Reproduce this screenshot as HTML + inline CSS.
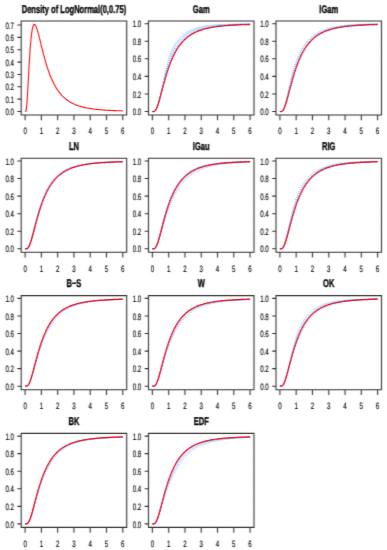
<!DOCTYPE html>
<html><head><meta charset="utf-8"><style>
html,body{margin:0;padding:0;background:#fff;}
svg{display:block;}
#w{width:387px;height:550px;}
text{font-family:"Liberation Sans",sans-serif;fill:#000;stroke:#000;text-rendering:geometricPrecision;}
</style></head><body>
<div id="w"><svg width="387" height="550" viewBox="0 0 387 550">
<defs><filter id="b" x="0" y="0" width="387" height="550" filterUnits="userSpaceOnUse"><feConvolveMatrix order="3" kernelMatrix="0.0120 0.0483 0.0120 0.1423 0.5706 0.1423 0.0120 0.0483 0.0120" edgeMode="duplicate" preserveAlpha="false"/></filter><filter id="c" x="0" y="0" width="387" height="550" filterUnits="userSpaceOnUse"><feConvolveMatrix order="3" kernelMatrix="0.0043 0.0318 0.0043 0.0979 0.7234 0.0979 0.0043 0.0318 0.0043" edgeMode="duplicate" preserveAlpha="false"/></filter></defs>
<rect width="387" height="550" fill="#fff"/>
<g filter="url(#c)">
<path d="M25.1 111.5 25.8 111.4 26.4 108.7 27.1 101.4 27.7 90.8 28.4 78.6 29.0 66.7 29.7 55.9 30.3 46.7 31.0 39.3 31.6 33.6 32.3 29.4 32.9 26.7 33.6 25.1 34.2 24.4 34.9 24.6 35.5 25.5 36.2 26.8 36.8 28.6 37.5 30.6 38.1 32.9 38.8 35.3 39.4 37.9 40.1 40.5 40.7 43.1 41.4 45.8 42.0 48.4 42.7 51.0 43.3 53.5 44.0 55.9 44.6 58.3 45.3 60.6 45.9 62.9 46.6 65.0 47.2 67.1 47.9 69.1 48.5 71.0 49.2 72.8 49.8 74.5 50.5 76.2 51.1 77.8 51.8 79.3 52.5 80.7 53.1 82.1 53.8 83.4 54.4 84.7 55.1 85.8 55.7 87.0 56.4 88.1 57.0 89.1 57.7 90.1 58.3 91.0 59.0 91.9 59.6 92.7 60.3 93.6 60.9 94.3 61.6 95.1 62.2 95.8 62.9 96.4 63.5 97.1 64.2 97.7 64.8 98.2 65.5 98.8 66.1 99.3 66.8 99.8 67.4 100.3 68.1 100.7 68.7 101.2 69.4 101.6 70.0 102.0 70.7 102.4 71.3 102.7 72.0 103.1 72.6 103.4 73.3 103.7 73.9 104.0 74.6 104.3 75.2 104.6 75.9 104.9 76.5 105.1 77.2 105.3 77.8 105.6 78.5 105.8 79.1 106.0 79.8 106.2 80.5 106.4 81.1 106.6 81.8 106.8 82.4 106.9 83.1 107.1 83.7 107.3 84.4 107.4 85.0 107.6 85.7 107.7 86.3 107.8 87.0 108.0 87.6 108.1 88.3 108.2 88.9 108.3 89.6 108.4 90.2 108.5 90.9 108.6 91.5 108.7 92.2 108.8 92.8 108.9 93.5 109.0 94.1 109.1 94.8 109.2 95.4 109.2 96.1 109.3 96.7 109.4 97.4 109.5 98.0 109.5 98.7 109.6 99.3 109.7 100.0 109.7 100.6 109.8 101.3 109.8 101.9 109.9 102.6 109.9 103.2 110.0 103.9 110.0 104.5 110.1 105.2 110.1 105.8 110.2 106.5 110.2 107.2 110.2 107.8 110.3 108.5 110.3 109.1 110.4 109.8 110.4 110.4 110.4 111.1 110.5 111.7 110.5 112.4 110.5 113.0 110.5 113.7 110.6 114.3 110.6 115.0 110.6 115.6 110.7 116.3 110.7 116.9 110.7 117.6 110.7 118.2 110.7 118.9 110.8 119.5 110.8 120.2 110.8 120.8 110.8 121.5 110.8 122.1 110.9 122.8 110.9" fill="none" stroke="#ff1010" stroke-width="1.1"/>
<path d="M152.4 111.5 153.1 111.5 153.7 111.5 154.4 111.3 155.0 110.9 155.7 110.1 156.3 109.0 157.0 107.6 157.6 105.9 158.2 103.9 158.9 101.8 159.5 99.5 160.2 97.1 160.8 94.7 161.4 92.2 162.0 89.7 162.6 87.2 163.3 84.8 163.9 82.4 164.5 80.1 165.1 77.8 165.7 75.6 166.3 73.4 166.9 71.3 167.5 69.3 168.1 67.4 168.7 65.5 169.3 63.7 169.9 62.0 170.5 60.4 171.1 58.8 171.7 57.3 172.3 55.8 173.0 54.5 173.6 53.1 174.2 51.9 174.8 50.7 175.5 49.5 176.1 48.4 176.8 47.3 177.4 46.3 178.1 45.3 178.7 44.4 179.4 43.5 180.1 42.7 180.7 41.9 181.4 41.1 182.1 40.4 182.7 39.7 183.4 39.0 184.1 38.4 184.8 37.7 185.4 37.2 186.1 36.6 186.8 36.1 187.5 35.6 188.1 35.1 188.8 34.6 189.5 34.2 190.2 33.8 190.9 33.4 191.5 33.0 192.2 32.6 192.9 32.3 193.6 31.9 194.2 31.6 194.9 31.3 195.6 31.0 196.3 30.7 196.9 30.5 197.6 30.2 198.3 30.0 198.9 29.7 199.6 29.5 200.3 29.3 201.0 29.1 201.6 28.9 202.3 28.7 203.0 28.5 203.6 28.4 204.3 28.2 204.9 28.0 205.6 27.9 206.3 27.7 206.9 27.6 207.6 27.5 208.3 27.4 208.9 27.2 209.6 27.1 210.2 27.0 210.9 26.9 211.5 26.8 212.2 26.7 212.9 26.6 213.5 26.5 214.2 26.4 214.8 26.3 215.5 26.2 216.1 26.2 216.8 26.1 217.5 26.0 218.1 25.9 218.8 25.9 219.4 25.8 220.1 25.7 220.7 25.7 221.4 25.6 222.0 25.6 222.7 25.5 223.3 25.5 224.0 25.4 224.6 25.4 225.3 25.3 226.0 25.3 226.6 25.2 227.3 25.2 227.9 25.1 228.6 25.1 229.2 25.1 229.9 25.0 230.5 25.0 231.2 24.9 231.8 24.9 232.5 24.9 233.1 24.8 233.8 24.8 234.4 24.8 235.1 24.8 235.7 24.7 236.4 24.7 237.0 24.7 237.7 24.6 238.3 24.6 239.0 24.6 239.7 24.6 240.3 24.6 241.0 24.5 241.6 24.5 242.3 24.5 242.9 24.5 243.6 24.5 244.2 24.4 244.9 24.4 245.5 24.4 246.2 24.4 246.8 24.4 247.5 24.3 248.1 24.3 248.8 24.3 249.4 24.3 250.1 24.3" fill="none" stroke="#9ccaff" stroke-width="1.0" stroke-dasharray="1 1.2"/>
<path d="M152.4 111.5 153.1 111.5 153.7 111.5 154.4 111.3 155.0 110.9 155.7 110.1 156.3 109.0 157.0 107.6 157.6 105.9 158.2 103.9 158.9 101.8 159.5 99.5 160.1 97.1 160.7 94.7 161.4 92.2 162.0 89.7 162.5 87.2 163.1 84.8 163.7 82.4 164.3 80.0 164.9 77.7 165.4 75.5 166.0 73.3 166.6 71.2 167.2 69.2 167.7 67.3 168.3 65.4 168.9 63.6 169.5 61.9 170.0 60.2 170.6 58.6 171.2 57.1 171.8 55.6 172.4 54.2 173.1 52.9 173.7 51.6 174.3 50.4 174.9 49.2 175.6 48.0 176.2 47.0 176.9 45.9 177.5 44.9 178.2 44.0 178.8 43.1 179.5 42.2 180.2 41.4 180.9 40.6 181.5 39.9 182.2 39.2 182.9 38.5 183.6 37.8 184.3 37.2 185.0 36.6 185.7 36.1 186.4 35.5 187.1 35.0 187.8 34.5 188.4 34.1 189.1 33.6 189.8 33.2 190.5 32.8 191.2 32.4 191.9 32.1 192.6 31.7 193.3 31.4 194.0 31.1 194.7 30.8 195.4 30.5 196.0 30.2 196.7 29.9 197.4 29.7 198.1 29.5 198.8 29.2 199.4 29.0 200.1 28.8 200.8 28.6 201.5 28.4 202.1 28.3 202.8 28.1 203.5 27.9 204.2 27.8 204.8 27.6 205.5 27.5 206.2 27.3 206.8 27.2 207.5 27.1 208.2 27.0 208.8 26.9 209.5 26.7 210.2 26.6 210.8 26.5 211.5 26.4 212.1 26.4 212.8 26.3 213.5 26.2 214.1 26.1 214.8 26.0 215.4 25.9 216.1 25.9 216.8 25.8 217.4 25.7 218.1 25.7 218.7 25.6 219.4 25.5 220.0 25.5 220.7 25.4 221.4 25.4 222.0 25.3 222.7 25.3 223.3 25.2 224.0 25.2 224.6 25.1 225.3 25.1 225.9 25.1 226.6 25.0 227.2 25.0 227.9 24.9 228.6 24.9 229.2 24.9 229.9 24.8 230.5 24.8 231.2 24.8 231.8 24.8 232.5 24.7 233.1 24.7 233.8 24.7 234.4 24.6 235.1 24.6 235.7 24.6 236.4 24.6 237.0 24.5 237.7 24.5 238.3 24.5 239.0 24.5 239.6 24.5 240.3 24.4 240.9 24.4 241.6 24.4 242.3 24.4 242.9 24.4 243.6 24.4 244.2 24.3 244.9 24.3 245.5 24.3 246.2 24.3 246.8 24.3 247.5 24.3 248.1 24.2 248.8 24.2 249.4 24.2 250.1 24.2" fill="none" stroke="#9ccaff" stroke-width="1.0" stroke-dasharray="1 1.2"/>
<path d="M152.4 111.5 153.1 111.5 153.7 111.5 154.4 111.3 155.0 110.9 155.7 110.1 156.3 109.0 157.0 107.6 157.6 105.9 158.2 103.9 158.9 101.8 159.5 99.5 160.1 97.1 160.7 94.6 161.3 92.2 161.9 89.7 162.5 87.2 163.0 84.7 163.6 82.3 164.1 80.0 164.7 77.7 165.2 75.4 165.8 73.2 166.3 71.1 166.8 69.1 167.4 67.2 167.9 65.3 168.5 63.5 169.1 61.7 169.6 60.0 170.2 58.4 170.8 56.9 171.4 55.4 171.9 54.0 172.5 52.6 173.2 51.3 173.8 50.0 174.4 48.9 175.0 47.7 175.7 46.6 176.3 45.6 177.0 44.6 177.6 43.6 178.3 42.7 179.0 41.8 179.7 41.0 180.3 40.2 181.0 39.4 181.7 38.7 182.4 38.0 183.1 37.3 183.8 36.7 184.5 36.1 185.2 35.5 185.9 35.0 186.7 34.5 187.4 34.0 188.1 33.5 188.8 33.1 189.5 32.7 190.2 32.3 190.9 31.9 191.6 31.5 192.3 31.2 193.0 30.8 193.7 30.5 194.4 30.2 195.1 30.0 195.8 29.7 196.5 29.4 197.2 29.2 197.9 29.0 198.6 28.7 199.3 28.5 200.0 28.3 200.6 28.2 201.3 28.0 202.0 27.8 202.7 27.6 203.4 27.5 204.0 27.3 204.7 27.2 205.4 27.1 206.1 26.9 206.7 26.8 207.4 26.7 208.1 26.6 208.8 26.5 209.4 26.4 210.1 26.3 210.8 26.2 211.4 26.1 212.1 26.0 212.8 25.9 213.4 25.9 214.1 25.8 214.7 25.7 215.4 25.6 216.1 25.6 216.7 25.5 217.4 25.5 218.0 25.4 218.7 25.3 219.4 25.3 220.0 25.2 220.7 25.2 221.3 25.1 222.0 25.1 222.6 25.1 223.3 25.0 224.0 25.0 224.6 24.9 225.3 24.9 225.9 24.9 226.6 24.8 227.2 24.8 227.9 24.8 228.5 24.7 229.2 24.7 229.8 24.7 230.5 24.6 231.2 24.6 231.8 24.6 232.5 24.6 233.1 24.5 233.8 24.5 234.4 24.5 235.1 24.5 235.7 24.5 236.4 24.4 237.0 24.4 237.7 24.4 238.3 24.4 239.0 24.4 239.6 24.3 240.3 24.3 240.9 24.3 241.6 24.3 242.2 24.3 242.9 24.3 243.6 24.2 244.2 24.2 244.9 24.2 245.5 24.2 246.2 24.2 246.8 24.2 247.5 24.2 248.1 24.2 248.8 24.2 249.4 24.1 250.1 24.1" fill="none" stroke="#9ccaff" stroke-width="1.0" stroke-dasharray="1 1.2"/>
<path d="M152.4 111.5 153.1 111.5 153.7 111.5 154.4 111.3 155.0 110.9 155.7 110.1 156.3 109.0 157.0 107.6 157.6 105.9 158.2 103.9 158.9 101.8 159.5 99.5 160.1 97.1 160.7 94.6 161.2 92.1 161.8 89.6 162.4 87.2 162.9 84.7 163.4 82.3 164.0 79.9 164.5 77.6 165.0 75.4 165.5 73.2 166.0 71.1 166.5 69.0 167.1 67.0 167.6 65.1 168.1 63.3 168.6 61.5 169.2 59.8 169.7 58.2 170.3 56.7 170.9 55.2 171.4 53.7 172.0 52.3 172.6 51.0 173.2 49.7 173.9 48.5 174.5 47.4 175.1 46.3 175.8 45.2 176.4 44.2 177.1 43.2 177.8 42.3 178.4 41.4 179.1 40.5 179.8 39.7 180.5 38.9 181.2 38.2 181.9 37.5 182.6 36.8 183.4 36.2 184.1 35.6 184.8 35.0 185.5 34.5 186.2 33.9 187.0 33.4 187.7 33.0 188.4 32.5 189.1 32.1 189.9 31.7 190.6 31.3 191.3 31.0 192.0 30.6 192.7 30.3 193.5 30.0 194.2 29.7 194.9 29.4 195.6 29.2 196.3 28.9 197.0 28.7 197.7 28.5 198.4 28.3 199.1 28.1 199.8 27.9 200.5 27.7 201.2 27.5 201.9 27.3 202.6 27.2 203.2 27.0 203.9 26.9 204.6 26.8 205.3 26.6 206.0 26.5 206.7 26.4 207.3 26.3 208.0 26.2 208.7 26.1 209.4 26.0 210.0 25.9 210.7 25.8 211.4 25.8 212.0 25.7 212.7 25.6 213.4 25.5 214.0 25.5 214.7 25.4 215.4 25.3 216.0 25.3 216.7 25.2 217.3 25.2 218.0 25.1 218.7 25.1 219.3 25.0 220.0 25.0 220.6 24.9 221.3 24.9 222.0 24.9 222.6 24.8 223.3 24.8 223.9 24.8 224.6 24.7 225.2 24.7 225.9 24.7 226.6 24.6 227.2 24.6 227.9 24.6 228.5 24.5 229.2 24.5 229.8 24.5 230.5 24.5 231.1 24.5 231.8 24.4 232.5 24.4 233.1 24.4 233.8 24.4 234.4 24.4 235.1 24.3 235.7 24.3 236.4 24.3 237.0 24.3 237.7 24.3 238.3 24.3 239.0 24.2 239.6 24.2 240.3 24.2 240.9 24.2 241.6 24.2 242.2 24.2 242.9 24.2 243.5 24.1 244.2 24.1 244.9 24.1 245.5 24.1 246.2 24.1 246.8 24.1 247.5 24.1 248.1 24.1 248.8 24.1 249.4 24.1 250.1 24.1" fill="none" stroke="#9ccaff" stroke-width="1.0" stroke-dasharray="1 1.2"/>
<path d="M152.4 111.5 153.1 111.5 153.7 111.5 154.4 111.3 155.0 110.9 155.7 110.1 156.3 109.0 156.9 107.6 157.6 105.9 158.2 103.9 158.8 101.8 159.4 99.5 160.0 97.1 160.6 94.6 161.2 92.1 161.7 89.6 162.3 87.1 162.8 84.7 163.3 82.2 163.8 79.9 164.3 77.5 164.8 75.3 165.3 73.1 165.7 71.0 166.2 68.9 166.7 66.9 167.2 65.0 167.7 63.2 168.2 61.4 168.8 59.7 169.3 58.0 169.8 56.4 170.4 54.9 170.9 53.5 171.5 52.1 172.1 50.7 172.7 49.4 173.3 48.2 173.9 47.0 174.6 45.9 175.2 44.8 175.9 43.8 176.5 42.8 177.2 41.8 177.9 40.9 178.6 40.1 179.3 39.2 180.0 38.5 180.7 37.7 181.4 37.0 182.2 36.3 182.9 35.7 183.6 35.1 184.4 34.5 185.1 33.9 185.8 33.4 186.6 32.9 187.3 32.4 188.1 32.0 188.8 31.6 189.5 31.2 190.3 30.8 191.0 30.4 191.7 30.1 192.5 29.8 193.2 29.5 193.9 29.2 194.6 28.9 195.4 28.6 196.1 28.4 196.8 28.2 197.5 28.0 198.2 27.8 198.9 27.6 199.6 27.4 200.3 27.2 201.0 27.0 201.7 26.9 202.4 26.7 203.1 26.6 203.8 26.5 204.5 26.4 205.2 26.2 205.9 26.1 206.6 26.0 207.2 25.9 207.9 25.8 208.6 25.7 209.3 25.6 210.0 25.6 210.6 25.5 211.3 25.4 212.0 25.3 212.6 25.3 213.3 25.2 214.0 25.2 214.6 25.1 215.3 25.0 216.0 25.0 216.6 24.9 217.3 24.9 218.0 24.9 218.6 24.8 219.3 24.8 220.0 24.7 220.6 24.7 221.3 24.7 221.9 24.6 222.6 24.6 223.3 24.6 223.9 24.5 224.6 24.5 225.2 24.5 225.9 24.5 226.5 24.4 227.2 24.4 227.9 24.4 228.5 24.4 229.2 24.3 229.8 24.3 230.5 24.3 231.1 24.3 231.8 24.3 232.4 24.3 233.1 24.2 233.7 24.2 234.4 24.2 235.1 24.2 235.7 24.2 236.4 24.2 237.0 24.2 237.7 24.1 238.3 24.1 239.0 24.1 239.6 24.1 240.3 24.1 240.9 24.1 241.6 24.1 242.2 24.1 242.9 24.1 243.5 24.0 244.2 24.0 244.9 24.0 245.5 24.0 246.2 24.0 246.8 24.0 247.5 24.0 248.1 24.0 248.8 24.0 249.4 24.0 250.1 24.0" fill="none" stroke="#9ccaff" stroke-width="1.0" stroke-dasharray="1 1.2"/>
<path d="M152.4 111.5 153.1 111.5 153.7 111.5 154.4 111.3 155.0 110.9 155.7 110.1 156.3 109.0 156.9 107.6 157.6 105.9 158.2 103.9 158.8 101.8 159.4 99.5 160.0 97.1 160.6 94.6 161.1 92.1 161.7 89.6 162.2 87.1 162.7 84.6 163.1 82.2 163.6 79.8 164.1 77.5 164.5 75.2 165.0 73.0 165.5 70.9 165.9 68.8 166.4 66.8 166.9 64.9 167.3 63.0 167.8 61.2 168.3 59.5 168.8 57.8 169.3 56.2 169.9 54.7 170.4 53.2 171.0 51.8 171.6 50.4 172.2 49.1 172.8 47.9 173.4 46.7 174.0 45.5 174.7 44.4 175.3 43.4 176.0 42.4 176.7 41.4 177.4 40.5 178.1 39.6 178.8 38.8 179.5 38.0 180.2 37.2 181.0 36.5 181.7 35.8 182.4 35.2 183.2 34.5 183.9 33.9 184.7 33.4 185.4 32.9 186.2 32.4 186.9 31.9 187.7 31.4 188.4 31.0 189.2 30.6 190.0 30.2 190.7 29.9 191.4 29.5 192.2 29.2 192.9 28.9 193.7 28.6 194.4 28.4 195.1 28.1 195.9 27.9 196.6 27.7 197.3 27.5 198.0 27.3 198.8 27.1 199.5 26.9 200.2 26.7 200.9 26.6 201.6 26.4 202.3 26.3 203.0 26.2 203.7 26.0 204.4 25.9 205.1 25.8 205.8 25.7 206.5 25.6 207.2 25.5 207.8 25.4 208.5 25.4 209.2 25.3 209.9 25.2 210.6 25.1 211.2 25.1 211.9 25.0 212.6 25.0 213.3 24.9 213.9 24.8 214.6 24.8 215.3 24.7 215.9 24.7 216.6 24.7 217.3 24.6 217.9 24.6 218.6 24.5 219.3 24.5 219.9 24.5 220.6 24.5 221.3 24.4 221.9 24.4 222.6 24.4 223.2 24.3 223.9 24.3 224.6 24.3 225.2 24.3 225.9 24.3 226.5 24.2 227.2 24.2 227.8 24.2 228.5 24.2 229.2 24.2 229.8 24.2 230.5 24.1 231.1 24.1 231.8 24.1 232.4 24.1 233.1 24.1 233.7 24.1 234.4 24.1 235.1 24.0 235.7 24.0 236.4 24.0 237.0 24.0 237.7 24.0 238.3 24.0 239.0 24.0 239.6 24.0 240.3 24.0 240.9 24.0 241.6 24.0 242.2 24.0 242.9 24.0 243.5 23.9 244.2 23.9 244.8 23.9 245.5 23.9 246.2 23.9 246.8 23.9 247.5 23.9 248.1 23.9 248.8 23.9 249.4 23.9 250.1 23.9" fill="none" stroke="#9ccaff" stroke-width="1.0" stroke-dasharray="1 1.2"/>
<path d="M152.4 111.5 153.1 111.5 153.7 111.4 154.3 111.2 154.9 110.8 155.5 110.0 156.1 108.9 156.7 107.5 157.3 105.8 158.0 103.8 158.6 101.7 159.2 99.4 159.8 97.0 160.5 94.6 161.1 92.1 161.7 89.6 162.4 87.2 163.0 84.7 163.7 82.3 164.3 80.0 164.9 77.7 165.6 75.5 166.2 73.4 166.9 71.3 167.5 69.3 168.2 67.4 168.8 65.6 169.5 63.8 170.1 62.1 170.8 60.5 171.4 58.9 172.1 57.5 172.7 56.0 173.4 54.7 174.0 53.4 174.7 52.1 175.3 50.9 176.0 49.8 176.6 48.7 177.3 47.7 178.0 46.7 178.6 45.7 179.3 44.8 179.9 43.9 180.6 43.1 181.2 42.3 181.9 41.6 182.6 40.8 183.2 40.2 183.9 39.5 184.6 38.9 185.2 38.3 185.9 37.7 186.5 37.1 187.2 36.6 187.9 36.1 188.5 35.6 189.2 35.1 189.8 34.7 190.5 34.3 191.2 33.9 191.8 33.5 192.5 33.1 193.1 32.7 193.8 32.4 194.5 32.1 195.1 31.7 195.8 31.4 196.4 31.2 197.1 30.9 197.8 30.6 198.4 30.4 199.1 30.1 199.7 29.9 200.4 29.6 201.1 29.4 201.7 29.2 202.4 29.0 203.0 28.8 203.7 28.6 204.3 28.5 205.0 28.3 205.7 28.1 206.3 28.0 207.0 27.8 207.6 27.7 208.3 27.5 208.9 27.4 209.6 27.3 210.3 27.1 210.9 27.0 211.6 26.9 212.2 26.8 212.9 26.7 213.5 26.6 214.2 26.5 214.8 26.4 215.5 26.3 216.1 26.2 216.8 26.1 217.5 26.0 218.1 25.9 218.8 25.8 219.4 25.8 220.1 25.7 220.7 25.6 221.4 25.5 222.0 25.5 222.7 25.4 223.3 25.4 224.0 25.3 224.6 25.2 225.3 25.2 225.9 25.1 226.6 25.1 227.2 25.0 227.9 25.0 228.6 24.9 229.2 24.9 229.9 24.8 230.5 24.8 231.2 24.8 231.8 24.7 232.5 24.7 233.1 24.6 233.8 24.6 234.4 24.6 235.1 24.5 235.7 24.5 236.4 24.5 237.0 24.4 237.7 24.4 238.3 24.4 239.0 24.4 239.6 24.3 240.3 24.3 240.9 24.3 241.6 24.2 242.2 24.2 242.9 24.2 243.6 24.2 244.2 24.2 244.9 24.1 245.5 24.1 246.2 24.1 246.8 24.1 247.5 24.1 248.1 24.0 248.8 24.0 249.4 24.0 250.1 24.0" fill="none" stroke="#3030b0" stroke-width="0.8" stroke-opacity="0.35"/>
<path d="M152.4 111.5 153.1 111.5 153.7 111.5 154.4 111.3 155.0 110.9 155.7 110.1 156.3 109.0 157.0 107.6 157.6 105.9 158.3 103.9 158.9 101.8 159.6 99.5 160.2 97.1 160.9 94.7 161.5 92.2 162.2 89.7 162.8 87.3 163.5 84.9 164.1 82.5 164.8 80.1 165.4 77.9 166.1 75.7 166.7 73.5 167.4 71.5 168.0 69.5 168.7 67.6 169.3 65.8 170.0 64.0 170.6 62.3 171.3 60.7 171.9 59.2 172.6 57.7 173.2 56.3 173.9 54.9 174.5 53.6 175.2 52.4 175.8 51.2 176.5 50.1 177.1 49.0 177.8 48.0 178.4 47.0 179.1 46.1 179.8 45.2 180.4 44.3 181.1 43.5 181.7 42.7 182.4 42.0 183.0 41.3 183.7 40.6 184.3 39.9 185.0 39.3 185.6 38.7 186.3 38.1 186.9 37.6 187.6 37.1 188.2 36.6 188.9 36.1 189.5 35.6 190.2 35.2 190.8 34.8 191.5 34.4 192.1 34.0 192.8 33.6 193.4 33.3 194.1 32.9 194.7 32.6 195.4 32.3 196.0 32.0 196.7 31.7 197.3 31.4 198.0 31.1 198.6 30.9 199.3 30.6 199.9 30.4 200.6 30.2 201.2 30.0 201.9 29.8 202.5 29.6 203.2 29.4 203.8 29.2 204.5 29.0 205.1 28.8 205.8 28.7 206.4 28.5 207.1 28.4 207.8 28.2 208.4 28.1 209.1 27.9 209.7 27.8 210.4 27.7 211.0 27.5 211.7 27.4 212.3 27.3 213.0 27.2 213.6 27.1 214.3 27.0 214.9 26.9 215.6 26.8 216.2 26.7 216.9 26.6 217.5 26.5 218.2 26.4 218.8 26.4 219.5 26.3 220.1 26.2 220.8 26.1 221.4 26.1 222.1 26.0 222.7 25.9 223.4 25.9 224.0 25.8 224.7 25.7 225.3 25.7 226.0 25.6 226.6 25.6 227.3 25.5 227.9 25.5 228.6 25.4 229.2 25.4 229.9 25.3 230.5 25.3 231.2 25.3 231.8 25.2 232.5 25.2 233.1 25.1 233.8 25.1 234.5 25.1 235.1 25.0 235.8 25.0 236.4 25.0 237.1 24.9 237.7 24.9 238.4 24.9 239.0 24.8 239.7 24.8 240.3 24.8 241.0 24.7 241.6 24.7 242.3 24.7 242.9 24.7 243.6 24.6 244.2 24.6 244.9 24.6 245.5 24.6 246.2 24.6 246.8 24.5 247.5 24.5 248.1 24.5 248.8 24.5 249.4 24.5 250.1 24.4" fill="none" stroke="#ff0000" stroke-width="1.25"/>
<path d="M152.4 111.5 153.1 111.5 153.7 111.5 154.3 111.3 155.0 110.8 155.6 110.1 156.2 109.0 156.8 107.5 157.5 105.8 158.1 103.9 158.7 101.7 159.4 99.4 160.0 97.1 160.7 94.6 161.3 92.2 162.0 89.7 162.6 87.2 163.2 84.8 163.9 82.4 164.5 80.1 165.2 77.8 165.8 75.6 166.5 73.5 167.1 71.4 167.8 69.4 168.4 67.5 169.1 65.7 169.7 63.9 170.4 62.2 171.0 60.6 171.7 59.1 172.3 57.6 173.0 56.2 173.6 54.8 174.3 53.5 174.9 52.3 175.6 51.1 176.2 49.9 176.9 48.9 177.5 47.8 178.2 46.8 178.9 45.9 179.5 45.0 180.2 44.1 180.8 43.3 181.5 42.5 182.1 41.8 182.8 41.1 183.4 40.4 184.1 39.7 184.8 39.1 185.4 38.5 186.1 37.9 186.7 37.4 187.4 36.8 188.0 36.3 188.7 35.8 189.3 35.4 190.0 34.9 190.7 34.5 191.3 34.1 192.0 33.7 192.6 33.4 193.3 33.0 193.9 32.7 194.6 32.3 195.3 32.0 195.9 31.7 196.6 31.4 197.2 31.1 197.9 30.9 198.5 30.6 199.2 30.4 199.8 30.1 200.5 29.9 201.2 29.7 201.8 29.5 202.5 29.3 203.1 29.1 203.8 28.9 204.4 28.7 205.1 28.6 205.7 28.4 206.4 28.2 207.0 28.1 207.7 27.9 208.3 27.8 209.0 27.7 209.7 27.5 210.3 27.4 211.0 27.3 211.6 27.2 212.3 27.0 212.9 26.9 213.6 26.8 214.2 26.7 214.9 26.6 215.5 26.5 216.2 26.4 216.8 26.3 217.5 26.3 218.1 26.2 218.8 26.1 219.4 26.0 220.1 25.9 220.7 25.9 221.4 25.8 222.1 25.7 222.7 25.7 223.4 25.6 224.0 25.6 224.7 25.5 225.3 25.4 226.0 25.4 226.6 25.3 227.3 25.3 227.9 25.2 228.6 25.2 229.2 25.1 229.9 25.1 230.5 25.0 231.2 25.0 231.8 25.0 232.5 24.9 233.1 24.9 233.8 24.8 234.4 24.8 235.1 24.8 235.7 24.7 236.4 24.7 237.0 24.7 237.7 24.6 238.3 24.6 239.0 24.6 239.7 24.6 240.3 24.5 241.0 24.5 241.6 24.5 242.3 24.5 242.9 24.4 243.6 24.4 244.2 24.4 244.9 24.4 245.5 24.3 246.2 24.3 246.8 24.3 247.5 24.3 248.1 24.3 248.8 24.2 249.4 24.2 250.1 24.2" fill="none" stroke="#3030b0" stroke-width="0.9" stroke-dasharray="1.5 2.5" stroke-opacity="0.4"/>
<path d="M279.9 111.5 280.6 111.5 281.2 111.5 281.9 111.3 282.5 110.9 283.2 110.1 283.9 109.0 284.6 107.6 285.3 105.9 286.0 104.0 286.7 101.9 287.4 99.6 288.1 97.2 288.8 94.8 289.5 92.3 290.2 89.9 290.9 87.4 291.6 85.0 292.3 82.7 293.0 80.4 293.7 78.1 294.4 75.9 295.1 73.8 295.8 71.8 296.5 69.8 297.1 67.9 297.8 66.1 298.5 64.4 299.1 62.7 299.8 61.1 300.5 59.6 301.1 58.2 301.8 56.8 302.4 55.4 303.1 54.2 303.7 53.0 304.4 51.8 305.0 50.7 305.7 49.6 306.3 48.6 306.9 47.7 307.6 46.8 308.2 45.9 308.8 45.0 309.5 44.2 310.1 43.5 310.7 42.8 311.4 42.1 312.0 41.4 312.6 40.8 313.2 40.1 313.9 39.6 314.5 39.0 315.1 38.5 315.8 37.9 316.4 37.5 317.0 37.0 317.6 36.5 318.3 36.1 318.9 35.7 319.5 35.3 320.1 34.9 320.8 34.5 321.4 34.2 322.0 33.8 322.7 33.5 323.3 33.2 323.9 32.9 324.6 32.6 325.2 32.3 325.8 32.0 326.5 31.8 327.1 31.5 327.7 31.3 328.4 31.0 329.0 30.8 329.7 30.6 330.3 30.4 330.9 30.2 331.6 30.0 332.2 29.8 332.9 29.6 333.5 29.4 334.1 29.3 334.8 29.1 335.4 29.0 336.1 28.8 336.7 28.7 337.4 28.5 338.0 28.4 338.6 28.2 339.3 28.1 339.9 28.0 340.6 27.9 341.2 27.8 341.9 27.6 342.5 27.5 343.2 27.4 343.8 27.3 344.5 27.2 345.1 27.1 345.7 27.1 346.4 27.0 347.0 26.9 347.7 26.8 348.3 26.7 349.0 26.6 349.6 26.6 350.3 26.5 350.9 26.4 351.6 26.3 352.2 26.3 352.9 26.2 353.5 26.2 354.2 26.1 354.8 26.0 355.5 26.0 356.1 25.9 356.8 25.9 357.4 25.8 358.1 25.8 358.7 25.7 359.4 25.7 360.0 25.6 360.7 25.6 361.3 25.5 362.0 25.5 362.6 25.4 363.3 25.4 363.9 25.4 364.6 25.3 365.2 25.3 365.9 25.2 366.5 25.2 367.2 25.2 367.8 25.1 368.5 25.1 369.1 25.1 369.8 25.1 370.4 25.0 371.1 25.0 371.7 25.0 372.4 24.9 373.0 24.9 373.7 24.9 374.3 24.9 375.0 24.8 375.6 24.8 376.3 24.8 376.9 24.8 377.6 24.7" fill="none" stroke="#9ccaff" stroke-width="1.0" stroke-dasharray="1 1.2"/>
<path d="M279.9 111.5 280.6 111.5 281.2 111.5 281.9 111.3 282.5 110.9 283.1 110.1 283.7 109.0 284.3 107.5 284.9 105.8 285.5 103.8 286.1 101.7 286.7 99.4 287.3 97.0 287.9 94.6 288.5 92.1 289.1 89.6 289.7 87.1 290.3 84.7 290.9 82.3 291.5 79.9 292.1 77.6 292.7 75.4 293.3 73.3 293.9 71.2 294.5 69.2 295.1 67.2 295.8 65.4 296.4 63.6 297.0 61.9 297.7 60.3 298.3 58.7 299.0 57.2 299.6 55.7 300.3 54.4 300.9 53.0 301.6 51.8 302.2 50.6 302.9 49.4 303.5 48.3 304.2 47.3 304.9 46.3 305.5 45.3 306.2 44.4 306.9 43.5 307.6 42.7 308.2 41.9 308.9 41.1 309.6 40.4 310.3 39.7 310.9 39.0 311.6 38.4 312.3 37.8 313.0 37.2 313.6 36.6 314.3 36.1 315.0 35.6 315.7 35.1 316.4 34.7 317.0 34.2 317.7 33.8 318.4 33.4 319.1 33.0 319.7 32.6 320.4 32.3 321.1 31.9 321.8 31.6 322.4 31.3 323.1 31.0 323.8 30.7 324.4 30.5 325.1 30.2 325.8 30.0 326.4 29.7 327.1 29.5 327.8 29.3 328.4 29.1 329.1 28.9 329.8 28.7 330.4 28.5 331.1 28.3 331.8 28.1 332.4 28.0 333.1 27.8 333.7 27.7 334.4 27.5 335.1 27.4 335.7 27.3 336.4 27.1 337.0 27.0 337.7 26.9 338.4 26.8 339.0 26.7 339.7 26.6 340.3 26.5 341.0 26.4 341.7 26.3 342.3 26.2 343.0 26.1 343.6 26.0 344.3 25.9 344.9 25.9 345.6 25.8 346.2 25.7 346.9 25.6 347.6 25.6 348.2 25.5 348.9 25.5 349.5 25.4 350.2 25.3 350.8 25.3 351.5 25.2 352.1 25.2 352.8 25.1 353.4 25.1 354.1 25.0 354.7 25.0 355.4 24.9 356.1 24.9 356.7 24.9 357.4 24.8 358.0 24.8 358.7 24.8 359.3 24.7 360.0 24.7 360.6 24.7 361.3 24.6 361.9 24.6 362.6 24.6 363.2 24.5 363.9 24.5 364.5 24.5 365.2 24.5 365.8 24.4 366.5 24.4 367.1 24.4 367.8 24.4 368.4 24.3 369.1 24.3 369.8 24.3 370.4 24.3 371.1 24.3 371.7 24.2 372.4 24.2 373.0 24.2 373.7 24.2 374.3 24.2 375.0 24.2 375.6 24.1 376.3 24.1 376.9 24.1 377.6 24.1" fill="none" stroke="#9ccaff" stroke-width="1.0" stroke-dasharray="1 1.2"/>
<path d="M279.9 111.5 280.6 111.5 281.2 111.5 281.8 111.3 282.5 110.9 283.1 110.1 283.7 109.0 284.3 107.5 284.9 105.8 285.4 103.8 286.0 101.7 286.5 99.4 287.1 97.0 287.6 94.5 288.2 92.0 288.8 89.5 289.3 87.0 289.9 84.6 290.5 82.1 291.0 79.8 291.6 77.5 292.2 75.3 292.8 73.1 293.4 71.0 294.0 69.0 294.6 67.1 295.2 65.2 295.8 63.4 296.4 61.7 297.1 60.0 297.7 58.4 298.4 56.9 299.0 55.5 299.6 54.1 300.3 52.7 301.0 51.5 301.6 50.2 302.3 49.1 302.9 48.0 303.6 46.9 304.3 45.9 305.0 44.9 305.6 44.0 306.3 43.1 307.0 42.2 307.7 41.4 308.4 40.7 309.1 39.9 309.8 39.2 310.5 38.5 311.1 37.9 311.8 37.3 312.5 36.7 313.2 36.1 313.9 35.6 314.6 35.1 315.3 34.6 316.0 34.1 316.7 33.7 317.4 33.3 318.1 32.9 318.8 32.5 319.4 32.1 320.1 31.8 320.8 31.4 321.5 31.1 322.2 30.8 322.9 30.5 323.5 30.2 324.2 29.9 324.9 29.7 325.6 29.4 326.3 29.2 326.9 29.0 327.6 28.8 328.3 28.6 329.0 28.4 329.6 28.2 330.3 28.0 331.0 27.8 331.6 27.7 332.3 27.5 333.0 27.4 333.6 27.2 334.3 27.1 335.0 27.0 335.6 26.8 336.3 26.7 337.0 26.6 337.6 26.5 338.3 26.4 339.0 26.3 339.6 26.2 340.3 26.1 340.9 26.0 341.6 25.9 342.3 25.8 342.9 25.7 343.6 25.6 344.2 25.6 344.9 25.5 345.5 25.4 346.2 25.4 346.9 25.3 347.5 25.2 348.2 25.2 348.8 25.1 349.5 25.1 350.1 25.0 350.8 25.0 351.4 24.9 352.1 24.9 352.8 24.8 353.4 24.8 354.1 24.7 354.7 24.7 355.4 24.7 356.0 24.6 356.7 24.6 357.3 24.5 358.0 24.5 358.6 24.5 359.3 24.5 360.0 24.4 360.6 24.4 361.3 24.4 361.9 24.3 362.6 24.3 363.2 24.3 363.9 24.3 364.5 24.2 365.2 24.2 365.8 24.2 366.5 24.2 367.1 24.2 367.8 24.1 368.4 24.1 369.1 24.1 369.7 24.1 370.4 24.1 371.0 24.1 371.7 24.0 372.4 24.0 373.0 24.0 373.7 24.0 374.3 24.0 375.0 24.0 375.6 24.0 376.3 23.9 376.9 23.9 377.6 23.9" fill="none" stroke="#9ccaff" stroke-width="1.0" stroke-dasharray="1 1.2"/>
<path d="M279.9 111.5 280.6 111.5 281.2 111.5 281.8 111.3 282.5 110.8 283.1 110.1 283.7 108.9 284.2 107.5 284.8 105.7 285.3 103.8 285.8 101.6 286.4 99.3 286.9 96.9 287.4 94.4 287.9 91.9 288.4 89.4 289.0 86.9 289.5 84.5 290.0 82.0 290.6 79.7 291.1 77.4 291.7 75.1 292.3 72.9 292.9 70.8 293.4 68.8 294.0 66.9 294.6 65.0 295.2 63.2 295.9 61.4 296.5 59.8 297.1 58.2 297.7 56.6 298.4 55.2 299.0 53.8 299.7 52.4 300.3 51.1 301.0 49.9 301.7 48.7 302.4 47.6 303.0 46.5 303.7 45.5 304.4 44.5 305.1 43.6 305.8 42.7 306.5 41.8 307.2 41.0 307.9 40.2 308.6 39.4 309.3 38.7 310.0 38.1 310.7 37.4 311.4 36.8 312.1 36.2 312.8 35.6 313.5 35.1 314.2 34.6 314.9 34.1 315.6 33.6 316.3 33.2 317.0 32.7 317.7 32.3 318.4 31.9 319.1 31.6 319.8 31.2 320.5 30.9 321.2 30.6 321.9 30.3 322.6 30.0 323.3 29.7 324.0 29.4 324.7 29.2 325.4 28.9 326.1 28.7 326.8 28.5 327.4 28.3 328.1 28.1 328.8 27.9 329.5 27.7 330.2 27.5 330.8 27.4 331.5 27.2 332.2 27.1 332.9 26.9 333.5 26.8 334.2 26.6 334.9 26.5 335.5 26.4 336.2 26.3 336.9 26.2 337.5 26.1 338.2 26.0 338.9 25.9 339.5 25.8 340.2 25.7 340.9 25.6 341.5 25.5 342.2 25.4 342.9 25.3 343.5 25.3 344.2 25.2 344.8 25.1 345.5 25.1 346.2 25.0 346.8 25.0 347.5 24.9 348.1 24.8 348.8 24.8 349.4 24.7 350.1 24.7 350.8 24.6 351.4 24.6 352.1 24.6 352.7 24.5 353.4 24.5 354.0 24.4 354.7 24.4 355.4 24.4 356.0 24.3 356.7 24.3 357.3 24.3 358.0 24.2 358.6 24.2 359.3 24.2 359.9 24.2 360.6 24.1 361.2 24.1 361.9 24.1 362.6 24.1 363.2 24.0 363.9 24.0 364.5 24.0 365.2 24.0 365.8 24.0 366.5 24.0 367.1 23.9 367.8 23.9 368.4 23.9 369.1 23.9 369.7 23.9 370.4 23.9 371.0 23.8 371.7 23.8 372.3 23.8 373.0 23.8 373.6 23.8 374.3 23.8 375.0 23.8 375.6 23.8 376.3 23.8 376.9 23.8 377.6 23.7" fill="none" stroke="#9ccaff" stroke-width="1.0" stroke-dasharray="1 1.2"/>
<path d="M279.9 111.5 280.6 111.5 281.2 111.4 281.8 111.2 282.4 110.7 283.0 110.0 283.6 108.9 284.2 107.5 284.8 105.8 285.4 103.8 286.0 101.7 286.7 99.4 287.3 97.0 287.9 94.6 288.6 92.1 289.2 89.6 289.8 87.2 290.5 84.7 291.1 82.3 291.8 80.0 292.4 77.7 293.1 75.5 293.7 73.4 294.3 71.3 295.0 69.3 295.6 67.4 296.3 65.6 296.9 63.8 297.6 62.1 298.2 60.5 298.9 58.9 299.5 57.4 300.2 56.0 300.9 54.7 301.5 53.4 302.2 52.1 302.8 50.9 303.5 49.8 304.1 48.7 304.8 47.7 305.5 46.7 306.1 45.7 306.8 44.8 307.4 43.9 308.1 43.1 308.7 42.3 309.4 41.6 310.1 40.8 310.7 40.2 311.4 39.5 312.1 38.9 312.7 38.3 313.4 37.7 314.0 37.1 314.7 36.6 315.4 36.1 316.0 35.6 316.7 35.1 317.3 34.7 318.0 34.3 318.7 33.9 319.3 33.5 320.0 33.1 320.7 32.8 321.3 32.4 322.0 32.1 322.6 31.8 323.3 31.5 324.0 31.2 324.6 30.9 325.3 30.6 325.9 30.4 326.6 30.1 327.3 29.9 327.9 29.7 328.6 29.4 329.2 29.2 329.9 29.0 330.5 28.8 331.2 28.7 331.9 28.5 332.5 28.3 333.2 28.1 333.8 28.0 334.5 27.8 335.1 27.7 335.8 27.5 336.4 27.4 337.1 27.3 337.8 27.2 338.4 27.0 339.1 26.9 339.7 26.8 340.4 26.7 341.0 26.6 341.7 26.5 342.3 26.4 343.0 26.3 343.6 26.2 344.3 26.1 345.0 26.0 345.6 26.0 346.3 25.9 346.9 25.8 347.6 25.7 348.2 25.7 348.9 25.6 349.5 25.5 350.2 25.5 350.8 25.4 351.5 25.3 352.1 25.3 352.8 25.2 353.4 25.2 354.1 25.1 354.8 25.1 355.4 25.0 356.1 25.0 356.7 24.9 357.4 24.9 358.0 24.8 358.7 24.8 359.3 24.8 360.0 24.7 360.6 24.7 361.3 24.6 361.9 24.6 362.6 24.6 363.2 24.5 363.9 24.5 364.5 24.5 365.2 24.4 365.8 24.4 366.5 24.4 367.1 24.4 367.8 24.3 368.4 24.3 369.1 24.3 369.7 24.3 370.4 24.2 371.1 24.2 371.7 24.2 372.4 24.2 373.0 24.2 373.7 24.1 374.3 24.1 375.0 24.1 375.6 24.1 376.3 24.1 376.9 24.0 377.6 24.0" fill="none" stroke="#3030b0" stroke-width="0.8" stroke-opacity="0.35"/>
<path d="M279.9 111.5 280.6 111.5 281.2 111.5 281.9 111.3 282.5 110.9 283.2 110.1 283.8 109.0 284.5 107.6 285.1 105.9 285.8 103.9 286.4 101.8 287.1 99.5 287.7 97.1 288.4 94.7 289.0 92.2 289.7 89.7 290.3 87.3 291.0 84.9 291.6 82.5 292.3 80.1 292.9 77.9 293.6 75.7 294.2 73.5 294.9 71.5 295.5 69.5 296.2 67.6 296.8 65.8 297.5 64.0 298.1 62.3 298.8 60.7 299.4 59.2 300.1 57.7 300.7 56.3 301.4 54.9 302.0 53.6 302.7 52.4 303.3 51.2 304.0 50.1 304.6 49.0 305.3 48.0 305.9 47.0 306.6 46.1 307.3 45.2 307.9 44.3 308.6 43.5 309.2 42.7 309.9 42.0 310.5 41.3 311.2 40.6 311.8 39.9 312.5 39.3 313.1 38.7 313.8 38.1 314.4 37.6 315.1 37.1 315.7 36.6 316.4 36.1 317.0 35.6 317.7 35.2 318.3 34.8 319.0 34.4 319.6 34.0 320.3 33.6 320.9 33.3 321.6 32.9 322.2 32.6 322.9 32.3 323.5 32.0 324.2 31.7 324.8 31.4 325.5 31.1 326.1 30.9 326.8 30.6 327.4 30.4 328.1 30.2 328.7 30.0 329.4 29.8 330.0 29.6 330.7 29.4 331.3 29.2 332.0 29.0 332.6 28.8 333.3 28.7 333.9 28.5 334.6 28.4 335.3 28.2 335.9 28.1 336.6 27.9 337.2 27.8 337.9 27.7 338.5 27.5 339.2 27.4 339.8 27.3 340.5 27.2 341.1 27.1 341.8 27.0 342.4 26.9 343.1 26.8 343.7 26.7 344.4 26.6 345.0 26.5 345.7 26.4 346.3 26.4 347.0 26.3 347.6 26.2 348.3 26.1 348.9 26.1 349.6 26.0 350.2 25.9 350.9 25.9 351.5 25.8 352.2 25.7 352.8 25.7 353.5 25.6 354.1 25.6 354.8 25.5 355.4 25.5 356.1 25.4 356.7 25.4 357.4 25.3 358.0 25.3 358.7 25.3 359.3 25.2 360.0 25.2 360.6 25.1 361.3 25.1 362.0 25.1 362.6 25.0 363.3 25.0 363.9 25.0 364.6 24.9 365.2 24.9 365.9 24.9 366.5 24.8 367.2 24.8 367.8 24.8 368.5 24.7 369.1 24.7 369.8 24.7 370.4 24.7 371.1 24.6 371.7 24.6 372.4 24.6 373.0 24.6 373.7 24.6 374.3 24.5 375.0 24.5 375.6 24.5 376.3 24.5 376.9 24.5 377.6 24.4" fill="none" stroke="#ff0000" stroke-width="1.25"/>
<path d="M279.9 111.5 280.6 111.5 281.2 111.4 281.8 111.2 282.4 110.8 283.1 110.1 283.7 108.9 284.3 107.5 285.0 105.8 285.6 103.9 286.2 101.7 286.9 99.4 287.5 97.1 288.1 94.6 288.8 92.2 289.4 89.7 290.1 87.2 290.7 84.8 291.4 82.4 292.0 80.1 292.7 77.8 293.3 75.6 294.0 73.5 294.6 71.4 295.3 69.4 295.9 67.5 296.6 65.7 297.2 63.9 297.9 62.2 298.5 60.6 299.2 59.1 299.8 57.6 300.5 56.2 301.1 54.8 301.8 53.5 302.4 52.3 303.1 51.1 303.7 49.9 304.4 48.9 305.0 47.8 305.7 46.8 306.4 45.9 307.0 45.0 307.7 44.1 308.3 43.3 309.0 42.5 309.6 41.8 310.3 41.1 310.9 40.4 311.6 39.7 312.3 39.1 312.9 38.5 313.6 37.9 314.2 37.4 314.9 36.8 315.5 36.3 316.2 35.8 316.9 35.4 317.5 34.9 318.2 34.5 318.8 34.1 319.5 33.7 320.1 33.4 320.8 33.0 321.4 32.7 322.1 32.3 322.8 32.0 323.4 31.7 324.1 31.4 324.7 31.2 325.4 30.9 326.0 30.6 326.7 30.4 327.3 30.2 328.0 29.9 328.7 29.7 329.3 29.5 330.0 29.3 330.6 29.1 331.3 28.9 331.9 28.7 332.6 28.6 333.2 28.4 333.9 28.2 334.5 28.1 335.2 27.9 335.8 27.8 336.5 27.7 337.2 27.5 337.8 27.4 338.5 27.3 339.1 27.2 339.8 27.1 340.4 26.9 341.1 26.8 341.7 26.7 342.4 26.6 343.0 26.5 343.7 26.5 344.3 26.4 345.0 26.3 345.6 26.2 346.3 26.1 346.9 26.0 347.6 26.0 348.2 25.9 348.9 25.8 349.6 25.8 350.2 25.7 350.9 25.6 351.5 25.6 352.2 25.5 352.8 25.5 353.5 25.4 354.1 25.3 354.8 25.3 355.4 25.2 356.1 25.2 356.7 25.2 357.4 25.1 358.0 25.1 358.7 25.0 359.3 25.0 360.0 24.9 360.6 24.9 361.3 24.9 361.9 24.8 362.6 24.8 363.2 24.8 363.9 24.7 364.5 24.7 365.2 24.7 365.8 24.6 366.5 24.6 367.2 24.6 367.8 24.6 368.5 24.5 369.1 24.5 369.8 24.5 370.4 24.5 371.1 24.4 371.7 24.4 372.4 24.4 373.0 24.4 373.7 24.3 374.3 24.3 375.0 24.3 375.6 24.3 376.3 24.3 376.9 24.2 377.6 24.2" fill="none" stroke="#3030b0" stroke-width="0.9" stroke-dasharray="1.5 2.5" stroke-opacity="0.4"/>
<path d="M25.1 248.8 25.8 248.8 26.4 248.8 27.1 248.6 27.7 248.2 28.4 247.4 29.0 246.3 29.7 244.9 30.4 243.2 31.0 241.2 31.7 239.1 32.4 236.8 33.1 234.5 33.8 232.1 34.5 229.6 35.2 227.1 35.9 224.7 36.6 222.3 37.4 219.9 38.1 217.6 38.8 215.4 39.5 213.2 40.2 211.1 40.9 209.0 41.6 207.1 42.2 205.2 42.9 203.4 43.6 201.7 44.3 200.0 45.0 198.4 45.6 196.9 46.3 195.5 47.0 194.1 47.6 192.7 48.3 191.5 49.0 190.3 49.6 189.1 50.3 188.0 50.9 187.0 51.6 186.0 52.2 185.0 52.8 184.1 53.5 183.2 54.1 182.4 54.8 181.6 55.4 180.9 56.0 180.1 56.7 179.4 57.3 178.8 57.9 178.1 58.5 177.5 59.2 177.0 59.8 176.4 60.4 175.9 61.0 175.4 61.7 174.9 62.3 174.4 62.9 173.9 63.5 173.5 64.2 173.1 64.8 172.7 65.4 172.3 66.0 171.9 66.7 171.6 67.3 171.2 67.9 170.9 68.6 170.6 69.2 170.3 69.8 170.0 70.4 169.7 71.1 169.4 71.7 169.2 72.3 168.9 73.0 168.7 73.6 168.4 74.2 168.2 74.9 168.0 75.5 167.8 76.2 167.6 76.8 167.4 77.4 167.2 78.1 167.0 78.7 166.8 79.4 166.7 80.0 166.5 80.6 166.3 81.3 166.2 81.9 166.0 82.6 165.9 83.2 165.8 83.9 165.6 84.5 165.5 85.1 165.4 85.8 165.2 86.4 165.1 87.1 165.0 87.7 164.9 88.4 164.8 89.0 164.7 89.7 164.6 90.3 164.5 91.0 164.4 91.6 164.3 92.2 164.2 92.9 164.1 93.5 164.1 94.2 164.0 94.8 163.9 95.5 163.8 96.1 163.8 96.8 163.7 97.4 163.6 98.1 163.5 98.7 163.5 99.4 163.4 100.0 163.4 100.7 163.3 101.3 163.2 102.0 163.2 102.6 163.1 103.3 163.1 103.9 163.0 104.6 163.0 105.2 162.9 105.9 162.9 106.5 162.8 107.2 162.8 107.8 162.8 108.5 162.7 109.1 162.7 109.8 162.6 110.4 162.6 111.1 162.6 111.7 162.5 112.4 162.5 113.0 162.4 113.7 162.4 114.3 162.4 115.0 162.4 115.6 162.3 116.3 162.3 116.9 162.3 117.6 162.2 118.2 162.2 118.9 162.2 119.5 162.2 120.2 162.1 120.8 162.1 121.5 162.1 122.1 162.1 122.8 162.0" fill="none" stroke="#9ccaff" stroke-width="1.0" stroke-dasharray="1 1.2"/>
<path d="M25.1 248.8 25.8 248.8 26.4 248.8 27.1 248.6 27.7 248.2 28.3 247.4 29.0 246.3 29.6 244.9 30.3 243.1 30.9 241.2 31.5 239.0 32.1 236.8 32.7 234.4 33.3 231.9 33.9 229.4 34.5 226.9 35.1 224.5 35.7 222.0 36.3 219.6 36.9 217.3 37.5 215.0 38.1 212.8 38.7 210.6 39.3 208.5 39.9 206.5 40.5 204.6 41.1 202.7 41.8 201.0 42.4 199.3 43.0 197.6 43.6 196.0 44.3 194.5 44.9 193.1 45.5 191.7 46.2 190.4 46.8 189.1 47.5 187.9 48.1 186.8 48.8 185.6 49.4 184.6 50.1 183.6 50.7 182.6 51.4 181.7 52.1 180.8 52.7 180.0 53.4 179.2 54.1 178.4 54.8 177.7 55.4 177.0 56.1 176.3 56.8 175.7 57.5 175.0 58.1 174.5 58.8 173.9 59.5 173.4 60.2 172.9 60.8 172.4 61.5 171.9 62.2 171.5 62.9 171.0 63.6 170.6 64.2 170.3 64.9 169.9 65.6 169.5 66.3 169.2 66.9 168.9 67.6 168.6 68.3 168.3 68.9 168.0 69.6 167.7 70.3 167.5 71.0 167.2 71.6 167.0 72.3 166.7 73.0 166.5 73.6 166.3 74.3 166.1 75.0 165.9 75.6 165.8 76.3 165.6 77.0 165.4 77.6 165.2 78.3 165.1 78.9 164.9 79.6 164.8 80.3 164.7 80.9 164.5 81.6 164.4 82.2 164.3 82.9 164.2 83.6 164.1 84.2 164.0 84.9 163.8 85.5 163.7 86.2 163.7 86.9 163.6 87.5 163.5 88.2 163.4 88.8 163.3 89.5 163.2 90.1 163.2 90.8 163.1 91.4 163.0 92.1 162.9 92.8 162.9 93.4 162.8 94.1 162.8 94.7 162.7 95.4 162.6 96.0 162.6 96.7 162.5 97.3 162.5 98.0 162.4 98.6 162.4 99.3 162.3 99.9 162.3 100.6 162.3 101.3 162.2 101.9 162.2 102.6 162.1 103.2 162.1 103.9 162.1 104.5 162.0 105.2 162.0 105.8 162.0 106.5 161.9 107.1 161.9 107.8 161.9 108.4 161.9 109.1 161.8 109.7 161.8 110.4 161.8 111.0 161.8 111.7 161.7 112.3 161.7 113.0 161.7 113.6 161.7 114.3 161.6 115.0 161.6 115.6 161.6 116.3 161.6 116.9 161.6 117.6 161.6 118.2 161.5 118.9 161.5 119.5 161.5 120.2 161.5 120.8 161.5 121.5 161.5 122.1 161.5 122.8 161.4" fill="none" stroke="#9ccaff" stroke-width="1.0" stroke-dasharray="1 1.2"/>
<path d="M25.1 248.8 25.8 248.8 26.4 248.7 27.0 248.5 27.6 248.1 28.2 247.3 28.8 246.2 29.4 244.8 30.0 243.1 30.6 241.1 31.3 239.0 31.9 236.7 32.5 234.3 33.2 231.9 33.8 229.4 34.4 226.9 35.1 224.5 35.7 222.0 36.3 219.6 37.0 217.3 37.6 215.0 38.3 212.8 38.9 210.7 39.6 208.6 40.2 206.6 40.9 204.7 41.5 202.9 42.2 201.1 42.8 199.4 43.5 197.8 44.1 196.2 44.8 194.8 45.4 193.3 46.1 192.0 46.7 190.7 47.4 189.4 48.0 188.2 48.7 187.1 49.3 186.0 50.0 185.0 50.7 184.0 51.3 183.0 52.0 182.1 52.6 181.2 53.3 180.4 53.9 179.6 54.6 178.9 55.3 178.1 55.9 177.5 56.6 176.8 57.3 176.2 57.9 175.6 58.6 175.0 59.2 174.4 59.9 173.9 60.6 173.4 61.2 172.9 61.9 172.4 62.5 172.0 63.2 171.6 63.9 171.2 64.5 170.8 65.2 170.4 65.9 170.0 66.5 169.7 67.2 169.4 67.8 169.1 68.5 168.8 69.2 168.5 69.8 168.2 70.5 167.9 71.1 167.7 71.8 167.4 72.4 167.2 73.1 166.9 73.8 166.7 74.4 166.5 75.1 166.3 75.7 166.1 76.4 165.9 77.1 165.8 77.7 165.6 78.4 165.4 79.0 165.3 79.7 165.1 80.3 165.0 81.0 164.8 81.6 164.7 82.3 164.6 83.0 164.4 83.6 164.3 84.3 164.2 84.9 164.1 85.6 164.0 86.2 163.9 86.9 163.8 87.5 163.7 88.2 163.6 88.8 163.5 89.5 163.4 90.2 163.3 90.8 163.2 91.5 163.1 92.1 163.1 92.8 163.0 93.4 162.9 94.1 162.9 94.7 162.8 95.4 162.7 96.0 162.7 96.7 162.6 97.3 162.6 98.0 162.5 98.6 162.4 99.3 162.4 99.9 162.3 100.6 162.3 101.3 162.2 101.9 162.2 102.6 162.2 103.2 162.1 103.9 162.1 104.5 162.0 105.2 162.0 105.8 162.0 106.5 161.9 107.1 161.9 107.8 161.8 108.4 161.8 109.1 161.8 109.7 161.8 110.4 161.7 111.0 161.7 111.7 161.7 112.3 161.6 113.0 161.6 113.6 161.6 114.3 161.6 114.9 161.5 115.6 161.5 116.3 161.5 116.9 161.5 117.6 161.4 118.2 161.4 118.9 161.4 119.5 161.4 120.2 161.4 120.8 161.4 121.5 161.3 122.1 161.3 122.8 161.3" fill="none" stroke="#3030b0" stroke-width="0.8" stroke-opacity="0.35"/>
<path d="M25.1 248.8 25.8 248.8 26.4 248.8 27.1 248.6 27.7 248.2 28.4 247.4 29.0 246.3 29.7 244.9 30.3 243.2 31.0 241.2 31.6 239.1 32.3 236.8 32.9 234.4 33.6 232.0 34.2 229.5 34.9 227.0 35.5 224.6 36.2 222.2 36.8 219.8 37.5 217.4 38.1 215.2 38.8 213.0 39.4 210.8 40.1 208.8 40.7 206.8 41.4 204.9 42.0 203.1 42.7 201.3 43.3 199.6 44.0 198.0 44.6 196.5 45.3 195.0 45.9 193.6 46.6 192.2 47.2 190.9 47.9 189.7 48.5 188.5 49.2 187.4 49.8 186.3 50.5 185.3 51.1 184.3 51.8 183.4 52.5 182.5 53.1 181.6 53.8 180.8 54.4 180.0 55.1 179.3 55.7 178.6 56.4 177.9 57.0 177.2 57.7 176.6 58.3 176.0 59.0 175.4 59.6 174.9 60.3 174.4 60.9 173.9 61.6 173.4 62.2 172.9 62.9 172.5 63.5 172.1 64.2 171.7 64.8 171.3 65.5 170.9 66.1 170.6 66.8 170.2 67.4 169.9 68.1 169.6 68.7 169.3 69.4 169.0 70.0 168.7 70.7 168.4 71.3 168.2 72.0 167.9 72.6 167.7 73.3 167.5 73.9 167.3 74.6 167.1 75.2 166.9 75.9 166.7 76.5 166.5 77.2 166.3 77.8 166.1 78.5 166.0 79.1 165.8 79.8 165.7 80.5 165.5 81.1 165.4 81.8 165.2 82.4 165.1 83.1 165.0 83.7 164.8 84.4 164.7 85.0 164.6 85.7 164.5 86.3 164.4 87.0 164.3 87.6 164.2 88.3 164.1 88.9 164.0 89.6 163.9 90.2 163.8 90.9 163.7 91.5 163.7 92.2 163.6 92.8 163.5 93.5 163.4 94.1 163.4 94.8 163.3 95.4 163.2 96.1 163.2 96.7 163.1 97.4 163.0 98.0 163.0 98.7 162.9 99.3 162.9 100.0 162.8 100.6 162.8 101.3 162.7 101.9 162.7 102.6 162.6 103.2 162.6 103.9 162.6 104.5 162.5 105.2 162.5 105.8 162.4 106.5 162.4 107.2 162.4 107.8 162.3 108.5 162.3 109.1 162.3 109.8 162.2 110.4 162.2 111.1 162.2 111.7 162.1 112.4 162.1 113.0 162.1 113.7 162.0 114.3 162.0 115.0 162.0 115.6 162.0 116.3 161.9 116.9 161.9 117.6 161.9 118.2 161.9 118.9 161.9 119.5 161.8 120.2 161.8 120.8 161.8 121.5 161.8 122.1 161.8 122.8 161.7" fill="none" stroke="#ff0000" stroke-width="1.25"/>
<path d="M25.1 248.8 25.8 248.8 26.4 248.7 27.0 248.6 27.6 248.1 28.3 247.4 28.9 246.3 29.5 244.8 30.2 243.1 30.8 241.2 31.4 239.0 32.1 236.7 32.7 234.4 33.4 231.9 34.0 229.5 34.6 227.0 35.3 224.5 35.9 222.1 36.6 219.7 37.2 217.4 37.9 215.1 38.5 212.9 39.2 210.8 39.8 208.7 40.5 206.7 41.1 204.8 41.8 203.0 42.4 201.2 43.1 199.5 43.7 197.9 44.4 196.4 45.0 194.9 45.7 193.5 46.3 192.1 47.0 190.8 47.6 189.6 48.3 188.4 48.9 187.2 49.6 186.2 50.2 185.1 50.9 184.1 51.6 183.2 52.2 182.3 52.9 181.4 53.5 180.6 54.2 179.8 54.8 179.1 55.5 178.4 56.1 177.7 56.8 177.0 57.5 176.4 58.1 175.8 58.8 175.2 59.4 174.7 60.1 174.1 60.7 173.6 61.4 173.1 62.1 172.7 62.7 172.2 63.4 171.8 64.0 171.4 64.7 171.0 65.3 170.7 66.0 170.3 66.6 170.0 67.3 169.6 68.0 169.3 68.6 169.0 69.3 168.7 69.9 168.4 70.6 168.2 71.2 167.9 71.9 167.7 72.5 167.4 73.2 167.2 73.9 167.0 74.5 166.8 75.2 166.6 75.8 166.4 76.5 166.2 77.1 166.0 77.8 165.9 78.4 165.7 79.1 165.5 79.7 165.4 80.4 165.2 81.0 165.1 81.7 165.0 82.4 164.8 83.0 164.7 83.7 164.6 84.3 164.5 85.0 164.3 85.6 164.2 86.3 164.1 86.9 164.0 87.6 163.9 88.2 163.8 88.9 163.7 89.5 163.7 90.2 163.6 90.8 163.5 91.5 163.4 92.1 163.3 92.8 163.3 93.4 163.2 94.1 163.1 94.8 163.0 95.4 163.0 96.1 162.9 96.7 162.9 97.4 162.8 98.0 162.7 98.7 162.7 99.3 162.6 100.0 162.6 100.6 162.5 101.3 162.5 101.9 162.4 102.6 162.4 103.2 162.4 103.9 162.3 104.5 162.3 105.2 162.2 105.8 162.2 106.5 162.2 107.1 162.1 107.8 162.1 108.4 162.0 109.1 162.0 109.7 162.0 110.4 162.0 111.0 161.9 111.7 161.9 112.4 161.9 113.0 161.8 113.7 161.8 114.3 161.8 115.0 161.8 115.6 161.7 116.3 161.7 116.9 161.7 117.6 161.7 118.2 161.6 118.9 161.6 119.5 161.6 120.2 161.6 120.8 161.6 121.5 161.6 122.1 161.5 122.8 161.5" fill="none" stroke="#3030b0" stroke-width="0.9" stroke-dasharray="1.5 2.5" stroke-opacity="0.4"/>
<path d="M152.4 248.8 153.1 248.8 153.7 248.8 154.4 248.6 155.0 248.2 155.7 247.4 156.3 246.3 157.0 244.9 157.6 243.2 158.3 241.2 159.0 239.1 159.6 236.8 160.3 234.4 161.0 232.0 161.7 229.6 162.4 227.1 163.0 224.6 163.7 222.2 164.4 219.9 165.1 217.5 165.8 215.3 166.5 213.1 167.2 211.0 167.9 209.0 168.6 207.0 169.3 205.1 170.0 203.3 170.7 201.6 171.4 199.9 172.1 198.3 172.8 196.8 173.4 195.4 174.1 194.0 174.8 192.7 175.5 191.4 176.1 190.2 176.8 189.0 177.4 188.0 178.1 186.9 178.8 185.9 179.4 185.0 180.0 184.0 180.7 183.2 181.3 182.3 182.0 181.5 182.6 180.8 183.2 180.1 183.9 179.4 184.5 178.7 185.1 178.1 185.8 177.5 186.4 176.9 187.0 176.3 187.7 175.8 188.3 175.3 188.9 174.8 189.5 174.3 190.2 173.9 190.8 173.4 191.4 173.0 192.0 172.6 192.7 172.2 193.3 171.9 193.9 171.5 194.6 171.2 195.2 170.8 195.8 170.5 196.4 170.2 197.1 169.9 197.7 169.6 198.3 169.4 199.0 169.1 199.6 168.8 200.2 168.6 200.9 168.4 201.5 168.1 202.2 167.9 202.8 167.7 203.4 167.5 204.1 167.3 204.7 167.1 205.4 166.9 206.0 166.7 206.6 166.6 207.3 166.4 207.9 166.2 208.6 166.1 209.2 165.9 209.8 165.8 210.5 165.6 211.1 165.5 211.8 165.4 212.4 165.3 213.1 165.1 213.7 165.0 214.4 164.9 215.0 164.8 215.7 164.7 216.3 164.6 216.9 164.5 217.6 164.4 218.2 164.3 218.9 164.2 219.5 164.1 220.2 164.0 220.8 163.9 221.5 163.9 222.1 163.8 222.8 163.7 223.4 163.6 224.1 163.6 224.7 163.5 225.4 163.4 226.0 163.4 226.7 163.3 227.3 163.2 228.0 163.2 228.6 163.1 229.3 163.1 229.9 163.0 230.6 163.0 231.2 162.9 231.9 162.9 232.5 162.8 233.2 162.8 233.8 162.7 234.5 162.7 235.1 162.6 235.8 162.6 236.4 162.6 237.1 162.5 237.7 162.5 238.4 162.4 239.0 162.4 239.7 162.4 240.3 162.3 241.0 162.3 241.6 162.3 242.3 162.2 242.9 162.2 243.6 162.2 244.2 162.1 244.9 162.1 245.5 162.1 246.2 162.1 246.8 162.0 247.5 162.0 248.1 162.0 248.8 162.0 249.4 161.9 250.1 161.9" fill="none" stroke="#9ccaff" stroke-width="1.0" stroke-dasharray="1 1.2"/>
<path d="M152.4 248.8 153.1 248.8 153.7 248.8 154.4 248.6 155.0 248.2 155.7 247.4 156.3 246.3 157.0 244.9 157.6 243.2 158.3 241.2 159.0 239.1 159.7 236.8 160.4 234.5 161.1 232.0 161.8 229.6 162.5 227.1 163.2 224.7 163.9 222.3 164.6 219.9 165.4 217.6 166.1 215.4 166.8 213.2 167.6 211.1 168.3 209.1 169.0 207.1 169.7 205.3 170.5 203.5 171.2 201.8 171.9 200.1 172.6 198.6 173.3 197.1 174.0 195.6 174.7 194.3 175.4 193.0 176.1 191.7 176.7 190.5 177.4 189.4 178.1 188.3 178.7 187.3 179.4 186.3 180.0 185.4 180.7 184.5 181.3 183.6 182.0 182.8 182.6 182.0 183.2 181.3 183.8 180.6 184.5 179.9 185.1 179.3 185.7 178.6 186.3 178.1 186.9 177.5 187.5 176.9 188.2 176.4 188.8 175.9 189.4 175.4 190.0 174.9 190.6 174.5 191.2 174.1 191.8 173.7 192.4 173.3 193.0 172.9 193.7 172.5 194.3 172.1 194.9 171.8 195.5 171.5 196.1 171.1 196.7 170.8 197.3 170.5 198.0 170.2 198.6 170.0 199.2 169.7 199.8 169.4 200.5 169.2 201.1 168.9 201.7 168.7 202.3 168.5 203.0 168.2 203.6 168.0 204.2 167.8 204.9 167.6 205.5 167.4 206.1 167.2 206.8 167.1 207.4 166.9 208.0 166.7 208.7 166.6 209.3 166.4 209.9 166.2 210.6 166.1 211.2 166.0 211.9 165.8 212.5 165.7 213.1 165.6 213.8 165.4 214.4 165.3 215.1 165.2 215.7 165.1 216.4 165.0 217.0 164.8 217.6 164.7 218.3 164.6 218.9 164.5 219.6 164.4 220.2 164.4 220.9 164.3 221.5 164.2 222.2 164.1 222.8 164.0 223.5 163.9 224.1 163.9 224.7 163.8 225.4 163.7 226.0 163.6 226.7 163.6 227.3 163.5 228.0 163.4 228.6 163.4 229.3 163.3 229.9 163.3 230.6 163.2 231.2 163.1 231.9 163.1 232.5 163.0 233.2 163.0 233.8 162.9 234.5 162.9 235.1 162.8 235.8 162.8 236.4 162.8 237.1 162.7 237.7 162.7 238.4 162.6 239.0 162.6 239.7 162.5 240.3 162.5 241.0 162.5 241.6 162.4 242.3 162.4 242.9 162.4 243.6 162.3 244.2 162.3 244.9 162.3 245.5 162.2 246.2 162.2 246.8 162.2 247.5 162.2 248.1 162.1 248.8 162.1 249.4 162.1 250.1 162.1" fill="none" stroke="#9ccaff" stroke-width="1.0" stroke-dasharray="1 1.2"/>
<path d="M152.4 248.8 153.1 248.8 153.7 248.8 154.4 248.6 155.0 248.2 155.7 247.4 156.3 246.3 157.0 244.9 157.6 243.2 158.3 241.2 159.0 239.1 159.7 236.8 160.4 234.5 161.1 232.1 161.8 229.6 162.6 227.2 163.3 224.7 164.1 222.3 164.8 220.0 165.6 217.7 166.3 215.4 167.1 213.3 167.9 211.2 168.6 209.2 169.4 207.3 170.1 205.4 170.9 203.6 171.6 201.9 172.3 200.3 173.1 198.7 173.8 197.3 174.5 195.9 175.2 194.5 175.9 193.2 176.6 192.0 177.3 190.8 178.0 189.7 178.6 188.7 179.3 187.6 179.9 186.7 180.6 185.8 181.2 184.9 181.9 184.0 182.5 183.2 183.1 182.5 183.8 181.8 184.4 181.1 185.0 180.4 185.6 179.8 186.2 179.1 186.8 178.6 187.4 178.0 188.0 177.5 188.6 176.9 189.2 176.4 189.8 176.0 190.4 175.5 191.0 175.1 191.6 174.6 192.2 174.2 192.8 173.8 193.4 173.4 194.0 173.0 194.6 172.7 195.2 172.3 195.8 172.0 196.4 171.7 197.0 171.4 197.6 171.1 198.2 170.8 198.8 170.5 199.4 170.2 200.0 169.9 200.6 169.7 201.3 169.4 201.9 169.2 202.5 169.0 203.1 168.7 203.7 168.5 204.4 168.3 205.0 168.1 205.6 167.9 206.2 167.7 206.9 167.5 207.5 167.3 208.1 167.1 208.8 167.0 209.4 166.8 210.0 166.7 210.7 166.5 211.3 166.3 211.9 166.2 212.6 166.1 213.2 165.9 213.8 165.8 214.5 165.7 215.1 165.5 215.8 165.4 216.4 165.3 217.0 165.2 217.7 165.1 218.3 165.0 219.0 164.9 219.6 164.8 220.3 164.7 220.9 164.6 221.5 164.5 222.2 164.4 222.8 164.3 223.5 164.2 224.1 164.1 224.8 164.0 225.4 164.0 226.1 163.9 226.7 163.8 227.4 163.7 228.0 163.7 228.7 163.6 229.3 163.5 230.0 163.5 230.6 163.4 231.2 163.4 231.9 163.3 232.5 163.2 233.2 163.2 233.8 163.1 234.5 163.1 235.1 163.0 235.8 163.0 236.4 162.9 237.1 162.9 237.7 162.8 238.4 162.8 239.0 162.7 239.7 162.7 240.3 162.7 241.0 162.6 241.6 162.6 242.3 162.5 242.9 162.5 243.6 162.5 244.2 162.4 244.9 162.4 245.5 162.4 246.2 162.3 246.8 162.3 247.5 162.3 248.1 162.2 248.8 162.2 249.4 162.2 250.1 162.2" fill="none" stroke="#9ccaff" stroke-width="1.0" stroke-dasharray="1 1.2"/>
<path d="M152.4 248.8 153.1 248.8 153.7 248.8 154.4 248.6 155.0 248.2 155.7 247.4 156.3 246.3 157.0 244.9 157.6 243.2 158.2 241.2 158.9 239.1 159.5 236.8 160.1 234.4 160.8 232.0 161.4 229.5 162.0 227.0 162.6 224.5 163.2 222.1 163.8 219.7 164.4 217.4 165.1 215.1 165.7 212.9 166.3 210.7 166.9 208.6 167.5 206.6 168.1 204.7 168.7 202.8 169.3 201.1 169.9 199.4 170.6 197.7 171.2 196.1 171.8 194.6 172.4 193.2 173.1 191.8 173.7 190.5 174.3 189.2 175.0 188.0 175.6 186.9 176.3 185.8 176.9 184.7 177.6 183.7 178.2 182.7 178.9 181.8 179.5 180.9 180.2 180.1 180.9 179.3 181.5 178.5 182.2 177.8 182.9 177.1 183.5 176.4 184.2 175.8 184.9 175.2 185.6 174.6 186.2 174.0 186.9 173.5 187.6 173.0 188.2 172.5 188.9 172.1 189.6 171.6 190.3 171.2 190.9 170.8 191.6 170.4 192.3 170.0 193.0 169.7 193.6 169.4 194.3 169.0 195.0 168.7 195.6 168.4 196.3 168.1 197.0 167.9 197.7 167.6 198.3 167.4 199.0 167.1 199.7 166.9 200.3 166.7 201.0 166.5 201.6 166.3 202.3 166.1 203.0 165.9 203.6 165.7 204.3 165.6 205.0 165.4 205.6 165.3 206.3 165.1 206.9 165.0 207.6 164.8 208.3 164.7 208.9 164.6 209.6 164.5 210.2 164.3 210.9 164.2 211.6 164.1 212.2 164.0 212.9 163.9 213.5 163.8 214.2 163.7 214.8 163.6 215.5 163.6 216.1 163.5 216.8 163.4 217.5 163.3 218.1 163.2 218.8 163.2 219.4 163.1 220.1 163.0 220.7 163.0 221.4 162.9 222.0 162.9 222.7 162.8 223.3 162.8 224.0 162.7 224.6 162.6 225.3 162.6 226.0 162.6 226.6 162.5 227.3 162.5 227.9 162.4 228.6 162.4 229.2 162.3 229.9 162.3 230.5 162.3 231.2 162.2 231.8 162.2 232.5 162.2 233.1 162.1 233.8 162.1 234.4 162.1 235.1 162.0 235.7 162.0 236.4 162.0 237.0 161.9 237.7 161.9 238.3 161.9 239.0 161.9 239.7 161.9 240.3 161.8 241.0 161.8 241.6 161.8 242.3 161.8 242.9 161.7 243.6 161.7 244.2 161.7 244.9 161.7 245.5 161.7 246.2 161.7 246.8 161.6 247.5 161.6 248.1 161.6 248.8 161.6 249.4 161.6 250.1 161.6" fill="none" stroke="#9ccaff" stroke-width="1.0" stroke-dasharray="1 1.2"/>
<path d="M152.4 248.8 153.1 248.8 153.7 248.7 154.3 248.5 154.9 248.0 155.5 247.3 156.1 246.2 156.7 244.8 157.3 243.0 157.9 241.1 158.5 239.0 159.1 236.7 159.8 234.3 160.4 231.9 161.0 229.4 161.7 226.9 162.3 224.4 162.9 222.0 163.6 219.6 164.2 217.3 164.9 215.0 165.5 212.8 166.1 210.7 166.8 208.6 167.4 206.6 168.1 204.7 168.7 202.9 169.4 201.1 170.0 199.4 170.7 197.8 171.3 196.2 172.0 194.7 172.6 193.3 173.3 191.9 173.9 190.6 174.6 189.4 175.2 188.2 175.9 187.0 176.6 185.9 177.2 184.9 177.9 183.9 178.5 183.0 179.2 182.1 179.9 181.2 180.5 180.4 181.2 179.6 181.8 178.8 182.5 178.1 183.2 177.4 183.8 176.7 184.5 176.1 185.1 175.5 185.8 174.9 186.5 174.3 187.1 173.8 187.8 173.3 188.5 172.8 189.1 172.4 189.8 171.9 190.5 171.5 191.1 171.1 191.8 170.7 192.4 170.3 193.1 169.9 193.8 169.6 194.4 169.3 195.1 169.0 195.7 168.7 196.4 168.4 197.1 168.1 197.7 167.8 198.4 167.6 199.1 167.3 199.7 167.1 200.4 166.9 201.0 166.6 201.7 166.4 202.3 166.2 203.0 166.0 203.7 165.8 204.3 165.7 205.0 165.5 205.6 165.3 206.3 165.2 207.0 165.0 207.6 164.9 208.3 164.7 208.9 164.6 209.6 164.5 210.2 164.3 210.9 164.2 211.5 164.1 212.2 164.0 212.9 163.9 213.5 163.8 214.2 163.7 214.8 163.6 215.5 163.5 216.1 163.4 216.8 163.3 217.4 163.2 218.1 163.1 218.7 163.1 219.4 163.0 220.1 162.9 220.7 162.8 221.4 162.8 222.0 162.7 222.7 162.6 223.3 162.6 224.0 162.5 224.6 162.5 225.3 162.4 225.9 162.3 226.6 162.3 227.2 162.2 227.9 162.2 228.5 162.1 229.2 162.1 229.9 162.1 230.5 162.0 231.2 162.0 231.8 161.9 232.5 161.9 233.1 161.9 233.8 161.8 234.4 161.8 235.1 161.8 235.7 161.7 236.4 161.7 237.0 161.7 237.7 161.6 238.3 161.6 239.0 161.6 239.6 161.5 240.3 161.5 240.9 161.5 241.6 161.5 242.2 161.4 242.9 161.4 243.5 161.4 244.2 161.4 244.9 161.4 245.5 161.3 246.2 161.3 246.8 161.3 247.5 161.3 248.1 161.3 248.8 161.2 249.4 161.2 250.1 161.2" fill="none" stroke="#3030b0" stroke-width="0.8" stroke-opacity="0.35"/>
<path d="M152.4 248.8 153.1 248.8 153.7 248.8 154.4 248.6 155.0 248.2 155.7 247.4 156.3 246.3 157.0 244.9 157.6 243.2 158.3 241.2 158.9 239.1 159.6 236.8 160.2 234.4 160.9 232.0 161.5 229.5 162.2 227.0 162.8 224.6 163.5 222.2 164.1 219.8 164.8 217.4 165.4 215.2 166.1 213.0 166.7 210.8 167.4 208.8 168.0 206.8 168.7 204.9 169.3 203.1 170.0 201.3 170.6 199.6 171.3 198.0 171.9 196.5 172.6 195.0 173.2 193.6 173.9 192.2 174.5 190.9 175.2 189.7 175.8 188.5 176.5 187.4 177.1 186.3 177.8 185.3 178.4 184.3 179.1 183.4 179.8 182.5 180.4 181.6 181.1 180.8 181.7 180.0 182.4 179.3 183.0 178.6 183.7 177.9 184.3 177.2 185.0 176.6 185.6 176.0 186.3 175.4 186.9 174.9 187.6 174.4 188.2 173.9 188.9 173.4 189.5 172.9 190.2 172.5 190.8 172.1 191.5 171.7 192.1 171.3 192.8 170.9 193.4 170.6 194.1 170.2 194.7 169.9 195.4 169.6 196.0 169.3 196.7 169.0 197.3 168.7 198.0 168.4 198.6 168.2 199.3 167.9 199.9 167.7 200.6 167.5 201.2 167.3 201.9 167.1 202.5 166.9 203.2 166.7 203.8 166.5 204.5 166.3 205.1 166.1 205.8 166.0 206.4 165.8 207.1 165.7 207.8 165.5 208.4 165.4 209.1 165.2 209.7 165.1 210.4 165.0 211.0 164.8 211.7 164.7 212.3 164.6 213.0 164.5 213.6 164.4 214.3 164.3 214.9 164.2 215.6 164.1 216.2 164.0 216.9 163.9 217.5 163.8 218.2 163.7 218.8 163.7 219.5 163.6 220.1 163.5 220.8 163.4 221.4 163.4 222.1 163.3 222.7 163.2 223.4 163.2 224.0 163.1 224.7 163.0 225.3 163.0 226.0 162.9 226.6 162.9 227.3 162.8 227.9 162.8 228.6 162.7 229.2 162.7 229.9 162.6 230.5 162.6 231.2 162.6 231.8 162.5 232.5 162.5 233.1 162.4 233.8 162.4 234.5 162.4 235.1 162.3 235.8 162.3 236.4 162.3 237.1 162.2 237.7 162.2 238.4 162.2 239.0 162.1 239.7 162.1 240.3 162.1 241.0 162.0 241.6 162.0 242.3 162.0 242.9 162.0 243.6 161.9 244.2 161.9 244.9 161.9 245.5 161.9 246.2 161.9 246.8 161.8 247.5 161.8 248.1 161.8 248.8 161.8 249.4 161.8 250.1 161.7" fill="none" stroke="#ff0000" stroke-width="1.25"/>
<path d="M152.4 248.8 153.1 248.8 153.7 248.7 154.3 248.6 154.9 248.1 155.6 247.4 156.2 246.2 156.8 244.8 157.4 243.1 158.1 241.2 158.7 239.0 159.4 236.7 160.0 234.4 160.6 231.9 161.3 229.5 161.9 227.0 162.6 224.5 163.2 222.1 163.8 219.7 164.5 217.4 165.1 215.1 165.8 212.9 166.4 210.8 167.1 208.7 167.7 206.7 168.4 204.8 169.0 203.0 169.7 201.2 170.3 199.5 171.0 197.9 171.6 196.3 172.3 194.9 172.9 193.4 173.6 192.1 174.2 190.8 174.9 189.5 175.5 188.3 176.2 187.2 176.9 186.1 177.5 185.1 178.2 184.1 178.8 183.2 179.5 182.3 180.1 181.4 180.8 180.6 181.4 179.8 182.1 179.0 182.8 178.3 183.4 177.6 184.1 177.0 184.7 176.3 185.4 175.7 186.0 175.2 186.7 174.6 187.3 174.1 188.0 173.6 188.7 173.1 189.3 172.6 190.0 172.2 190.6 171.8 191.3 171.4 192.0 171.0 192.6 170.6 193.3 170.3 193.9 169.9 194.6 169.6 195.2 169.3 195.9 169.0 196.5 168.7 197.2 168.4 197.9 168.1 198.5 167.9 199.2 167.6 199.8 167.4 200.5 167.2 201.1 167.0 201.8 166.7 202.4 166.5 203.1 166.3 203.8 166.2 204.4 166.0 205.1 165.8 205.7 165.6 206.4 165.5 207.0 165.3 207.7 165.2 208.3 165.0 209.0 164.9 209.6 164.8 210.3 164.6 210.9 164.5 211.6 164.4 212.3 164.3 212.9 164.2 213.6 164.1 214.2 164.0 214.9 163.9 215.5 163.8 216.2 163.7 216.8 163.6 217.5 163.5 218.1 163.4 218.8 163.4 219.4 163.3 220.1 163.2 220.7 163.1 221.4 163.1 222.0 163.0 222.7 162.9 223.4 162.9 224.0 162.8 224.7 162.8 225.3 162.7 226.0 162.6 226.6 162.6 227.3 162.5 227.9 162.5 228.6 162.4 229.2 162.4 229.9 162.3 230.5 162.3 231.2 162.3 231.8 162.2 232.5 162.2 233.1 162.1 233.8 162.1 234.4 162.1 235.1 162.0 235.7 162.0 236.4 162.0 237.0 161.9 237.7 161.9 238.3 161.9 239.0 161.8 239.6 161.8 240.3 161.8 241.0 161.8 241.6 161.7 242.3 161.7 242.9 161.7 243.6 161.7 244.2 161.6 244.9 161.6 245.5 161.6 246.2 161.6 246.8 161.6 247.5 161.5 248.1 161.5 248.8 161.5 249.4 161.5 250.1 161.5" fill="none" stroke="#3030b0" stroke-width="0.9" stroke-dasharray="1.5 2.5" stroke-opacity="0.4"/>
<path d="M279.9 248.8 280.6 248.8 281.2 248.8 281.9 248.6 282.5 248.2 283.2 247.4 283.8 246.3 284.5 244.9 285.2 243.2 285.9 241.3 286.6 239.1 287.3 236.9 288.0 234.5 288.7 232.1 289.4 229.6 290.1 227.2 290.8 224.7 291.5 222.3 292.2 219.9 292.9 217.6 293.6 215.4 294.3 213.2 295.0 211.1 295.7 209.1 296.4 207.1 297.1 205.2 297.8 203.4 298.4 201.7 299.1 200.0 299.8 198.4 300.4 196.9 301.1 195.5 301.8 194.1 302.4 192.7 303.1 191.5 303.7 190.3 304.4 189.1 305.0 188.0 305.7 186.9 306.3 185.9 306.9 185.0 307.6 184.1 308.2 183.2 308.8 182.3 309.5 181.5 310.1 180.8 310.7 180.1 311.4 179.4 312.0 178.7 312.6 178.0 313.2 177.4 313.9 176.8 314.5 176.3 315.1 175.7 315.7 175.2 316.4 174.7 317.0 174.3 317.6 173.8 318.2 173.4 318.9 172.9 319.5 172.5 320.1 172.1 320.8 171.8 321.4 171.4 322.0 171.1 322.6 170.7 323.3 170.4 323.9 170.1 324.5 169.8 325.2 169.5 325.8 169.3 326.4 169.0 327.1 168.7 327.7 168.5 328.4 168.3 329.0 168.0 329.6 167.8 330.3 167.6 330.9 167.4 331.5 167.2 332.2 167.0 332.8 166.8 333.5 166.7 334.1 166.5 334.8 166.3 335.4 166.2 336.0 166.0 336.7 165.9 337.3 165.7 338.0 165.6 338.6 165.4 339.3 165.3 339.9 165.2 340.6 165.1 341.2 165.0 341.8 164.8 342.5 164.7 343.1 164.6 343.8 164.5 344.4 164.4 345.1 164.3 345.7 164.2 346.4 164.1 347.0 164.1 347.7 164.0 348.3 163.9 349.0 163.8 349.6 163.7 350.3 163.7 350.9 163.6 351.6 163.5 352.2 163.5 352.9 163.4 353.5 163.3 354.2 163.3 354.8 163.2 355.5 163.2 356.1 163.1 356.8 163.0 357.4 163.0 358.1 162.9 358.7 162.9 359.4 162.8 360.0 162.8 360.7 162.8 361.3 162.7 362.0 162.7 362.6 162.6 363.3 162.6 363.9 162.5 364.6 162.5 365.2 162.5 365.9 162.4 366.5 162.4 367.2 162.4 367.8 162.3 368.5 162.3 369.1 162.3 369.8 162.2 370.4 162.2 371.1 162.2 371.7 162.2 372.4 162.1 373.0 162.1 373.7 162.1 374.3 162.1 375.0 162.0 375.6 162.0 376.3 162.0 376.9 162.0 377.6 161.9" fill="none" stroke="#9ccaff" stroke-width="1.0" stroke-dasharray="1 1.2"/>
<path d="M279.9 248.8 280.6 248.8 281.2 248.8 281.9 248.6 282.5 248.2 283.1 247.4 283.8 246.3 284.4 244.9 285.0 243.1 285.6 241.2 286.3 239.0 286.9 236.7 287.5 234.4 288.0 231.9 288.6 229.4 289.2 226.9 289.8 224.5 290.4 222.0 291.0 219.6 291.6 217.3 292.2 215.0 292.8 212.8 293.4 210.6 294.0 208.5 294.7 206.5 295.3 204.6 295.9 202.7 296.5 201.0 297.2 199.2 297.8 197.6 298.4 196.0 299.1 194.5 299.7 193.1 300.4 191.7 301.0 190.4 301.7 189.1 302.3 187.9 303.0 186.8 303.6 185.7 304.3 184.6 305.0 183.6 305.6 182.7 306.3 181.8 307.0 180.9 307.6 180.0 308.3 179.2 309.0 178.5 309.7 177.8 310.3 177.1 311.0 176.4 311.7 175.8 312.4 175.2 313.0 174.6 313.7 174.0 314.4 173.5 315.1 173.0 315.7 172.5 316.4 172.1 317.1 171.6 317.8 171.2 318.4 170.8 319.1 170.4 319.8 170.0 320.5 169.7 321.1 169.4 321.8 169.0 322.5 168.7 323.2 168.4 323.8 168.2 324.5 167.9 325.2 167.6 325.8 167.4 326.5 167.2 327.2 166.9 327.8 166.7 328.5 166.5 329.2 166.3 329.8 166.1 330.5 165.9 331.1 165.8 331.8 165.6 332.5 165.4 333.1 165.3 333.8 165.1 334.4 165.0 335.1 164.8 335.8 164.7 336.4 164.6 337.1 164.5 337.7 164.3 338.4 164.2 339.1 164.1 339.7 164.0 340.4 163.9 341.0 163.8 341.7 163.7 342.3 163.6 343.0 163.6 343.6 163.5 344.3 163.4 345.0 163.3 345.6 163.2 346.3 163.2 346.9 163.1 347.6 163.0 348.2 163.0 348.9 162.9 349.5 162.9 350.2 162.8 350.8 162.7 351.5 162.7 352.1 162.6 352.8 162.6 353.5 162.5 354.1 162.5 354.8 162.4 355.4 162.4 356.1 162.4 356.7 162.3 357.4 162.3 358.0 162.2 358.7 162.2 359.3 162.2 360.0 162.1 360.6 162.1 361.3 162.1 361.9 162.0 362.6 162.0 363.2 162.0 363.9 162.0 364.5 161.9 365.2 161.9 365.8 161.9 366.5 161.9 367.1 161.8 367.8 161.8 368.5 161.8 369.1 161.8 369.8 161.7 370.4 161.7 371.1 161.7 371.7 161.7 372.4 161.7 373.0 161.6 373.7 161.6 374.3 161.6 375.0 161.6 375.6 161.6 376.3 161.6 376.9 161.5 377.6 161.5" fill="none" stroke="#9ccaff" stroke-width="1.0" stroke-dasharray="1 1.2"/>
<path d="M279.9 248.8 280.6 248.8 281.2 248.8 281.9 248.6 282.5 248.2 283.1 247.4 283.8 246.3 284.4 244.8 285.0 243.1 285.6 241.2 286.1 239.0 286.7 236.7 287.3 234.3 287.8 231.8 288.4 229.4 288.9 226.9 289.5 224.4 290.1 221.9 290.6 219.5 291.2 217.1 291.7 214.8 292.3 212.6 292.9 210.4 293.5 208.3 294.1 206.3 294.7 204.4 295.3 202.5 295.9 200.7 296.5 199.0 297.1 197.3 297.7 195.7 298.4 194.2 299.0 192.8 299.7 191.4 300.3 190.0 301.0 188.8 301.6 187.5 302.3 186.4 302.9 185.3 303.6 184.2 304.3 183.2 305.0 182.2 305.6 181.3 306.3 180.4 307.0 179.5 307.7 178.7 308.4 178.0 309.1 177.2 309.8 176.5 310.5 175.9 311.2 175.2 311.9 174.6 312.5 174.0 313.2 173.5 313.9 172.9 314.6 172.4 315.3 171.9 316.0 171.5 316.7 171.0 317.4 170.6 318.1 170.2 318.8 169.8 319.5 169.5 320.2 169.1 320.9 168.8 321.5 168.5 322.2 168.2 322.9 167.9 323.6 167.6 324.3 167.4 324.9 167.1 325.6 166.9 326.3 166.6 327.0 166.4 327.7 166.2 328.3 166.0 329.0 165.8 329.7 165.6 330.3 165.4 331.0 165.3 331.7 165.1 332.3 165.0 333.0 164.8 333.7 164.7 334.3 164.5 335.0 164.4 335.7 164.3 336.3 164.2 337.0 164.1 337.7 163.9 338.3 163.8 339.0 163.7 339.6 163.6 340.3 163.5 341.0 163.5 341.6 163.4 342.3 163.3 342.9 163.2 343.6 163.1 344.3 163.1 344.9 163.0 345.6 162.9 346.2 162.9 346.9 162.8 347.5 162.7 348.2 162.7 348.8 162.6 349.5 162.6 350.2 162.5 350.8 162.5 351.5 162.4 352.1 162.4 352.8 162.3 353.4 162.3 354.1 162.2 354.7 162.2 355.4 162.2 356.0 162.1 356.7 162.1 357.4 162.0 358.0 162.0 358.7 162.0 359.3 161.9 360.0 161.9 360.6 161.9 361.3 161.9 361.9 161.8 362.6 161.8 363.2 161.8 363.9 161.8 364.5 161.7 365.2 161.7 365.8 161.7 366.5 161.7 367.1 161.6 367.8 161.6 368.4 161.6 369.1 161.6 369.7 161.6 370.4 161.6 371.1 161.5 371.7 161.5 372.4 161.5 373.0 161.5 373.7 161.5 374.3 161.5 375.0 161.4 375.6 161.4 376.3 161.4 376.9 161.4 377.6 161.4" fill="none" stroke="#9ccaff" stroke-width="1.0" stroke-dasharray="1 1.2"/>
<path d="M279.9 248.8 280.6 248.8 281.2 248.8 281.9 248.6 282.5 248.2 283.1 247.4 283.7 246.3 284.3 244.8 284.9 243.1 285.5 241.1 286.0 239.0 286.6 236.7 287.1 234.3 287.6 231.8 288.1 229.3 288.7 226.8 289.2 224.3 289.7 221.8 290.2 219.4 290.7 217.0 291.3 214.7 291.8 212.4 292.4 210.3 292.9 208.2 293.5 206.1 294.1 204.2 294.7 202.3 295.2 200.5 295.8 198.7 296.5 197.1 297.1 195.5 297.7 193.9 298.3 192.4 299.0 191.0 299.6 189.7 300.3 188.4 300.9 187.2 301.6 186.0 302.3 184.8 302.9 183.8 303.6 182.7 304.3 181.7 305.0 180.8 305.7 179.9 306.4 179.0 307.1 178.2 307.8 177.4 308.5 176.7 309.2 176.0 309.9 175.3 310.6 174.7 311.4 174.0 312.1 173.4 312.8 172.9 313.5 172.4 314.2 171.8 314.9 171.4 315.6 170.9 316.3 170.5 317.0 170.0 317.7 169.6 318.5 169.3 319.2 168.9 319.9 168.6 320.6 168.2 321.3 167.9 322.0 167.6 322.7 167.3 323.3 167.1 324.0 166.8 324.7 166.6 325.4 166.3 326.1 166.1 326.8 165.9 327.5 165.7 328.2 165.5 328.8 165.3 329.5 165.1 330.2 165.0 330.9 164.8 331.5 164.6 332.2 164.5 332.9 164.4 333.6 164.2 334.2 164.1 334.9 164.0 335.6 163.9 336.2 163.7 336.9 163.6 337.6 163.5 338.2 163.4 338.9 163.3 339.6 163.2 340.2 163.2 340.9 163.1 341.6 163.0 342.2 162.9 342.9 162.8 343.5 162.8 344.2 162.7 344.9 162.6 345.5 162.6 346.2 162.5 346.8 162.5 347.5 162.4 348.2 162.4 348.8 162.3 349.5 162.3 350.1 162.2 350.8 162.2 351.4 162.1 352.1 162.1 352.8 162.0 353.4 162.0 354.1 162.0 354.7 161.9 355.4 161.9 356.0 161.9 356.7 161.8 357.3 161.8 358.0 161.8 358.6 161.8 359.3 161.7 360.0 161.7 360.6 161.7 361.3 161.6 361.9 161.6 362.6 161.6 363.2 161.6 363.9 161.6 364.5 161.5 365.2 161.5 365.8 161.5 366.5 161.5 367.1 161.5 367.8 161.5 368.4 161.4 369.1 161.4 369.7 161.4 370.4 161.4 371.0 161.4 371.7 161.4 372.4 161.4 373.0 161.3 373.7 161.3 374.3 161.3 375.0 161.3 375.6 161.3 376.3 161.3 376.9 161.3 377.6 161.3" fill="none" stroke="#9ccaff" stroke-width="1.0" stroke-dasharray="1 1.2"/>
<path d="M279.9 248.8 280.6 248.8 281.2 248.7 281.8 248.5 282.4 248.0 282.9 247.3 283.5 246.2 284.1 244.7 284.7 243.0 285.4 241.1 286.0 238.9 286.6 236.7 287.2 234.3 287.9 231.9 288.5 229.4 289.1 226.9 289.8 224.4 290.4 222.0 291.0 219.6 291.7 217.3 292.3 215.0 293.0 212.8 293.6 210.7 294.3 208.6 294.9 206.6 295.6 204.7 296.2 202.8 296.8 201.1 297.5 199.4 298.2 197.8 298.8 196.2 299.5 194.7 300.1 193.3 300.8 191.9 301.4 190.6 302.1 189.4 302.7 188.2 303.4 187.0 304.1 185.9 304.7 184.9 305.4 183.9 306.0 183.0 306.7 182.1 307.3 181.2 308.0 180.4 308.7 179.6 309.3 178.8 310.0 178.1 310.7 177.4 311.3 176.7 312.0 176.1 312.7 175.5 313.3 174.9 314.0 174.4 314.6 173.8 315.3 173.3 316.0 172.8 316.6 172.4 317.3 171.9 318.0 171.5 318.6 171.1 319.3 170.7 319.9 170.3 320.6 170.0 321.3 169.6 321.9 169.3 322.6 169.0 323.3 168.7 323.9 168.4 324.6 168.1 325.2 167.8 325.9 167.6 326.6 167.3 327.2 167.1 327.9 166.9 328.5 166.7 329.2 166.5 329.9 166.3 330.5 166.1 331.2 165.9 331.8 165.7 332.5 165.5 333.1 165.4 333.8 165.2 334.5 165.0 335.1 164.9 335.8 164.8 336.4 164.6 337.1 164.5 337.7 164.4 338.4 164.2 339.1 164.1 339.7 164.0 340.4 163.9 341.0 163.8 341.7 163.7 342.3 163.6 343.0 163.5 343.6 163.4 344.3 163.3 344.9 163.2 345.6 163.2 346.3 163.1 346.9 163.0 347.6 162.9 348.2 162.9 348.9 162.8 349.5 162.7 350.2 162.7 350.8 162.6 351.5 162.6 352.1 162.5 352.8 162.4 353.4 162.4 354.1 162.3 354.7 162.3 355.4 162.2 356.1 162.2 356.7 162.1 357.4 162.1 358.0 162.1 358.7 162.0 359.3 162.0 360.0 161.9 360.6 161.9 361.3 161.9 361.9 161.8 362.6 161.8 363.2 161.8 363.9 161.7 364.5 161.7 365.2 161.7 365.8 161.6 366.5 161.6 367.1 161.6 367.8 161.6 368.4 161.5 369.1 161.5 369.7 161.5 370.4 161.5 371.0 161.4 371.7 161.4 372.4 161.4 373.0 161.4 373.7 161.4 374.3 161.3 375.0 161.3 375.6 161.3 376.3 161.3 376.9 161.3 377.6 161.3" fill="none" stroke="#3030b0" stroke-width="0.8" stroke-opacity="0.35"/>
<path d="M279.9 248.8 280.6 248.8 281.2 248.8 281.9 248.6 282.5 248.2 283.2 247.4 283.8 246.3 284.5 244.9 285.1 243.2 285.8 241.2 286.4 239.1 287.1 236.8 287.7 234.4 288.4 232.0 289.0 229.5 289.7 227.0 290.3 224.6 291.0 222.2 291.6 219.8 292.3 217.4 292.9 215.2 293.6 213.0 294.2 210.8 294.9 208.8 295.5 206.8 296.2 204.9 296.8 203.1 297.5 201.3 298.1 199.6 298.8 198.0 299.4 196.5 300.1 195.0 300.7 193.6 301.4 192.2 302.0 190.9 302.7 189.7 303.3 188.5 304.0 187.4 304.6 186.3 305.3 185.3 305.9 184.3 306.6 183.4 307.3 182.5 307.9 181.6 308.6 180.8 309.2 180.0 309.9 179.3 310.5 178.6 311.2 177.9 311.8 177.2 312.5 176.6 313.1 176.0 313.8 175.4 314.4 174.9 315.1 174.4 315.7 173.9 316.4 173.4 317.0 172.9 317.7 172.5 318.3 172.1 319.0 171.7 319.6 171.3 320.3 170.9 320.9 170.6 321.6 170.2 322.2 169.9 322.9 169.6 323.5 169.3 324.2 169.0 324.8 168.7 325.5 168.4 326.1 168.2 326.8 167.9 327.4 167.7 328.1 167.5 328.7 167.3 329.4 167.1 330.0 166.9 330.7 166.7 331.3 166.5 332.0 166.3 332.6 166.1 333.3 166.0 333.9 165.8 334.6 165.7 335.3 165.5 335.9 165.4 336.6 165.2 337.2 165.1 337.9 165.0 338.5 164.8 339.2 164.7 339.8 164.6 340.5 164.5 341.1 164.4 341.8 164.3 342.4 164.2 343.1 164.1 343.7 164.0 344.4 163.9 345.0 163.8 345.7 163.7 346.3 163.7 347.0 163.6 347.6 163.5 348.3 163.4 348.9 163.4 349.6 163.3 350.2 163.2 350.9 163.2 351.5 163.1 352.2 163.0 352.8 163.0 353.5 162.9 354.1 162.9 354.8 162.8 355.4 162.8 356.1 162.7 356.7 162.7 357.4 162.6 358.0 162.6 358.7 162.6 359.3 162.5 360.0 162.5 360.6 162.4 361.3 162.4 362.0 162.4 362.6 162.3 363.3 162.3 363.9 162.3 364.6 162.2 365.2 162.2 365.9 162.2 366.5 162.1 367.2 162.1 367.8 162.1 368.5 162.0 369.1 162.0 369.8 162.0 370.4 162.0 371.1 161.9 371.7 161.9 372.4 161.9 373.0 161.9 373.7 161.9 374.3 161.8 375.0 161.8 375.6 161.8 376.3 161.8 376.9 161.8 377.6 161.7" fill="none" stroke="#ff0000" stroke-width="1.25"/>
<path d="M279.9 248.8 280.6 248.8 281.2 248.7 281.8 248.5 282.4 248.1 283.0 247.3 283.7 246.2 284.3 244.8 284.9 243.1 285.6 241.1 286.2 239.0 286.8 236.7 287.5 234.4 288.1 231.9 288.8 229.4 289.4 227.0 290.0 224.5 290.7 222.1 291.3 219.7 292.0 217.4 292.6 215.1 293.3 212.9 293.9 210.8 294.6 208.7 295.2 206.7 295.9 204.8 296.5 203.0 297.2 201.2 297.8 199.5 298.5 197.9 299.1 196.3 299.8 194.8 300.4 193.4 301.1 192.1 301.7 190.8 302.4 189.5 303.0 188.3 303.7 187.2 304.3 186.1 305.0 185.1 305.7 184.1 306.3 183.2 307.0 182.3 307.6 181.4 308.3 180.6 308.9 179.8 309.6 179.0 310.3 178.3 310.9 177.6 311.6 177.0 312.2 176.3 312.9 175.7 313.5 175.2 314.2 174.6 314.9 174.1 315.5 173.6 316.2 173.1 316.8 172.6 317.5 172.2 318.1 171.8 318.8 171.4 319.5 171.0 320.1 170.6 320.8 170.3 321.4 169.9 322.1 169.6 322.7 169.3 323.4 169.0 324.1 168.7 324.7 168.4 325.4 168.1 326.0 167.9 326.7 167.6 327.3 167.4 328.0 167.2 328.6 167.0 329.3 166.8 330.0 166.6 330.6 166.4 331.3 166.2 331.9 166.0 332.6 165.8 333.2 165.7 333.9 165.5 334.5 165.3 335.2 165.2 335.8 165.1 336.5 164.9 337.1 164.8 337.8 164.7 338.5 164.5 339.1 164.4 339.8 164.3 340.4 164.2 341.1 164.1 341.7 164.0 342.4 163.9 343.0 163.8 343.7 163.7 344.3 163.6 345.0 163.5 345.6 163.5 346.3 163.4 346.9 163.3 347.6 163.2 348.2 163.2 348.9 163.1 349.5 163.0 350.2 163.0 350.9 162.9 351.5 162.8 352.2 162.8 352.8 162.7 353.5 162.7 354.1 162.6 354.8 162.6 355.4 162.5 356.1 162.5 356.7 162.4 357.4 162.4 358.0 162.3 358.7 162.3 359.3 162.2 360.0 162.2 360.6 162.2 361.3 162.1 361.9 162.1 362.6 162.1 363.2 162.0 363.9 162.0 364.5 162.0 365.2 161.9 365.8 161.9 366.5 161.9 367.1 161.8 367.8 161.8 368.5 161.8 369.1 161.8 369.8 161.7 370.4 161.7 371.1 161.7 371.7 161.7 372.4 161.6 373.0 161.6 373.7 161.6 374.3 161.6 375.0 161.6 375.6 161.5 376.3 161.5 376.9 161.5 377.6 161.5" fill="none" stroke="#3030b0" stroke-width="0.9" stroke-dasharray="1.5 2.5" stroke-opacity="0.4"/>
<path d="M25.1 386.2 25.8 386.2 26.4 386.2 27.1 386.0 27.7 385.6 28.4 384.8 29.0 383.7 29.7 382.3 30.3 380.6 31.0 378.6 31.7 376.5 32.3 374.2 33.0 371.9 33.7 369.4 34.4 367.0 35.1 364.5 35.8 362.1 36.5 359.6 37.2 357.3 37.9 355.0 38.6 352.7 39.3 350.5 40.0 348.4 40.7 346.4 41.4 344.4 42.1 342.5 42.8 340.7 43.5 339.0 44.2 337.4 44.8 335.8 45.5 334.2 46.2 332.8 46.9 331.4 47.5 330.1 48.2 328.8 48.9 327.6 49.5 326.5 50.2 325.4 50.8 324.3 51.5 323.3 52.1 322.4 52.8 321.5 53.4 320.6 54.0 319.7 54.7 319.0 55.3 318.2 56.0 317.5 56.6 316.8 57.2 316.1 57.8 315.5 58.5 314.9 59.1 314.3 59.7 313.7 60.3 313.2 61.0 312.7 61.6 312.2 62.2 311.7 62.8 311.2 63.5 310.8 64.1 310.4 64.7 310.0 65.4 309.6 66.0 309.2 66.6 308.9 67.2 308.5 67.9 308.2 68.5 307.9 69.1 307.6 69.8 307.3 70.4 307.0 71.0 306.7 71.7 306.4 72.3 306.2 72.9 305.9 73.6 305.7 74.2 305.5 74.8 305.2 75.5 305.0 76.1 304.8 76.8 304.6 77.4 304.4 78.0 304.2 78.7 304.1 79.3 303.9 80.0 303.7 80.6 303.6 81.2 303.4 81.9 303.3 82.5 303.1 83.2 303.0 83.8 302.8 84.5 302.7 85.1 302.6 85.8 302.5 86.4 302.3 87.0 302.2 87.7 302.1 88.3 302.0 89.0 301.9 89.6 301.8 90.3 301.7 90.9 301.6 91.6 301.5 92.2 301.4 92.9 301.4 93.5 301.3 94.2 301.2 94.8 301.1 95.5 301.0 96.1 301.0 96.8 300.9 97.4 300.8 98.1 300.8 98.7 300.7 99.4 300.6 100.0 300.6 100.7 300.5 101.3 300.5 102.0 300.4 102.6 300.4 103.3 300.3 103.9 300.3 104.6 300.2 105.2 300.2 105.9 300.1 106.5 300.1 107.2 300.0 107.8 300.0 108.5 299.9 109.1 299.9 109.8 299.9 110.4 299.8 111.1 299.8 111.7 299.8 112.4 299.7 113.0 299.7 113.7 299.7 114.3 299.6 115.0 299.6 115.6 299.6 116.3 299.5 116.9 299.5 117.6 299.5 118.2 299.5 118.9 299.4 119.5 299.4 120.2 299.4 120.8 299.4 121.5 299.3 122.1 299.3 122.8 299.3" fill="none" stroke="#9ccaff" stroke-width="1.0" stroke-dasharray="1 1.2"/>
<path d="M25.1 386.2 25.8 386.2 26.4 386.2 27.1 386.0 27.7 385.6 28.4 384.8 29.0 383.7 29.7 382.3 30.3 380.6 31.0 378.6 31.7 376.5 32.4 374.2 33.1 371.9 33.8 369.4 34.5 367.0 35.2 364.5 36.0 362.1 36.7 359.7 37.5 357.3 38.2 355.0 38.9 352.8 39.7 350.6 40.4 348.6 41.1 346.5 41.9 344.6 42.6 342.7 43.3 340.9 44.0 339.2 44.8 337.6 45.5 336.0 46.2 334.5 46.9 333.1 47.6 331.7 48.2 330.4 48.9 329.2 49.6 328.0 50.2 326.9 50.9 325.8 51.6 324.8 52.2 323.8 52.9 322.9 53.5 322.0 54.1 321.1 54.8 320.3 55.4 319.5 56.0 318.8 56.6 318.1 57.2 317.4 57.9 316.7 58.5 316.1 59.1 315.5 59.7 314.9 60.3 314.4 60.9 313.9 61.5 313.3 62.1 312.9 62.7 312.4 63.3 311.9 63.9 311.5 64.5 311.1 65.1 310.7 65.7 310.3 66.4 309.9 67.0 309.5 67.6 309.2 68.2 308.9 68.8 308.5 69.4 308.2 70.0 307.9 70.7 307.6 71.3 307.3 71.9 307.1 72.5 306.8 73.1 306.5 73.8 306.3 74.4 306.1 75.0 305.8 75.6 305.6 76.3 305.4 76.9 305.2 77.5 305.0 78.2 304.8 78.8 304.6 79.4 304.4 80.1 304.2 80.7 304.1 81.3 303.9 82.0 303.7 82.6 303.6 83.3 303.4 83.9 303.3 84.5 303.2 85.2 303.0 85.8 302.9 86.5 302.8 87.1 302.6 87.8 302.5 88.4 302.4 89.0 302.3 89.7 302.2 90.3 302.1 91.0 302.0 91.6 301.9 92.3 301.8 92.9 301.7 93.6 301.6 94.2 301.5 94.9 301.4 95.5 301.4 96.1 301.3 96.8 301.2 97.4 301.1 98.1 301.1 98.7 301.0 99.4 300.9 100.0 300.8 100.7 300.8 101.3 300.7 102.0 300.7 102.6 300.6 103.3 300.5 103.9 300.5 104.6 300.4 105.2 300.4 105.9 300.3 106.5 300.3 107.2 300.2 107.8 300.2 108.5 300.1 109.1 300.1 109.8 300.1 110.4 300.0 111.1 300.0 111.7 299.9 112.4 299.9 113.0 299.9 113.7 299.8 114.3 299.8 115.0 299.8 115.6 299.7 116.3 299.7 116.9 299.7 117.6 299.6 118.2 299.6 118.9 299.6 119.5 299.5 120.2 299.5 120.8 299.5 121.5 299.5 122.1 299.4 122.8 299.4" fill="none" stroke="#9ccaff" stroke-width="1.0" stroke-dasharray="1 1.2"/>
<path d="M25.1 386.2 25.8 386.2 26.4 386.3 27.1 386.1 27.8 385.7 28.5 384.9 29.2 383.8 29.9 382.4 30.6 380.7 31.3 378.7 32.0 376.6 32.6 374.3 33.3 371.9 34.0 369.5 34.6 367.0 35.3 364.6 36.0 362.1 36.6 359.7 37.3 357.3 38.0 355.0 38.6 352.7 39.3 350.5 39.9 348.4 40.6 346.4 41.2 344.4 41.9 342.5 42.6 340.7 43.2 338.9 43.9 337.2 44.5 335.6 45.2 334.1 45.8 332.6 46.5 331.2 47.1 329.9 47.8 328.6 48.4 327.4 49.1 326.2 49.7 325.1 50.4 324.0 51.0 323.0 51.6 322.0 52.3 321.1 52.9 320.2 53.6 319.4 54.2 318.6 54.9 317.8 55.5 317.1 56.1 316.4 56.8 315.7 57.4 315.0 58.1 314.4 58.7 313.8 59.4 313.3 60.0 312.7 60.6 312.2 61.3 311.7 61.9 311.3 62.6 310.8 63.2 310.4 63.8 310.0 64.5 309.6 65.1 309.2 65.8 308.8 66.4 308.5 67.0 308.1 67.7 307.8 68.3 307.5 69.0 307.2 69.6 306.9 70.3 306.6 70.9 306.4 71.5 306.1 72.2 305.9 72.8 305.7 73.5 305.4 74.1 305.2 74.8 305.0 75.4 304.8 76.1 304.6 76.7 304.4 77.3 304.2 78.0 304.1 78.6 303.9 79.3 303.7 79.9 303.6 80.6 303.4 81.2 303.3 81.9 303.2 82.5 303.0 83.2 302.9 83.8 302.8 84.5 302.7 85.1 302.5 85.7 302.4 86.4 302.3 87.0 302.2 87.7 302.1 88.3 302.0 89.0 301.9 89.6 301.8 90.3 301.7 90.9 301.7 91.6 301.6 92.2 301.5 92.9 301.4 93.5 301.3 94.2 301.3 94.8 301.2 95.5 301.1 96.1 301.1 96.8 301.0 97.4 300.9 98.1 300.9 98.7 300.8 99.4 300.8 100.0 300.7 100.7 300.7 101.3 300.6 102.0 300.6 102.6 300.5 103.3 300.5 103.9 300.4 104.6 300.4 105.2 300.3 105.9 300.3 106.5 300.3 107.2 300.2 107.8 300.2 108.5 300.2 109.1 300.1 109.8 300.1 110.4 300.1 111.1 300.0 111.7 300.0 112.4 300.0 113.0 299.9 113.7 299.9 114.3 299.9 115.0 299.8 115.6 299.8 116.3 299.8 116.9 299.8 117.6 299.7 118.2 299.7 118.9 299.7 119.5 299.7 120.2 299.7 120.8 299.6 121.5 299.6 122.1 299.6 122.8 299.6" fill="none" stroke="#3030b0" stroke-width="0.8" stroke-opacity="0.35"/>
<path d="M25.1 386.2 25.8 386.2 26.4 386.2 27.1 386.0 27.7 385.6 28.4 384.8 29.0 383.7 29.7 382.3 30.3 380.6 31.0 378.6 31.6 376.5 32.3 374.2 32.9 371.8 33.6 369.4 34.2 366.9 34.9 364.4 35.5 362.0 36.2 359.6 36.8 357.2 37.5 354.8 38.1 352.6 38.8 350.4 39.4 348.2 40.1 346.2 40.7 344.2 41.4 342.3 42.0 340.5 42.7 338.7 43.3 337.0 44.0 335.4 44.6 333.9 45.3 332.4 45.9 331.0 46.6 329.6 47.2 328.3 47.9 327.1 48.5 325.9 49.2 324.8 49.8 323.7 50.5 322.7 51.1 321.7 51.8 320.8 52.5 319.9 53.1 319.0 53.8 318.2 54.4 317.4 55.1 316.7 55.7 316.0 56.4 315.3 57.0 314.6 57.7 314.0 58.3 313.4 59.0 312.8 59.6 312.3 60.3 311.8 60.9 311.3 61.6 310.8 62.2 310.3 62.9 309.9 63.5 309.5 64.2 309.1 64.8 308.7 65.5 308.3 66.1 308.0 66.8 307.6 67.4 307.3 68.1 307.0 68.7 306.7 69.4 306.4 70.0 306.1 70.7 305.8 71.3 305.6 72.0 305.3 72.6 305.1 73.3 304.9 73.9 304.7 74.6 304.5 75.2 304.3 75.9 304.1 76.5 303.9 77.2 303.7 77.8 303.5 78.5 303.4 79.1 303.2 79.8 303.1 80.5 302.9 81.1 302.8 81.8 302.6 82.4 302.5 83.1 302.4 83.7 302.2 84.4 302.1 85.0 302.0 85.7 301.9 86.3 301.8 87.0 301.7 87.6 301.6 88.3 301.5 88.9 301.4 89.6 301.3 90.2 301.2 90.9 301.1 91.5 301.1 92.2 301.0 92.8 300.9 93.5 300.8 94.1 300.8 94.8 300.7 95.4 300.6 96.1 300.6 96.7 300.5 97.4 300.4 98.0 300.4 98.7 300.3 99.3 300.3 100.0 300.2 100.6 300.2 101.3 300.1 101.9 300.1 102.6 300.0 103.2 300.0 103.9 300.0 104.5 299.9 105.2 299.9 105.8 299.8 106.5 299.8 107.2 299.8 107.8 299.7 108.5 299.7 109.1 299.7 109.8 299.6 110.4 299.6 111.1 299.6 111.7 299.5 112.4 299.5 113.0 299.5 113.7 299.4 114.3 299.4 115.0 299.4 115.6 299.4 116.3 299.3 116.9 299.3 117.6 299.3 118.2 299.3 118.9 299.3 119.5 299.2 120.2 299.2 120.8 299.2 121.5 299.2 122.1 299.2 122.8 299.1" fill="none" stroke="#ff0000" stroke-width="1.25"/>
<path d="M25.1 386.2 25.8 386.2 26.4 386.2 27.1 386.1 27.8 385.6 28.4 384.9 29.1 383.8 29.8 382.3 30.5 380.6 31.1 378.7 31.8 376.5 32.4 374.3 33.1 371.9 33.8 369.4 34.4 367.0 35.1 364.5 35.7 362.0 36.4 359.6 37.1 357.2 37.7 354.9 38.4 352.6 39.0 350.5 39.7 348.3 40.3 346.3 41.0 344.3 41.6 342.4 42.3 340.6 42.9 338.8 43.6 337.1 44.3 335.5 44.9 334.0 45.6 332.5 46.2 331.1 46.9 329.8 47.5 328.5 48.2 327.2 48.8 326.1 49.5 324.9 50.1 323.9 50.7 322.8 51.4 321.9 52.0 320.9 52.7 320.0 53.3 319.2 54.0 318.4 54.6 317.6 55.3 316.9 55.9 316.2 56.6 315.5 57.2 314.8 57.9 314.2 58.5 313.6 59.2 313.1 59.8 312.5 60.4 312.0 61.1 311.5 61.7 311.0 62.4 310.6 63.0 310.1 63.7 309.7 64.3 309.3 65.0 308.9 65.6 308.6 66.3 308.2 66.9 307.9 67.6 307.6 68.2 307.2 68.8 306.9 69.5 306.7 70.1 306.4 70.8 306.1 71.4 305.9 72.1 305.6 72.7 305.4 73.4 305.2 74.0 304.9 74.7 304.7 75.3 304.5 76.0 304.3 76.6 304.2 77.3 304.0 77.9 303.8 78.6 303.6 79.2 303.5 79.9 303.3 80.5 303.2 81.2 303.0 81.8 302.9 82.5 302.8 83.1 302.6 83.8 302.5 84.4 302.4 85.1 302.3 85.7 302.2 86.4 302.1 87.0 302.0 87.7 301.9 88.3 301.8 89.0 301.7 89.6 301.6 90.3 301.5 90.9 301.4 91.6 301.3 92.2 301.2 92.9 301.2 93.5 301.1 94.2 301.0 94.8 301.0 95.5 300.9 96.1 300.8 96.8 300.8 97.4 300.7 98.1 300.6 98.7 300.6 99.4 300.5 100.0 300.5 100.7 300.4 101.3 300.4 102.0 300.3 102.6 300.3 103.3 300.2 103.9 300.2 104.6 300.1 105.2 300.1 105.9 300.1 106.5 300.0 107.2 300.0 107.8 300.0 108.5 299.9 109.1 299.9 109.8 299.9 110.4 299.8 111.1 299.8 111.7 299.8 112.4 299.7 113.0 299.7 113.7 299.7 114.3 299.6 115.0 299.6 115.6 299.6 116.3 299.6 116.9 299.5 117.6 299.5 118.2 299.5 118.9 299.5 119.5 299.5 120.2 299.4 120.8 299.4 121.5 299.4 122.1 299.4 122.8 299.4" fill="none" stroke="#3030b0" stroke-width="0.9" stroke-dasharray="1.5 2.5" stroke-opacity="0.4"/>
<path d="M152.4 386.2 153.1 386.2 153.7 386.2 154.4 386.0 155.0 385.6 155.7 384.8 156.3 383.7 157.0 382.3 157.6 380.6 158.3 378.6 159.0 376.5 159.6 374.2 160.3 371.8 161.0 369.4 161.7 367.0 162.4 364.5 163.0 362.0 163.7 359.6 164.4 357.3 165.1 354.9 165.8 352.7 166.5 350.5 167.2 348.4 167.9 346.4 168.6 344.4 169.3 342.5 170.0 340.7 170.7 339.0 171.4 337.3 172.1 335.7 172.8 334.2 173.4 332.8 174.1 331.4 174.8 330.1 175.5 328.8 176.1 327.6 176.8 326.4 177.4 325.4 178.1 324.3 178.8 323.3 179.4 322.4 180.0 321.4 180.7 320.6 181.3 319.7 182.0 318.9 182.6 318.2 183.2 317.5 183.9 316.8 184.5 316.1 185.1 315.5 185.8 314.9 186.4 314.3 187.0 313.7 187.7 313.2 188.3 312.7 188.9 312.2 189.5 311.7 190.2 311.3 190.8 310.8 191.4 310.4 192.0 310.0 192.7 309.6 193.3 309.3 193.9 308.9 194.6 308.6 195.2 308.2 195.8 307.9 196.4 307.6 197.1 307.3 197.7 307.0 198.3 306.8 199.0 306.5 199.6 306.2 200.2 306.0 200.9 305.8 201.5 305.5 202.2 305.3 202.8 305.1 203.4 304.9 204.1 304.7 204.7 304.5 205.4 304.3 206.0 304.1 206.6 304.0 207.3 303.8 207.9 303.6 208.6 303.5 209.2 303.3 209.8 303.2 210.5 303.0 211.1 302.9 211.8 302.8 212.4 302.7 213.1 302.5 213.7 302.4 214.4 302.3 215.0 302.2 215.7 302.1 216.3 302.0 216.9 301.9 217.6 301.8 218.2 301.7 218.9 301.6 219.5 301.5 220.2 301.4 220.8 301.3 221.5 301.3 222.1 301.2 222.8 301.1 223.4 301.0 224.1 301.0 224.7 300.9 225.4 300.8 226.0 300.8 226.7 300.7 227.3 300.6 228.0 300.6 228.6 300.5 229.3 300.5 229.9 300.4 230.6 300.4 231.2 300.3 231.9 300.3 232.5 300.2 233.2 300.2 233.8 300.1 234.5 300.1 235.1 300.0 235.8 300.0 236.4 300.0 237.1 299.9 237.7 299.9 238.4 299.8 239.0 299.8 239.7 299.8 240.3 299.7 241.0 299.7 241.6 299.7 242.3 299.6 242.9 299.6 243.6 299.6 244.2 299.5 244.9 299.5 245.5 299.5 246.2 299.5 246.8 299.4 247.5 299.4 248.1 299.4 248.8 299.4 249.4 299.3 250.1 299.3" fill="none" stroke="#9ccaff" stroke-width="1.0" stroke-dasharray="1 1.2"/>
<path d="M152.4 386.2 153.1 386.2 153.7 386.2 154.4 386.0 155.0 385.6 155.7 384.8 156.3 383.7 157.0 382.3 157.6 380.6 158.3 378.6 159.0 376.5 159.7 374.2 160.4 371.9 161.1 369.4 161.8 367.0 162.5 364.5 163.2 362.1 163.9 359.7 164.6 357.3 165.4 355.0 166.1 352.8 166.8 350.6 167.6 348.5 168.3 346.5 169.0 344.5 169.7 342.7 170.5 340.9 171.2 339.2 171.9 337.5 172.6 336.0 173.3 334.5 174.0 333.0 174.7 331.7 175.4 330.4 176.1 329.1 176.7 327.9 177.4 326.8 178.1 325.7 178.7 324.7 179.4 323.7 180.0 322.8 180.7 321.9 181.3 321.0 182.0 320.2 182.6 319.4 183.2 318.7 183.8 318.0 184.5 317.3 185.1 316.7 185.7 316.0 186.3 315.5 186.9 314.9 187.5 314.3 188.2 313.8 188.8 313.3 189.4 312.8 190.0 312.3 190.6 311.9 191.2 311.5 191.8 311.1 192.4 310.7 193.0 310.3 193.7 309.9 194.3 309.5 194.9 309.2 195.5 308.9 196.1 308.5 196.7 308.2 197.3 307.9 198.0 307.6 198.6 307.4 199.2 307.1 199.8 306.8 200.5 306.6 201.1 306.3 201.7 306.1 202.3 305.9 203.0 305.6 203.6 305.4 204.2 305.2 204.9 305.0 205.5 304.8 206.1 304.6 206.8 304.5 207.4 304.3 208.0 304.1 208.7 304.0 209.3 303.8 209.9 303.6 210.6 303.5 211.2 303.4 211.9 303.2 212.5 303.1 213.1 303.0 213.8 302.8 214.4 302.7 215.1 302.6 215.7 302.5 216.4 302.4 217.0 302.2 217.6 302.1 218.3 302.0 218.9 301.9 219.6 301.8 220.2 301.8 220.9 301.7 221.5 301.6 222.2 301.5 222.8 301.4 223.5 301.3 224.1 301.3 224.7 301.2 225.4 301.1 226.0 301.0 226.7 301.0 227.3 300.9 228.0 300.8 228.6 300.8 229.3 300.7 229.9 300.7 230.6 300.6 231.2 300.5 231.9 300.5 232.5 300.4 233.2 300.4 233.8 300.3 234.5 300.3 235.1 300.2 235.8 300.2 236.4 300.2 237.1 300.1 237.7 300.1 238.4 300.0 239.0 300.0 239.7 299.9 240.3 299.9 241.0 299.9 241.6 299.8 242.3 299.8 242.9 299.8 243.6 299.7 244.2 299.7 244.9 299.7 245.5 299.6 246.2 299.6 246.8 299.6 247.5 299.6 248.1 299.5 248.8 299.5 249.4 299.5 250.1 299.5" fill="none" stroke="#9ccaff" stroke-width="1.0" stroke-dasharray="1 1.2"/>
<path d="M152.4 386.2 153.1 386.2 153.7 386.2 154.4 386.0 155.0 385.6 155.7 384.8 156.3 383.7 157.0 382.3 157.6 380.6 158.3 378.6 159.0 376.5 159.7 374.2 160.4 371.9 161.1 369.5 161.9 367.0 162.6 364.6 163.3 362.1 164.1 359.7 164.9 357.4 165.6 355.1 166.4 352.9 167.1 350.7 167.9 348.6 168.7 346.6 169.4 344.7 170.2 342.8 170.9 341.0 171.7 339.4 172.4 337.7 173.1 336.2 173.9 334.7 174.6 333.3 175.3 331.9 176.0 330.7 176.7 329.4 177.4 328.3 178.0 327.2 178.7 326.1 179.4 325.1 180.0 324.1 180.7 323.2 181.3 322.3 182.0 321.5 182.6 320.7 183.2 319.9 183.8 319.2 184.4 318.5 185.1 317.9 185.7 317.2 186.3 316.6 186.9 316.0 187.5 315.5 188.1 314.9 188.7 314.4 189.3 313.9 189.8 313.4 190.4 313.0 191.0 312.5 191.6 312.1 192.2 311.7 192.8 311.3 193.4 310.9 194.0 310.5 194.6 310.2 195.2 309.8 195.8 309.5 196.4 309.2 197.0 308.8 197.6 308.5 198.2 308.2 198.8 308.0 199.4 307.7 200.0 307.4 200.7 307.2 201.3 306.9 201.9 306.7 202.5 306.4 203.1 306.2 203.7 306.0 204.4 305.8 205.0 305.6 205.6 305.4 206.2 305.2 206.9 305.0 207.5 304.8 208.1 304.6 208.8 304.4 209.4 304.3 210.0 304.1 210.7 304.0 211.3 303.8 211.9 303.7 212.6 303.5 213.2 303.4 213.8 303.2 214.5 303.1 215.1 303.0 215.8 302.9 216.4 302.7 217.0 302.6 217.7 302.5 218.3 302.4 219.0 302.3 219.6 302.2 220.3 302.1 220.9 302.0 221.5 301.9 222.2 301.8 222.8 301.7 223.5 301.6 224.1 301.6 224.8 301.5 225.4 301.4 226.1 301.3 226.7 301.2 227.4 301.2 228.0 301.1 228.7 301.0 229.3 301.0 230.0 300.9 230.6 300.8 231.2 300.8 231.9 300.7 232.5 300.7 233.2 300.6 233.8 300.6 234.5 300.5 235.1 300.4 235.8 300.4 236.4 300.3 237.1 300.3 237.7 300.3 238.4 300.2 239.0 300.2 239.7 300.1 240.3 300.1 241.0 300.0 241.6 300.0 242.3 300.0 242.9 299.9 243.6 299.9 244.2 299.9 244.9 299.8 245.5 299.8 246.2 299.8 246.8 299.7 247.5 299.7 248.1 299.7 248.8 299.6 249.4 299.6 250.1 299.6" fill="none" stroke="#9ccaff" stroke-width="1.0" stroke-dasharray="1 1.2"/>
<path d="M152.4 386.2 153.1 386.2 153.7 386.2 154.4 386.1 155.1 385.7 155.8 384.9 156.5 383.8 157.2 382.4 157.9 380.7 158.6 378.7 159.2 376.6 159.9 374.3 160.6 371.9 161.3 369.5 161.9 367.0 162.6 364.6 163.3 362.1 163.9 359.7 164.6 357.3 165.3 355.0 165.9 352.7 166.6 350.5 167.2 348.4 167.9 346.4 168.5 344.4 169.2 342.5 169.9 340.7 170.5 338.9 171.2 337.2 171.8 335.6 172.5 334.1 173.1 332.6 173.8 331.2 174.4 329.9 175.1 328.6 175.7 327.4 176.4 326.2 177.0 325.1 177.7 324.0 178.3 323.0 178.9 322.0 179.6 321.1 180.2 320.2 180.9 319.4 181.5 318.6 182.2 317.8 182.8 317.1 183.4 316.4 184.1 315.7 184.7 315.0 185.4 314.4 186.0 313.8 186.7 313.3 187.3 312.7 187.9 312.2 188.6 311.7 189.2 311.3 189.9 310.8 190.5 310.4 191.1 310.0 191.8 309.6 192.4 309.2 193.1 308.8 193.7 308.5 194.3 308.1 195.0 307.8 195.6 307.5 196.3 307.2 196.9 306.9 197.6 306.7 198.2 306.4 198.8 306.1 199.5 305.9 200.1 305.7 200.8 305.4 201.4 305.2 202.1 305.0 202.7 304.8 203.4 304.6 204.0 304.4 204.6 304.2 205.3 304.1 205.9 303.9 206.6 303.7 207.2 303.6 207.9 303.4 208.5 303.3 209.2 303.2 209.8 303.0 210.5 302.9 211.1 302.8 211.8 302.7 212.4 302.5 213.1 302.4 213.7 302.3 214.3 302.2 215.0 302.1 215.6 302.0 216.3 301.9 216.9 301.8 217.6 301.8 218.2 301.7 218.9 301.6 219.5 301.5 220.2 301.4 220.8 301.4 221.5 301.3 222.1 301.2 222.8 301.1 223.4 301.1 224.1 301.0 224.7 301.0 225.4 300.9 226.0 300.8 226.7 300.8 227.3 300.7 228.0 300.7 228.6 300.6 229.3 300.6 229.9 300.5 230.6 300.5 231.2 300.4 231.9 300.4 232.5 300.4 233.2 300.3 233.8 300.3 234.5 300.2 235.1 300.2 235.8 300.2 236.4 300.1 237.1 300.1 237.7 300.1 238.4 300.0 239.0 300.0 239.7 300.0 240.3 299.9 241.0 299.9 241.6 299.9 242.3 299.9 242.9 299.8 243.6 299.8 244.2 299.8 244.9 299.8 245.5 299.7 246.2 299.7 246.8 299.7 247.5 299.7 248.1 299.6 248.8 299.6 249.4 299.6 250.1 299.6" fill="none" stroke="#3030b0" stroke-width="0.8" stroke-opacity="0.35"/>
<path d="M152.4 386.2 153.1 386.2 153.7 386.2 154.4 386.0 155.0 385.6 155.7 384.8 156.3 383.7 157.0 382.3 157.6 380.6 158.3 378.6 158.9 376.5 159.6 374.2 160.2 371.8 160.9 369.4 161.5 366.9 162.2 364.4 162.8 362.0 163.5 359.6 164.1 357.2 164.8 354.8 165.4 352.6 166.1 350.4 166.7 348.2 167.4 346.2 168.0 344.2 168.7 342.3 169.3 340.5 170.0 338.7 170.6 337.0 171.3 335.4 171.9 333.9 172.6 332.4 173.2 331.0 173.9 329.6 174.5 328.3 175.2 327.1 175.8 325.9 176.5 324.8 177.1 323.7 177.8 322.7 178.4 321.7 179.1 320.8 179.8 319.9 180.4 319.0 181.1 318.2 181.7 317.4 182.4 316.7 183.0 316.0 183.7 315.3 184.3 314.6 185.0 314.0 185.6 313.4 186.3 312.8 186.9 312.3 187.6 311.8 188.2 311.3 188.9 310.8 189.5 310.3 190.2 309.9 190.8 309.5 191.5 309.1 192.1 308.7 192.8 308.3 193.4 308.0 194.1 307.6 194.7 307.3 195.4 307.0 196.0 306.7 196.7 306.4 197.3 306.1 198.0 305.8 198.6 305.6 199.3 305.3 199.9 305.1 200.6 304.9 201.2 304.7 201.9 304.5 202.5 304.3 203.2 304.1 203.8 303.9 204.5 303.7 205.1 303.5 205.8 303.4 206.4 303.2 207.1 303.1 207.8 302.9 208.4 302.8 209.1 302.6 209.7 302.5 210.4 302.4 211.0 302.2 211.7 302.1 212.3 302.0 213.0 301.9 213.6 301.8 214.3 301.7 214.9 301.6 215.6 301.5 216.2 301.4 216.9 301.3 217.5 301.2 218.2 301.1 218.8 301.1 219.5 301.0 220.1 300.9 220.8 300.8 221.4 300.8 222.1 300.7 222.7 300.6 223.4 300.6 224.0 300.5 224.7 300.4 225.3 300.4 226.0 300.3 226.6 300.3 227.3 300.2 227.9 300.2 228.6 300.1 229.2 300.1 229.9 300.0 230.5 300.0 231.2 300.0 231.8 299.9 232.5 299.9 233.1 299.8 233.8 299.8 234.5 299.8 235.1 299.7 235.8 299.7 236.4 299.7 237.1 299.6 237.7 299.6 238.4 299.6 239.0 299.5 239.7 299.5 240.3 299.5 241.0 299.4 241.6 299.4 242.3 299.4 242.9 299.4 243.6 299.3 244.2 299.3 244.9 299.3 245.5 299.3 246.2 299.3 246.8 299.2 247.5 299.2 248.1 299.2 248.8 299.2 249.4 299.2 250.1 299.1" fill="none" stroke="#ff0000" stroke-width="1.25"/>
<path d="M152.4 386.2 153.1 386.2 153.7 386.2 154.4 386.1 155.1 385.6 155.7 384.9 156.4 383.8 157.1 382.3 157.7 380.6 158.4 378.7 159.1 376.5 159.7 374.2 160.4 371.9 161.1 369.4 161.7 367.0 162.4 364.5 163.0 362.0 163.7 359.6 164.4 357.2 165.0 354.9 165.7 352.6 166.3 350.5 167.0 348.3 167.6 346.3 168.3 344.3 168.9 342.4 169.6 340.6 170.2 338.8 170.9 337.1 171.5 335.5 172.2 334.0 172.8 332.5 173.5 331.1 174.2 329.8 174.8 328.5 175.5 327.2 176.1 326.1 176.7 324.9 177.4 323.9 178.0 322.8 178.7 321.9 179.3 320.9 180.0 320.0 180.6 319.2 181.3 318.4 181.9 317.6 182.6 316.9 183.2 316.2 183.9 315.5 184.5 314.8 185.2 314.2 185.8 313.6 186.5 313.1 187.1 312.5 187.7 312.0 188.4 311.5 189.0 311.0 189.7 310.6 190.3 310.1 191.0 309.7 191.6 309.3 192.3 308.9 192.9 308.6 193.6 308.2 194.2 307.9 194.9 307.6 195.5 307.2 196.2 306.9 196.8 306.7 197.4 306.4 198.1 306.1 198.7 305.9 199.4 305.6 200.0 305.4 200.7 305.2 201.3 304.9 202.0 304.7 202.6 304.5 203.3 304.3 203.9 304.2 204.6 304.0 205.2 303.8 205.9 303.6 206.5 303.5 207.2 303.3 207.8 303.2 208.5 303.0 209.1 302.9 209.8 302.8 210.4 302.6 211.1 302.5 211.7 302.4 212.4 302.3 213.0 302.2 213.7 302.1 214.3 302.0 215.0 301.9 215.6 301.8 216.3 301.7 216.9 301.6 217.6 301.5 218.2 301.4 218.9 301.3 219.5 301.2 220.2 301.2 220.8 301.1 221.5 301.0 222.1 301.0 222.8 300.9 223.4 300.8 224.1 300.8 224.7 300.7 225.4 300.6 226.0 300.6 226.7 300.5 227.3 300.5 228.0 300.4 228.6 300.4 229.3 300.3 229.9 300.3 230.6 300.2 231.2 300.2 231.9 300.2 232.5 300.1 233.2 300.1 233.8 300.0 234.5 300.0 235.1 300.0 235.8 299.9 236.4 299.9 237.1 299.9 237.7 299.8 238.4 299.8 239.0 299.8 239.7 299.7 240.3 299.7 241.0 299.7 241.6 299.6 242.3 299.6 242.9 299.6 243.6 299.6 244.2 299.5 244.9 299.5 245.5 299.5 246.2 299.5 246.8 299.5 247.5 299.4 248.1 299.4 248.8 299.4 249.4 299.4 250.1 299.4" fill="none" stroke="#3030b0" stroke-width="0.9" stroke-dasharray="1.5 2.5" stroke-opacity="0.4"/>
<path d="M279.9 386.2 280.6 386.2 281.2 386.2 281.9 386.0 282.5 385.6 283.2 384.8 283.8 383.7 284.5 382.3 285.1 380.6 285.8 378.6 286.4 376.5 287.1 374.2 287.8 371.8 288.5 369.4 289.2 367.0 289.9 364.5 290.6 362.1 291.3 359.6 292.0 357.3 292.7 355.0 293.4 352.7 294.1 350.5 294.9 348.4 295.6 346.4 296.3 344.5 297.0 342.6 297.8 340.8 298.5 339.1 299.2 337.4 299.9 335.9 300.6 334.4 301.3 332.9 302.0 331.6 302.7 330.3 303.4 329.0 304.0 327.8 304.7 326.7 305.4 325.6 306.1 324.6 306.7 323.6 307.4 322.7 308.0 321.8 308.7 320.9 309.3 320.1 309.9 319.3 310.6 318.6 311.2 317.9 311.8 317.2 312.4 316.5 313.1 315.9 313.7 315.3 314.3 314.7 314.9 314.2 315.5 313.7 316.1 313.1 316.8 312.7 317.4 312.2 318.0 311.7 318.6 311.3 319.2 310.9 319.8 310.5 320.4 310.1 321.1 309.7 321.7 309.3 322.3 309.0 322.9 308.7 323.5 308.3 324.1 308.0 324.8 307.7 325.4 307.4 326.0 307.2 326.6 306.9 327.3 306.6 327.9 306.4 328.5 306.1 329.1 305.9 329.8 305.7 330.4 305.4 331.0 305.2 331.7 305.0 332.3 304.8 332.9 304.6 333.6 304.4 334.2 304.3 334.8 304.1 335.5 303.9 336.1 303.7 336.8 303.6 337.4 303.4 338.0 303.3 338.7 303.1 339.3 303.0 340.0 302.9 340.6 302.7 341.2 302.6 341.9 302.5 342.5 302.4 343.2 302.3 343.8 302.2 344.5 302.0 345.1 301.9 345.8 301.8 346.4 301.7 347.1 301.6 347.7 301.6 348.3 301.5 349.0 301.4 349.6 301.3 350.3 301.2 350.9 301.1 351.6 301.1 352.2 301.0 352.9 300.9 353.5 300.9 354.2 300.8 354.8 300.7 355.5 300.7 356.1 300.6 356.8 300.5 357.4 300.5 358.1 300.4 358.7 300.4 359.4 300.3 360.0 300.3 360.7 300.2 361.3 300.2 362.0 300.1 362.6 300.1 363.3 300.0 363.9 300.0 364.6 300.0 365.2 299.9 365.9 299.9 366.5 299.8 367.2 299.8 367.8 299.8 368.5 299.7 369.1 299.7 369.8 299.7 370.4 299.6 371.1 299.6 371.7 299.6 372.4 299.5 373.0 299.5 373.7 299.5 374.3 299.5 375.0 299.4 375.6 299.4 376.3 299.4 376.9 299.4 377.6 299.3" fill="none" stroke="#9ccaff" stroke-width="1.0" stroke-dasharray="1 1.2"/>
<path d="M279.9 386.2 280.6 386.2 281.2 386.2 281.9 386.0 282.5 385.6 283.2 384.8 283.8 383.7 284.5 382.3 285.1 380.6 285.8 378.6 286.4 376.5 287.1 374.2 287.8 371.8 288.4 369.4 289.1 366.9 289.8 364.5 290.5 362.0 291.1 359.6 291.8 357.2 292.5 354.9 293.2 352.7 293.9 350.5 294.6 348.4 295.3 346.3 296.0 344.4 296.7 342.5 297.3 340.7 298.0 338.9 298.7 337.3 299.4 335.7 300.1 334.1 300.8 332.7 301.4 331.3 302.1 330.0 302.8 328.7 303.4 327.5 304.1 326.4 304.8 325.2 305.4 324.2 306.1 323.2 306.7 322.2 307.4 321.3 308.0 320.5 308.7 319.6 309.3 318.8 310.0 318.1 310.6 317.3 311.2 316.6 311.9 316.0 312.5 315.3 313.1 314.7 313.8 314.1 314.4 313.6 315.0 313.0 315.7 312.5 316.3 312.0 316.9 311.6 317.6 311.1 318.2 310.7 318.8 310.3 319.4 309.8 320.1 309.5 320.7 309.1 321.3 308.7 322.0 308.4 322.6 308.1 323.2 307.7 323.9 307.4 324.5 307.1 325.1 306.8 325.8 306.6 326.4 306.3 327.0 306.1 327.7 305.8 328.3 305.6 329.0 305.3 329.6 305.1 330.2 304.9 330.9 304.7 331.5 304.5 332.2 304.3 332.8 304.1 333.4 304.0 334.1 303.8 334.7 303.6 335.4 303.5 336.0 303.3 336.7 303.2 337.3 303.0 338.0 302.9 338.6 302.7 339.2 302.6 339.9 302.5 340.5 302.4 341.2 302.2 341.8 302.1 342.5 302.0 343.1 301.9 343.8 301.8 344.4 301.7 345.1 301.6 345.7 301.5 346.4 301.4 347.0 301.4 347.7 301.3 348.3 301.2 349.0 301.1 349.6 301.0 350.3 301.0 350.9 300.9 351.6 300.8 352.2 300.8 352.9 300.7 353.5 300.6 354.2 300.6 354.8 300.5 355.5 300.4 356.1 300.4 356.8 300.3 357.4 300.3 358.1 300.2 358.7 300.2 359.4 300.1 360.0 300.1 360.7 300.0 361.3 300.0 362.0 300.0 362.6 299.9 363.3 299.9 363.9 299.8 364.6 299.8 365.2 299.8 365.9 299.7 366.5 299.7 367.2 299.7 367.8 299.6 368.5 299.6 369.1 299.6 369.8 299.5 370.4 299.5 371.1 299.5 371.7 299.5 372.4 299.4 373.0 299.4 373.7 299.4 374.3 299.4 375.0 299.3 375.6 299.3 376.3 299.3 376.9 299.3 377.6 299.2" fill="none" stroke="#9ccaff" stroke-width="1.0" stroke-dasharray="1 1.2"/>
<path d="M279.9 386.2 280.6 386.2 281.2 386.2 281.9 386.0 282.5 385.6 283.2 384.8 283.8 383.7 284.5 382.3 285.1 380.6 285.7 378.6 286.4 376.5 287.0 374.2 287.7 371.8 288.3 369.4 288.9 366.9 289.5 364.4 290.1 361.9 290.8 359.5 291.4 357.1 292.0 354.8 292.6 352.5 293.2 350.3 293.8 348.1 294.4 346.0 295.0 344.0 295.6 342.1 296.2 340.2 296.8 338.4 297.4 336.7 298.0 335.1 298.6 333.5 299.2 332.0 299.8 330.5 300.5 329.2 301.1 327.8 301.7 326.6 302.3 325.4 303.0 324.2 303.6 323.1 304.3 322.0 304.9 321.0 305.6 320.0 306.2 319.1 306.9 318.2 307.6 317.4 308.2 316.6 308.9 315.8 309.6 315.1 310.2 314.4 310.9 313.7 311.6 313.1 312.3 312.4 312.9 311.9 313.6 311.3 314.3 310.8 315.0 310.3 315.6 309.8 316.3 309.3 317.0 308.9 317.7 308.5 318.4 308.1 319.0 307.7 319.7 307.3 320.4 307.0 321.1 306.6 321.7 306.3 322.4 306.0 323.1 305.7 323.8 305.4 324.4 305.2 325.1 304.9 325.8 304.7 326.4 304.4 327.1 304.2 327.8 304.0 328.5 303.8 329.1 303.6 329.8 303.4 330.5 303.2 331.1 303.1 331.8 302.9 332.4 302.7 333.1 302.6 333.8 302.4 334.4 302.3 335.1 302.2 335.8 302.1 336.4 301.9 337.1 301.8 337.7 301.7 338.4 301.6 339.0 301.5 339.7 301.4 340.4 301.3 341.0 301.2 341.7 301.1 342.3 301.0 343.0 300.9 343.6 300.9 344.3 300.8 345.0 300.7 345.6 300.6 346.3 300.6 346.9 300.5 347.6 300.4 348.2 300.4 348.9 300.3 349.5 300.3 350.2 300.2 350.8 300.2 351.5 300.1 352.1 300.1 352.8 300.0 353.5 300.0 354.1 299.9 354.8 299.9 355.4 299.8 356.1 299.8 356.7 299.8 357.4 299.7 358.0 299.7 358.7 299.6 359.3 299.6 360.0 299.6 360.6 299.5 361.3 299.5 361.9 299.5 362.6 299.5 363.2 299.4 363.9 299.4 364.5 299.4 365.2 299.3 365.8 299.3 366.5 299.3 367.2 299.3 367.8 299.3 368.5 299.2 369.1 299.2 369.8 299.2 370.4 299.2 371.1 299.2 371.7 299.1 372.4 299.1 373.0 299.1 373.7 299.1 374.3 299.1 375.0 299.0 375.6 299.0 376.3 299.0 376.9 299.0 377.6 299.0" fill="none" stroke="#9ccaff" stroke-width="1.0" stroke-dasharray="1 1.2"/>
<path d="M279.9 386.2 280.6 386.2 281.2 386.2 281.9 386.0 282.5 385.6 283.2 384.8 283.8 383.7 284.5 382.3 285.1 380.6 285.7 378.6 286.4 376.5 287.0 374.2 287.6 371.8 288.2 369.4 288.8 366.9 289.4 364.4 290.0 361.9 290.6 359.5 291.2 357.1 291.7 354.7 292.3 352.4 292.9 350.2 293.4 348.0 294.0 345.9 294.6 343.9 295.1 341.9 295.7 340.1 296.3 338.3 296.8 336.5 297.4 334.9 298.0 333.3 298.6 331.7 299.2 330.3 299.8 328.8 300.4 327.5 301.0 326.2 301.7 325.0 302.3 323.8 302.9 322.6 303.6 321.6 304.2 320.5 304.9 319.5 305.5 318.6 306.2 317.7 306.9 316.8 307.5 316.0 308.2 315.2 308.9 314.5 309.6 313.7 310.3 313.1 311.0 312.4 311.7 311.8 312.4 311.2 313.0 310.6 313.7 310.1 314.4 309.6 315.1 309.1 315.8 308.6 316.5 308.2 317.2 307.7 317.9 307.3 318.6 307.0 319.3 306.6 320.0 306.3 320.7 305.9 321.4 305.6 322.1 305.3 322.8 305.0 323.5 304.8 324.2 304.5 324.8 304.3 325.5 304.0 326.2 303.8 326.9 303.6 327.6 303.4 328.3 303.2 328.9 303.0 329.6 302.8 330.3 302.7 331.0 302.5 331.6 302.3 332.3 302.2 333.0 302.1 333.6 301.9 334.3 301.8 335.0 301.7 335.6 301.6 336.3 301.4 337.0 301.3 337.6 301.2 338.3 301.1 339.0 301.0 339.6 301.0 340.3 300.9 341.0 300.8 341.6 300.7 342.3 300.6 342.9 300.6 343.6 300.5 344.2 300.4 344.9 300.4 345.6 300.3 346.2 300.2 346.9 300.2 347.5 300.1 348.2 300.1 348.8 300.0 349.5 300.0 350.2 299.9 350.8 299.9 351.5 299.8 352.1 299.8 352.8 299.7 353.4 299.7 354.1 299.7 354.7 299.6 355.4 299.6 356.0 299.6 356.7 299.5 357.4 299.5 358.0 299.5 358.7 299.4 359.3 299.4 360.0 299.4 360.6 299.3 361.3 299.3 361.9 299.3 362.6 299.3 363.2 299.3 363.9 299.2 364.5 299.2 365.2 299.2 365.8 299.2 366.5 299.1 367.1 299.1 367.8 299.1 368.4 299.1 369.1 299.1 369.8 299.1 370.4 299.0 371.1 299.0 371.7 299.0 372.4 299.0 373.0 299.0 373.7 299.0 374.3 298.9 375.0 298.9 375.6 298.9 376.3 298.9 376.9 298.9 377.6 298.9" fill="none" stroke="#9ccaff" stroke-width="1.0" stroke-dasharray="1 1.2"/>
<path d="M279.9 386.2 280.6 386.2 281.2 386.2 281.9 386.0 282.5 385.6 283.2 384.8 283.8 383.7 284.5 382.3 285.1 380.6 285.7 378.6 286.4 376.5 287.0 374.2 287.6 371.8 288.2 369.3 288.8 366.9 289.3 364.4 289.9 361.9 290.5 359.4 291.0 357.0 291.6 354.6 292.1 352.3 292.6 350.1 293.2 347.9 293.7 345.8 294.2 343.8 294.7 341.8 295.3 339.9 295.8 338.1 296.4 336.3 296.9 334.7 297.5 333.0 298.1 331.5 298.6 330.0 299.2 328.6 299.8 327.2 300.4 325.9 301.0 324.6 301.7 323.4 302.3 322.3 302.9 321.2 303.6 320.1 304.2 319.1 304.9 318.1 305.6 317.2 306.2 316.3 306.9 315.5 307.6 314.7 308.3 313.9 309.0 313.2 309.7 312.5 310.4 311.8 311.1 311.2 311.8 310.6 312.5 310.0 313.3 309.5 314.0 308.9 314.7 308.5 315.4 308.0 316.1 307.5 316.8 307.1 317.6 306.7 318.3 306.3 319.0 306.0 319.7 305.6 320.4 305.3 321.1 305.0 321.8 304.7 322.5 304.4 323.2 304.2 323.9 303.9 324.6 303.7 325.3 303.4 326.0 303.2 326.7 303.0 327.4 302.8 328.1 302.7 328.8 302.5 329.5 302.3 330.1 302.1 330.8 302.0 331.5 301.9 332.2 301.7 332.9 301.6 333.5 301.5 334.2 301.3 334.9 301.2 335.6 301.1 336.2 301.0 336.9 300.9 337.6 300.8 338.2 300.7 338.9 300.7 339.6 300.6 340.2 300.5 340.9 300.4 341.6 300.3 342.2 300.3 342.9 300.2 343.5 300.2 344.2 300.1 344.9 300.0 345.5 300.0 346.2 299.9 346.8 299.9 347.5 299.8 348.2 299.8 348.8 299.7 349.5 299.7 350.1 299.7 350.8 299.6 351.4 299.6 352.1 299.5 352.8 299.5 353.4 299.5 354.1 299.4 354.7 299.4 355.4 299.4 356.0 299.4 356.7 299.3 357.3 299.3 358.0 299.3 358.6 299.2 359.3 299.2 360.0 299.2 360.6 299.2 361.3 299.2 361.9 299.1 362.6 299.1 363.2 299.1 363.9 299.1 364.5 299.1 365.2 299.0 365.8 299.0 366.5 299.0 367.1 299.0 367.8 299.0 368.4 299.0 369.1 298.9 369.7 298.9 370.4 298.9 371.1 298.9 371.7 298.9 372.4 298.9 373.0 298.9 373.7 298.9 374.3 298.8 375.0 298.8 375.6 298.8 376.3 298.8 376.9 298.8 377.6 298.8" fill="none" stroke="#9ccaff" stroke-width="1.0" stroke-dasharray="1 1.2"/>
<path d="M279.9 386.2 280.6 386.2 281.2 386.1 281.8 385.9 282.4 385.5 283.0 384.7 283.6 383.6 284.3 382.2 284.9 380.5 285.5 378.5 286.1 376.4 286.8 374.1 287.4 371.7 288.0 369.3 288.7 366.8 289.3 364.3 289.9 361.9 290.6 359.5 291.2 357.1 291.9 354.7 292.5 352.5 293.2 350.3 293.8 348.1 294.5 346.1 295.1 344.1 295.7 342.2 296.4 340.3 297.0 338.6 297.7 336.9 298.3 335.2 299.0 333.7 299.6 332.2 300.3 330.8 301.0 329.4 301.6 328.1 302.3 326.9 302.9 325.7 303.6 324.5 304.2 323.5 304.9 322.4 305.5 321.4 306.2 320.5 306.9 319.6 307.5 318.7 308.2 317.9 308.8 317.1 309.5 316.3 310.1 315.6 310.8 314.9 311.5 314.3 312.1 313.6 312.8 313.0 313.4 312.5 314.1 311.9 314.8 311.4 315.4 310.9 316.1 310.4 316.7 309.9 317.4 309.5 318.1 309.1 318.7 308.6 319.4 308.3 320.0 307.9 320.7 307.5 321.4 307.2 322.0 306.9 322.7 306.5 323.3 306.2 324.0 305.9 324.6 305.7 325.3 305.4 326.0 305.1 326.6 304.9 327.3 304.7 327.9 304.4 328.6 304.2 329.2 304.0 329.9 303.8 330.6 303.6 331.2 303.4 331.9 303.2 332.5 303.1 333.2 302.9 333.8 302.8 334.5 302.6 335.2 302.5 335.8 302.3 336.5 302.2 337.1 302.0 337.8 301.9 338.4 301.8 339.1 301.7 339.7 301.6 340.4 301.5 341.0 301.3 341.7 301.2 342.3 301.1 343.0 301.1 343.7 301.0 344.3 300.9 345.0 300.8 345.6 300.7 346.3 300.6 346.9 300.5 347.6 300.5 348.2 300.4 348.9 300.3 349.5 300.3 350.2 300.2 350.8 300.1 351.5 300.1 352.1 300.0 352.8 300.0 353.5 299.9 354.1 299.9 354.8 299.8 355.4 299.8 356.1 299.7 356.7 299.7 357.4 299.6 358.0 299.6 358.7 299.5 359.3 299.5 360.0 299.5 360.6 299.4 361.3 299.4 361.9 299.4 362.6 299.3 363.2 299.3 363.9 299.3 364.5 299.2 365.2 299.2 365.8 299.2 366.5 299.1 367.1 299.1 367.8 299.1 368.4 299.1 369.1 299.0 369.8 299.0 370.4 299.0 371.1 299.0 371.7 298.9 372.4 298.9 373.0 298.9 373.7 298.9 374.3 298.9 375.0 298.8 375.6 298.8 376.3 298.8 376.9 298.8 377.6 298.8" fill="none" stroke="#3030b0" stroke-width="0.8" stroke-opacity="0.35"/>
<path d="M279.9 386.2 280.6 386.2 281.2 386.2 281.9 386.0 282.5 385.6 283.2 384.8 283.8 383.7 284.5 382.3 285.1 380.6 285.8 378.6 286.4 376.5 287.1 374.2 287.7 371.8 288.4 369.4 289.0 366.9 289.7 364.4 290.3 362.0 291.0 359.6 291.6 357.2 292.3 354.8 292.9 352.6 293.6 350.4 294.2 348.2 294.9 346.2 295.5 344.2 296.2 342.3 296.8 340.5 297.5 338.7 298.1 337.0 298.8 335.4 299.4 333.9 300.1 332.4 300.7 331.0 301.4 329.6 302.0 328.3 302.7 327.1 303.3 325.9 304.0 324.8 304.6 323.7 305.3 322.7 305.9 321.7 306.6 320.8 307.3 319.9 307.9 319.0 308.6 318.2 309.2 317.4 309.9 316.7 310.5 316.0 311.2 315.3 311.8 314.6 312.5 314.0 313.1 313.4 313.8 312.8 314.4 312.3 315.1 311.8 315.7 311.3 316.4 310.8 317.0 310.3 317.7 309.9 318.3 309.5 319.0 309.1 319.6 308.7 320.3 308.3 320.9 308.0 321.6 307.6 322.2 307.3 322.9 307.0 323.5 306.7 324.2 306.4 324.8 306.1 325.5 305.8 326.1 305.6 326.8 305.3 327.4 305.1 328.1 304.9 328.7 304.7 329.4 304.5 330.0 304.3 330.7 304.1 331.3 303.9 332.0 303.7 332.6 303.5 333.3 303.4 333.9 303.2 334.6 303.1 335.3 302.9 335.9 302.8 336.6 302.6 337.2 302.5 337.9 302.4 338.5 302.2 339.2 302.1 339.8 302.0 340.5 301.9 341.1 301.8 341.8 301.7 342.4 301.6 343.1 301.5 343.7 301.4 344.4 301.3 345.0 301.2 345.7 301.1 346.3 301.1 347.0 301.0 347.6 300.9 348.3 300.8 348.9 300.8 349.6 300.7 350.2 300.6 350.9 300.6 351.5 300.5 352.2 300.4 352.8 300.4 353.5 300.3 354.1 300.3 354.8 300.2 355.4 300.2 356.1 300.1 356.7 300.1 357.4 300.0 358.0 300.0 358.7 300.0 359.3 299.9 360.0 299.9 360.6 299.8 361.3 299.8 362.0 299.8 362.6 299.7 363.3 299.7 363.9 299.7 364.6 299.6 365.2 299.6 365.9 299.6 366.5 299.5 367.2 299.5 367.8 299.5 368.5 299.4 369.1 299.4 369.8 299.4 370.4 299.4 371.1 299.3 371.7 299.3 372.4 299.3 373.0 299.3 373.7 299.3 374.3 299.2 375.0 299.2 375.6 299.2 376.3 299.2 376.9 299.2 377.6 299.1" fill="none" stroke="#ff0000" stroke-width="1.25"/>
<path d="M279.9 386.2 280.6 386.2 281.2 386.2 281.8 386.0 282.5 385.5 283.1 384.8 283.7 383.7 284.4 382.2 285.0 380.5 285.6 378.6 286.3 376.4 286.9 374.2 287.6 371.8 288.2 369.3 288.8 366.9 289.5 364.4 290.1 361.9 290.8 359.5 291.4 357.1 292.1 354.8 292.7 352.5 293.4 350.3 294.0 348.2 294.7 346.1 295.3 344.1 296.0 342.2 296.6 340.4 297.3 338.6 297.9 336.9 298.6 335.3 299.2 333.8 299.9 332.3 300.5 330.9 301.2 329.5 301.8 328.2 302.5 327.0 303.1 325.8 303.8 324.7 304.4 323.6 305.1 322.6 305.7 321.6 306.4 320.6 307.1 319.7 307.7 318.9 308.4 318.0 309.0 317.3 309.7 316.5 310.3 315.8 311.0 315.1 311.6 314.4 312.3 313.8 312.9 313.2 313.6 312.6 314.3 312.1 314.9 311.6 315.6 311.1 316.2 310.6 316.9 310.1 317.5 309.7 318.2 309.3 318.8 308.9 319.5 308.5 320.2 308.1 320.8 307.7 321.5 307.4 322.1 307.1 322.8 306.8 323.4 306.5 324.1 306.2 324.7 305.9 325.4 305.6 326.0 305.4 326.7 305.1 327.4 304.9 328.0 304.7 328.7 304.4 329.3 304.2 330.0 304.0 330.6 303.8 331.3 303.7 331.9 303.5 332.6 303.3 333.2 303.1 333.9 303.0 334.5 302.8 335.2 302.7 335.9 302.5 336.5 302.4 337.2 302.3 337.8 302.1 338.5 302.0 339.1 301.9 339.8 301.8 340.4 301.7 341.1 301.6 341.7 301.5 342.4 301.4 343.0 301.3 343.7 301.2 344.3 301.1 345.0 301.0 345.6 300.9 346.3 300.8 346.9 300.8 347.6 300.7 348.3 300.6 348.9 300.6 349.6 300.5 350.2 300.4 350.9 300.4 351.5 300.3 352.2 300.2 352.8 300.2 353.5 300.1 354.1 300.1 354.8 300.0 355.4 300.0 356.1 299.9 356.7 299.9 357.4 299.8 358.0 299.8 358.7 299.7 359.3 299.7 360.0 299.7 360.6 299.6 361.3 299.6 361.9 299.6 362.6 299.5 363.2 299.5 363.9 299.5 364.5 299.4 365.2 299.4 365.8 299.4 366.5 299.3 367.2 299.3 367.8 299.3 368.5 299.2 369.1 299.2 369.8 299.2 370.4 299.2 371.1 299.1 371.7 299.1 372.4 299.1 373.0 299.1 373.7 299.1 374.3 299.0 375.0 299.0 375.6 299.0 376.3 299.0 376.9 299.0 377.6 298.9" fill="none" stroke="#3030b0" stroke-width="0.9" stroke-dasharray="1.5 2.5" stroke-opacity="0.4"/>
<path d="M25.1 523.9 25.8 523.9 26.4 523.9 27.1 523.7 27.7 523.3 28.4 522.5 29.0 521.4 29.7 520.0 30.3 518.3 31.0 516.3 31.7 514.2 32.3 511.9 33.0 509.6 33.7 507.1 34.4 504.7 35.1 502.2 35.8 499.8 36.5 497.3 37.2 495.0 37.9 492.7 38.6 490.4 39.3 488.2 40.0 486.1 40.7 484.1 41.4 482.1 42.1 480.2 42.8 478.4 43.5 476.7 44.2 475.1 44.8 473.5 45.5 471.9 46.2 470.5 46.9 469.1 47.5 467.8 48.2 466.5 48.9 465.3 49.5 464.2 50.2 463.1 50.8 462.0 51.5 461.0 52.1 460.1 52.8 459.2 53.4 458.3 54.0 457.4 54.7 456.7 55.3 455.9 56.0 455.2 56.6 454.5 57.2 453.8 57.8 453.2 58.5 452.6 59.1 452.0 59.7 451.4 60.3 450.9 61.0 450.4 61.6 449.9 62.2 449.4 62.8 448.9 63.5 448.5 64.1 448.1 64.7 447.7 65.4 447.3 66.0 446.9 66.6 446.6 67.2 446.2 67.9 445.9 68.5 445.6 69.1 445.3 69.8 445.0 70.4 444.7 71.0 444.4 71.7 444.1 72.3 443.9 72.9 443.6 73.6 443.4 74.2 443.2 74.8 442.9 75.5 442.7 76.1 442.5 76.8 442.3 77.4 442.1 78.0 441.9 78.7 441.8 79.3 441.6 80.0 441.4 80.6 441.3 81.2 441.1 81.9 441.0 82.5 440.8 83.2 440.7 83.8 440.5 84.5 440.4 85.1 440.3 85.8 440.2 86.4 440.0 87.0 439.9 87.7 439.8 88.3 439.7 89.0 439.6 89.6 439.5 90.3 439.4 90.9 439.3 91.6 439.2 92.2 439.1 92.9 439.1 93.5 439.0 94.2 438.9 94.8 438.8 95.5 438.7 96.1 438.7 96.8 438.6 97.4 438.5 98.1 438.5 98.7 438.4 99.4 438.3 100.0 438.3 100.7 438.2 101.3 438.2 102.0 438.1 102.6 438.1 103.3 438.0 103.9 438.0 104.6 437.9 105.2 437.9 105.9 437.8 106.5 437.8 107.2 437.7 107.8 437.7 108.5 437.6 109.1 437.6 109.8 437.6 110.4 437.5 111.1 437.5 111.7 437.5 112.4 437.4 113.0 437.4 113.7 437.4 114.3 437.3 115.0 437.3 115.6 437.3 116.3 437.2 116.9 437.2 117.6 437.2 118.2 437.2 118.9 437.1 119.5 437.1 120.2 437.1 120.8 437.1 121.5 437.0 122.1 437.0 122.8 437.0" fill="none" stroke="#9ccaff" stroke-width="1.0" stroke-dasharray="1 1.2"/>
<path d="M25.1 523.9 25.8 523.9 26.4 523.9 27.1 523.7 27.7 523.3 28.4 522.5 29.0 521.4 29.7 520.0 30.3 518.3 31.0 516.3 31.7 514.2 32.4 511.9 33.1 509.6 33.8 507.1 34.5 504.7 35.2 502.2 36.0 499.8 36.7 497.4 37.4 495.0 38.2 492.7 38.9 490.5 39.6 488.3 40.4 486.2 41.1 484.2 41.8 482.3 42.5 480.4 43.3 478.6 44.0 476.9 44.7 475.3 45.4 473.7 46.1 472.2 46.8 470.8 47.5 469.4 48.2 468.1 48.8 466.9 49.5 465.7 50.2 464.5 50.8 463.5 51.5 462.4 52.1 461.4 52.8 460.5 53.4 459.6 54.0 458.8 54.7 457.9 55.3 457.2 55.9 456.4 56.5 455.7 57.2 455.0 57.8 454.4 58.4 453.7 59.0 453.1 59.6 452.6 60.2 452.0 60.8 451.5 61.4 451.0 62.1 450.5 62.7 450.0 63.3 449.6 63.9 449.1 64.5 448.7 65.1 448.3 65.7 447.9 66.3 447.5 66.9 447.2 67.5 446.8 68.2 446.5 68.8 446.2 69.4 445.8 70.0 445.5 70.6 445.2 71.2 445.0 71.9 444.7 72.5 444.4 73.1 444.2 73.7 443.9 74.4 443.7 75.0 443.5 75.6 443.2 76.3 443.0 76.9 442.8 77.5 442.6 78.2 442.4 78.8 442.2 79.4 442.1 80.1 441.9 80.7 441.7 81.3 441.6 82.0 441.4 82.6 441.2 83.3 441.1 83.9 440.9 84.5 440.8 85.2 440.7 85.8 440.5 86.5 440.4 87.1 440.3 87.7 440.2 88.4 440.1 89.0 440.0 89.7 439.8 90.3 439.7 91.0 439.6 91.6 439.5 92.3 439.5 92.9 439.4 93.6 439.3 94.2 439.2 94.9 439.1 95.5 439.0 96.1 438.9 96.8 438.9 97.4 438.8 98.1 438.7 98.7 438.7 99.4 438.6 100.0 438.5 100.7 438.5 101.3 438.4 102.0 438.3 102.6 438.3 103.3 438.2 103.9 438.2 104.6 438.1 105.2 438.1 105.9 438.0 106.5 438.0 107.2 437.9 107.8 437.9 108.5 437.8 109.1 437.8 109.8 437.7 110.4 437.7 111.1 437.7 111.7 437.6 112.4 437.6 113.0 437.5 113.7 437.5 114.3 437.5 115.0 437.4 115.6 437.4 116.3 437.4 116.9 437.3 117.6 437.3 118.2 437.3 118.9 437.3 119.5 437.2 120.2 437.2 120.8 437.2 121.5 437.1 122.1 437.1 122.8 437.1" fill="none" stroke="#9ccaff" stroke-width="1.0" stroke-dasharray="1 1.2"/>
<path d="M25.1 523.9 25.8 523.9 26.4 524.0 27.1 523.8 27.8 523.4 28.5 522.6 29.2 521.5 29.9 520.1 30.6 518.4 31.3 516.4 32.0 514.3 32.6 512.0 33.3 509.6 34.0 507.2 34.6 504.7 35.3 502.3 36.0 499.8 36.6 497.4 37.3 495.0 38.0 492.7 38.6 490.4 39.3 488.2 39.9 486.1 40.6 484.1 41.2 482.1 41.9 480.2 42.6 478.4 43.2 476.6 43.9 474.9 44.5 473.3 45.2 471.8 45.8 470.3 46.5 468.9 47.1 467.6 47.8 466.3 48.4 465.1 49.1 463.9 49.7 462.8 50.4 461.7 51.0 460.7 51.6 459.7 52.3 458.8 52.9 457.9 53.6 457.1 54.2 456.3 54.9 455.5 55.5 454.8 56.1 454.1 56.8 453.4 57.4 452.7 58.1 452.1 58.7 451.5 59.4 451.0 60.0 450.4 60.6 449.9 61.3 449.4 61.9 449.0 62.6 448.5 63.2 448.1 63.8 447.7 64.5 447.3 65.1 446.9 65.8 446.5 66.4 446.2 67.0 445.8 67.7 445.5 68.3 445.2 69.0 444.9 69.6 444.6 70.3 444.3 70.9 444.1 71.5 443.8 72.2 443.6 72.8 443.4 73.5 443.1 74.1 442.9 74.8 442.7 75.4 442.5 76.1 442.3 76.7 442.1 77.3 441.9 78.0 441.8 78.6 441.6 79.3 441.4 79.9 441.3 80.6 441.1 81.2 441.0 81.9 440.9 82.5 440.7 83.2 440.6 83.8 440.5 84.5 440.4 85.1 440.2 85.7 440.1 86.4 440.0 87.0 439.9 87.7 439.8 88.3 439.7 89.0 439.6 89.6 439.5 90.3 439.4 90.9 439.4 91.6 439.3 92.2 439.2 92.9 439.1 93.5 439.0 94.2 439.0 94.8 438.9 95.5 438.8 96.1 438.8 96.8 438.7 97.4 438.6 98.1 438.6 98.7 438.5 99.4 438.5 100.0 438.4 100.7 438.4 101.3 438.3 102.0 438.3 102.6 438.2 103.3 438.2 103.9 438.1 104.6 438.1 105.2 438.0 105.9 438.0 106.5 438.0 107.2 437.9 107.8 437.9 108.5 437.9 109.1 437.8 109.8 437.8 110.4 437.8 111.1 437.7 111.7 437.7 112.4 437.7 113.0 437.6 113.7 437.6 114.3 437.6 115.0 437.5 115.6 437.5 116.3 437.5 116.9 437.5 117.6 437.4 118.2 437.4 118.9 437.4 119.5 437.4 120.2 437.4 120.8 437.3 121.5 437.3 122.1 437.3 122.8 437.3" fill="none" stroke="#3030b0" stroke-width="0.8" stroke-opacity="0.35"/>
<path d="M25.1 523.9 25.8 523.9 26.4 523.9 27.1 523.7 27.7 523.3 28.4 522.5 29.0 521.4 29.7 520.0 30.3 518.3 31.0 516.3 31.6 514.2 32.3 511.9 32.9 509.5 33.6 507.1 34.2 504.6 34.9 502.1 35.5 499.7 36.2 497.3 36.8 494.9 37.5 492.5 38.1 490.3 38.8 488.1 39.4 485.9 40.1 483.9 40.7 481.9 41.4 480.0 42.0 478.2 42.7 476.4 43.3 474.7 44.0 473.1 44.6 471.6 45.3 470.1 45.9 468.7 46.6 467.3 47.2 466.0 47.9 464.8 48.5 463.6 49.2 462.5 49.8 461.4 50.5 460.4 51.1 459.4 51.8 458.5 52.5 457.6 53.1 456.7 53.8 455.9 54.4 455.1 55.1 454.4 55.7 453.7 56.4 453.0 57.0 452.3 57.7 451.7 58.3 451.1 59.0 450.5 59.6 450.0 60.3 449.5 60.9 449.0 61.6 448.5 62.2 448.0 62.9 447.6 63.5 447.2 64.2 446.8 64.8 446.4 65.5 446.0 66.1 445.7 66.8 445.3 67.4 445.0 68.1 444.7 68.7 444.4 69.4 444.1 70.0 443.8 70.7 443.5 71.3 443.3 72.0 443.0 72.6 442.8 73.3 442.6 73.9 442.4 74.6 442.2 75.2 442.0 75.9 441.8 76.5 441.6 77.2 441.4 77.8 441.2 78.5 441.1 79.1 440.9 79.8 440.8 80.5 440.6 81.1 440.5 81.8 440.3 82.4 440.2 83.1 440.1 83.7 439.9 84.4 439.8 85.0 439.7 85.7 439.6 86.3 439.5 87.0 439.4 87.6 439.3 88.3 439.2 88.9 439.1 89.6 439.0 90.2 438.9 90.9 438.8 91.5 438.8 92.2 438.7 92.8 438.6 93.5 438.5 94.1 438.5 94.8 438.4 95.4 438.3 96.1 438.3 96.7 438.2 97.4 438.1 98.0 438.1 98.7 438.0 99.3 438.0 100.0 437.9 100.6 437.9 101.3 437.8 101.9 437.8 102.6 437.7 103.2 437.7 103.9 437.7 104.5 437.6 105.2 437.6 105.8 437.5 106.5 437.5 107.2 437.5 107.8 437.4 108.5 437.4 109.1 437.4 109.8 437.3 110.4 437.3 111.1 437.3 111.7 437.2 112.4 437.2 113.0 437.2 113.7 437.1 114.3 437.1 115.0 437.1 115.6 437.1 116.3 437.0 116.9 437.0 117.6 437.0 118.2 437.0 118.9 437.0 119.5 436.9 120.2 436.9 120.8 436.9 121.5 436.9 122.1 436.9 122.8 436.8" fill="none" stroke="#ff0000" stroke-width="1.25"/>
<path d="M25.1 523.9 25.8 523.9 26.4 523.9 27.1 523.8 27.8 523.3 28.4 522.6 29.1 521.5 29.8 520.0 30.5 518.3 31.1 516.4 31.8 514.2 32.4 512.0 33.1 509.6 33.8 507.1 34.4 504.7 35.1 502.2 35.7 499.7 36.4 497.3 37.1 494.9 37.7 492.6 38.4 490.3 39.0 488.2 39.7 486.0 40.3 484.0 41.0 482.0 41.6 480.1 42.3 478.3 42.9 476.5 43.6 474.8 44.3 473.2 44.9 471.7 45.6 470.2 46.2 468.8 46.9 467.5 47.5 466.2 48.2 464.9 48.8 463.8 49.5 462.6 50.1 461.6 50.7 460.5 51.4 459.6 52.0 458.6 52.7 457.7 53.3 456.9 54.0 456.1 54.6 455.3 55.3 454.6 55.9 453.9 56.6 453.2 57.2 452.5 57.9 451.9 58.5 451.3 59.2 450.8 59.8 450.2 60.4 449.7 61.1 449.2 61.7 448.7 62.4 448.3 63.0 447.8 63.7 447.4 64.3 447.0 65.0 446.6 65.6 446.3 66.3 445.9 66.9 445.6 67.6 445.3 68.2 444.9 68.8 444.6 69.5 444.4 70.1 444.1 70.8 443.8 71.4 443.6 72.1 443.3 72.7 443.1 73.4 442.9 74.0 442.6 74.7 442.4 75.3 442.2 76.0 442.0 76.6 441.9 77.3 441.7 77.9 441.5 78.6 441.3 79.2 441.2 79.9 441.0 80.5 440.9 81.2 440.7 81.8 440.6 82.5 440.5 83.1 440.3 83.8 440.2 84.4 440.1 85.1 440.0 85.7 439.9 86.4 439.8 87.0 439.7 87.7 439.6 88.3 439.5 89.0 439.4 89.6 439.3 90.3 439.2 90.9 439.1 91.6 439.0 92.2 438.9 92.9 438.9 93.5 438.8 94.2 438.7 94.8 438.7 95.5 438.6 96.1 438.5 96.8 438.5 97.4 438.4 98.1 438.3 98.7 438.3 99.4 438.2 100.0 438.2 100.7 438.1 101.3 438.1 102.0 438.0 102.6 438.0 103.3 437.9 103.9 437.9 104.6 437.8 105.2 437.8 105.9 437.8 106.5 437.7 107.2 437.7 107.8 437.7 108.5 437.6 109.1 437.6 109.8 437.6 110.4 437.5 111.1 437.5 111.7 437.5 112.4 437.4 113.0 437.4 113.7 437.4 114.3 437.3 115.0 437.3 115.6 437.3 116.3 437.3 116.9 437.2 117.6 437.2 118.2 437.2 118.9 437.2 119.5 437.2 120.2 437.1 120.8 437.1 121.5 437.1 122.1 437.1 122.8 437.1" fill="none" stroke="#3030b0" stroke-width="0.9" stroke-dasharray="1.5 2.5" stroke-opacity="0.4"/>
<path d="M152.4 523.9 153.1 523.9 153.7 523.9 154.4 523.7 155.0 523.3 155.7 522.5 156.3 521.4 157.0 520.0 157.6 518.3 158.3 516.3 159.0 514.2 159.6 511.9 160.3 509.5 161.0 507.1 161.7 504.7 162.4 502.2 163.1 499.7 163.8 497.3 164.5 495.0 165.2 492.7 165.9 490.4 166.6 488.2 167.3 486.1 168.0 484.1 168.7 482.1 169.4 480.2 170.1 478.4 170.8 476.7 171.5 475.1 172.1 473.5 172.8 472.0 173.5 470.5 174.2 469.1 174.9 467.8 175.5 466.5 176.2 465.3 176.9 464.2 177.5 463.1 178.2 462.1 178.8 461.1 179.5 460.1 180.1 459.2 180.8 458.3 181.4 457.5 182.1 456.7 182.7 456.0 183.3 455.2 184.0 454.5 184.6 453.9 185.2 453.2 185.8 452.6 186.5 452.1 187.1 451.5 187.7 451.0 188.3 450.5 189.0 450.0 189.6 449.5 190.2 449.0 190.8 448.6 191.5 448.2 192.1 447.8 192.7 447.4 193.3 447.0 194.0 446.7 194.6 446.3 195.2 446.0 195.9 445.7 196.5 445.4 197.1 445.1 197.7 444.8 198.4 444.5 199.0 444.3 199.6 444.0 200.3 443.8 200.9 443.5 201.5 443.3 202.2 443.1 202.8 442.9 203.5 442.7 204.1 442.5 204.7 442.3 205.4 442.1 206.0 441.9 206.6 441.7 207.3 441.6 207.9 441.4 208.6 441.2 209.2 441.1 209.9 440.9 210.5 440.8 211.1 440.7 211.8 440.5 212.4 440.4 213.1 440.3 213.7 440.2 214.4 440.0 215.0 439.9 215.7 439.8 216.3 439.7 217.0 439.6 217.6 439.5 218.2 439.4 218.9 439.3 219.5 439.2 220.2 439.2 220.8 439.1 221.5 439.0 222.1 438.9 222.8 438.8 223.4 438.8 224.1 438.7 224.7 438.6 225.4 438.6 226.0 438.5 226.7 438.4 227.3 438.4 228.0 438.3 228.6 438.3 229.3 438.2 229.9 438.1 230.6 438.1 231.2 438.0 231.9 438.0 232.5 437.9 233.2 437.9 233.8 437.8 234.5 437.8 235.1 437.8 235.8 437.7 236.4 437.7 237.1 437.6 237.7 437.6 238.4 437.6 239.0 437.5 239.7 437.5 240.3 437.5 241.0 437.4 241.6 437.4 242.3 437.4 242.9 437.3 243.6 437.3 244.2 437.3 244.9 437.2 245.5 437.2 246.2 437.2 246.8 437.2 247.5 437.1 248.1 437.1 248.8 437.1 249.4 437.1 250.1 437.0" fill="none" stroke="#9ccaff" stroke-width="1.0" stroke-dasharray="1 1.2"/>
<path d="M152.4 523.9 153.1 523.9 153.7 523.9 154.4 523.7 155.0 523.3 155.7 522.5 156.3 521.4 157.0 520.0 157.6 518.3 158.3 516.3 159.0 514.2 159.7 511.9 160.4 509.6 161.1 507.1 161.8 504.7 162.5 502.2 163.2 499.8 164.0 497.4 164.7 495.0 165.4 492.7 166.2 490.5 166.9 488.3 167.6 486.2 168.4 484.2 169.1 482.3 169.9 480.4 170.6 478.6 171.3 476.9 172.0 475.3 172.7 473.7 173.4 472.2 174.1 470.8 174.8 469.4 175.5 468.1 176.2 466.9 176.9 465.7 177.6 464.6 178.2 463.5 178.9 462.5 179.5 461.5 180.2 460.6 180.8 459.7 181.5 458.9 182.1 458.0 182.7 457.3 183.4 456.5 184.0 455.8 184.6 455.2 185.2 454.5 185.8 453.9 186.5 453.3 187.1 452.7 187.7 452.2 188.3 451.7 188.9 451.2 189.5 450.7 190.1 450.2 190.7 449.8 191.3 449.3 191.9 448.9 192.5 448.5 193.1 448.1 193.7 447.8 194.4 447.4 195.0 447.0 195.6 446.7 196.2 446.4 196.8 446.1 197.4 445.8 198.0 445.5 198.6 445.2 199.3 444.9 199.9 444.7 200.5 444.4 201.1 444.2 201.8 443.9 202.4 443.7 203.0 443.5 203.6 443.3 204.3 443.1 204.9 442.9 205.5 442.7 206.2 442.5 206.8 442.3 207.4 442.1 208.1 441.9 208.7 441.8 209.3 441.6 210.0 441.5 210.6 441.3 211.2 441.2 211.9 441.0 212.5 440.9 213.2 440.8 213.8 440.6 214.4 440.5 215.1 440.4 215.7 440.3 216.4 440.2 217.0 440.0 217.7 439.9 218.3 439.8 218.9 439.7 219.6 439.6 220.2 439.5 220.9 439.4 221.5 439.4 222.2 439.3 222.8 439.2 223.5 439.1 224.1 439.0 224.8 439.0 225.4 438.9 226.1 438.8 226.7 438.7 227.3 438.7 228.0 438.6 228.6 438.5 229.3 438.5 229.9 438.4 230.6 438.4 231.2 438.3 231.9 438.2 232.5 438.2 233.2 438.1 233.8 438.1 234.5 438.0 235.1 438.0 235.8 437.9 236.4 437.9 237.1 437.9 237.7 437.8 238.4 437.8 239.0 437.7 239.7 437.7 240.3 437.7 241.0 437.6 241.6 437.6 242.3 437.5 242.9 437.5 243.6 437.5 244.2 437.4 244.9 437.4 245.5 437.4 246.2 437.3 246.8 437.3 247.5 437.3 248.1 437.3 248.8 437.2 249.4 437.2 250.1 437.2" fill="none" stroke="#9ccaff" stroke-width="1.0" stroke-dasharray="1 1.2"/>
<path d="M152.4 523.9 153.1 523.9 153.7 523.9 154.4 523.7 155.0 523.3 155.7 522.5 156.3 521.4 157.0 520.0 157.6 518.3 158.3 516.3 159.0 514.2 159.7 511.9 160.4 509.6 161.2 507.2 161.9 504.7 162.6 502.3 163.4 499.8 164.2 497.4 164.9 495.1 165.7 492.8 166.5 490.6 167.3 488.4 168.0 486.4 168.8 484.3 169.6 482.4 170.3 480.6 171.1 478.8 171.8 477.1 172.6 475.5 173.3 474.0 174.1 472.5 174.8 471.1 175.5 469.7 176.2 468.5 176.9 467.2 177.6 466.1 178.3 465.0 178.9 463.9 179.6 462.9 180.3 462.0 180.9 461.1 181.6 460.2 182.2 459.4 182.8 458.6 183.4 457.8 184.1 457.1 184.7 456.4 185.3 455.8 185.9 455.1 186.5 454.5 187.1 454.0 187.7 453.4 188.3 452.9 188.8 452.3 189.4 451.8 190.0 451.4 190.6 450.9 191.2 450.5 191.8 450.0 192.4 449.6 193.0 449.2 193.5 448.8 194.1 448.5 194.7 448.1 195.3 447.8 195.9 447.4 196.5 447.1 197.1 446.8 197.7 446.5 198.3 446.2 198.9 445.9 199.5 445.6 200.1 445.3 200.7 445.1 201.3 444.8 202.0 444.6 202.6 444.3 203.2 444.1 203.8 443.9 204.4 443.7 205.0 443.5 205.7 443.3 206.3 443.1 206.9 442.9 207.5 442.7 208.2 442.5 208.8 442.3 209.4 442.1 210.1 442.0 210.7 441.8 211.3 441.7 212.0 441.5 212.6 441.4 213.2 441.2 213.9 441.1 214.5 441.0 215.1 440.8 215.8 440.7 216.4 440.6 217.1 440.5 217.7 440.3 218.3 440.2 219.0 440.1 219.6 440.0 220.3 439.9 220.9 439.8 221.6 439.7 222.2 439.6 222.8 439.5 223.5 439.5 224.1 439.4 224.8 439.3 225.4 439.2 226.1 439.1 226.7 439.0 227.4 439.0 228.0 438.9 228.7 438.8 229.3 438.8 230.0 438.7 230.6 438.6 231.3 438.6 231.9 438.5 232.6 438.4 233.2 438.4 233.8 438.3 234.5 438.3 235.1 438.2 235.8 438.2 236.4 438.1 237.1 438.1 237.7 438.0 238.4 438.0 239.0 437.9 239.7 437.9 240.3 437.8 241.0 437.8 241.6 437.8 242.3 437.7 242.9 437.7 243.6 437.7 244.2 437.6 244.9 437.6 245.5 437.5 246.2 437.5 246.8 437.5 247.5 437.4 248.1 437.4 248.8 437.4 249.4 437.4 250.1 437.3" fill="none" stroke="#9ccaff" stroke-width="1.0" stroke-dasharray="1 1.2"/>
<path d="M152.4 523.9 153.1 523.9 153.7 523.9 154.4 523.7 155.0 523.3 155.7 522.5 156.3 521.4 157.0 520.0 157.7 518.3 158.3 516.3 159.0 514.2 159.8 512.0 160.5 509.6 161.2 507.2 162.0 504.7 162.8 502.3 163.6 499.9 164.4 497.5 165.2 495.2 166.0 492.9 166.8 490.7 167.6 488.5 168.4 486.5 169.2 484.5 170.0 482.6 170.8 480.7 171.6 479.0 172.4 477.3 173.2 475.7 173.9 474.2 174.7 472.7 175.4 471.4 176.2 470.0 176.9 468.8 177.6 467.6 178.3 466.5 179.0 465.4 179.7 464.4 180.3 463.4 181.0 462.4 181.6 461.6 182.3 460.7 182.9 459.9 183.5 459.1 184.1 458.4 184.7 457.7 185.3 457.0 185.9 456.4 186.5 455.8 187.1 455.2 187.7 454.6 188.3 454.1 188.8 453.5 189.4 453.0 190.0 452.5 190.5 452.1 191.1 451.6 191.7 451.2 192.3 450.7 192.8 450.3 193.4 449.9 194.0 449.6 194.5 449.2 195.1 448.8 195.7 448.5 196.3 448.1 196.8 447.8 197.4 447.5 198.0 447.2 198.6 446.9 199.2 446.6 199.8 446.3 200.4 446.0 201.0 445.7 201.6 445.5 202.2 445.2 202.8 445.0 203.4 444.7 204.0 444.5 204.6 444.3 205.2 444.1 205.8 443.8 206.4 443.6 207.1 443.4 207.7 443.2 208.3 443.0 208.9 442.9 209.5 442.7 210.2 442.5 210.8 442.3 211.4 442.2 212.1 442.0 212.7 441.9 213.3 441.7 213.9 441.6 214.6 441.4 215.2 441.3 215.8 441.1 216.5 441.0 217.1 440.9 217.8 440.8 218.4 440.6 219.0 440.5 219.7 440.4 220.3 440.3 221.0 440.2 221.6 440.1 222.2 440.0 222.9 439.9 223.5 439.8 224.2 439.7 224.8 439.6 225.5 439.5 226.1 439.4 226.7 439.4 227.4 439.3 228.0 439.2 228.7 439.1 229.3 439.0 230.0 439.0 230.6 438.9 231.3 438.8 231.9 438.8 232.6 438.7 233.2 438.6 233.9 438.6 234.5 438.5 235.2 438.5 235.8 438.4 236.5 438.3 237.1 438.3 237.8 438.2 238.4 438.2 239.1 438.1 239.7 438.1 240.3 438.0 241.0 438.0 241.6 438.0 242.3 437.9 242.9 437.9 243.6 437.8 244.2 437.8 244.9 437.8 245.5 437.7 246.2 437.7 246.8 437.6 247.5 437.6 248.1 437.6 248.8 437.5 249.4 437.5 250.1 437.5" fill="none" stroke="#9ccaff" stroke-width="1.0" stroke-dasharray="1 1.2"/>
<path d="M152.4 523.9 153.1 523.9 153.7 523.9 154.4 523.8 155.1 523.4 155.8 522.6 156.5 521.5 157.2 520.1 157.8 518.3 158.5 516.4 159.2 514.3 159.9 512.0 160.5 509.6 161.2 507.2 161.9 504.7 162.5 502.2 163.2 499.8 163.9 497.4 164.5 495.0 165.2 492.7 165.8 490.4 166.5 488.2 167.1 486.1 167.8 484.0 168.5 482.1 169.1 480.2 169.8 478.3 170.4 476.6 171.1 474.9 171.7 473.3 172.4 471.8 173.0 470.3 173.7 468.9 174.3 467.5 175.0 466.3 175.6 465.0 176.3 463.9 176.9 462.7 177.6 461.7 178.2 460.7 178.9 459.7 179.5 458.8 180.2 457.9 180.8 457.0 181.4 456.2 182.1 455.4 182.7 454.7 183.4 454.0 184.0 453.3 184.7 452.7 185.3 452.1 185.9 451.5 186.6 450.9 187.2 450.4 187.9 449.9 188.5 449.4 189.2 448.9 189.8 448.4 190.4 448.0 191.1 447.6 191.7 447.2 192.4 446.8 193.0 446.4 193.7 446.1 194.3 445.8 194.9 445.4 195.6 445.1 196.2 444.8 196.9 444.5 197.5 444.3 198.2 444.0 198.8 443.7 199.5 443.5 200.1 443.3 200.7 443.0 201.4 442.8 202.0 442.6 202.7 442.4 203.3 442.2 204.0 442.0 204.6 441.9 205.3 441.7 205.9 441.5 206.6 441.4 207.2 441.2 207.9 441.1 208.5 440.9 209.1 440.8 209.8 440.6 210.4 440.5 211.1 440.4 211.7 440.3 212.4 440.2 213.0 440.0 213.7 439.9 214.3 439.8 215.0 439.7 215.6 439.6 216.3 439.5 216.9 439.5 217.6 439.4 218.2 439.3 218.9 439.2 219.5 439.1 220.2 439.0 220.8 439.0 221.5 438.9 222.1 438.8 222.8 438.8 223.4 438.7 224.1 438.6 224.7 438.6 225.4 438.5 226.0 438.5 226.7 438.4 227.3 438.3 228.0 438.3 228.6 438.2 229.3 438.2 229.9 438.2 230.6 438.1 231.2 438.1 231.9 438.0 232.5 438.0 233.2 437.9 233.8 437.9 234.5 437.9 235.1 437.8 235.8 437.8 236.4 437.8 237.1 437.7 237.7 437.7 238.4 437.7 239.0 437.6 239.7 437.6 240.3 437.6 241.0 437.5 241.6 437.5 242.3 437.5 242.9 437.5 243.6 437.4 244.2 437.4 244.9 437.4 245.5 437.4 246.2 437.3 246.8 437.3 247.5 437.3 248.1 437.3 248.8 437.2 249.4 437.2 250.1 437.2" fill="none" stroke="#3030b0" stroke-width="0.8" stroke-opacity="0.35"/>
<path d="M152.4 523.9 153.1 523.9 153.7 523.9 154.4 523.7 155.0 523.3 155.7 522.5 156.3 521.4 157.0 520.0 157.6 518.3 158.3 516.3 158.9 514.2 159.6 511.9 160.2 509.5 160.9 507.1 161.5 504.6 162.2 502.1 162.8 499.7 163.5 497.3 164.1 494.9 164.8 492.5 165.4 490.3 166.1 488.1 166.7 485.9 167.4 483.9 168.0 481.9 168.7 480.0 169.3 478.2 170.0 476.4 170.6 474.7 171.3 473.1 171.9 471.6 172.6 470.1 173.2 468.7 173.9 467.3 174.5 466.0 175.2 464.8 175.8 463.6 176.5 462.5 177.1 461.4 177.8 460.4 178.4 459.4 179.1 458.5 179.8 457.6 180.4 456.7 181.1 455.9 181.7 455.1 182.4 454.4 183.0 453.7 183.7 453.0 184.3 452.3 185.0 451.7 185.6 451.1 186.3 450.5 186.9 450.0 187.6 449.5 188.2 449.0 188.9 448.5 189.5 448.0 190.2 447.6 190.8 447.2 191.5 446.8 192.1 446.4 192.8 446.0 193.4 445.7 194.1 445.3 194.7 445.0 195.4 444.7 196.0 444.4 196.7 444.1 197.3 443.8 198.0 443.5 198.6 443.3 199.3 443.0 199.9 442.8 200.6 442.6 201.2 442.4 201.9 442.2 202.5 442.0 203.2 441.8 203.8 441.6 204.5 441.4 205.1 441.2 205.8 441.1 206.4 440.9 207.1 440.8 207.8 440.6 208.4 440.5 209.1 440.3 209.7 440.2 210.4 440.1 211.0 439.9 211.7 439.8 212.3 439.7 213.0 439.6 213.6 439.5 214.3 439.4 214.9 439.3 215.6 439.2 216.2 439.1 216.9 439.0 217.5 438.9 218.2 438.8 218.8 438.8 219.5 438.7 220.1 438.6 220.8 438.5 221.4 438.5 222.1 438.4 222.7 438.3 223.4 438.3 224.0 438.2 224.7 438.1 225.3 438.1 226.0 438.0 226.6 438.0 227.3 437.9 227.9 437.9 228.6 437.8 229.2 437.8 229.9 437.7 230.5 437.7 231.2 437.7 231.8 437.6 232.5 437.6 233.1 437.5 233.8 437.5 234.5 437.5 235.1 437.4 235.8 437.4 236.4 437.4 237.1 437.3 237.7 437.3 238.4 437.3 239.0 437.2 239.7 437.2 240.3 437.2 241.0 437.1 241.6 437.1 242.3 437.1 242.9 437.1 243.6 437.0 244.2 437.0 244.9 437.0 245.5 437.0 246.2 437.0 246.8 436.9 247.5 436.9 248.1 436.9 248.8 436.9 249.4 436.9 250.1 436.8" fill="none" stroke="#ff0000" stroke-width="1.25"/>
<path d="M152.4 523.9 153.1 523.9 153.7 523.9 154.4 523.8 155.0 523.3 155.7 522.6 156.4 521.5 157.1 520.0 157.7 518.3 158.4 516.4 159.1 514.2 159.7 511.9 160.4 509.6 161.0 507.1 161.7 504.7 162.3 502.2 163.0 499.7 163.7 497.3 164.3 494.9 165.0 492.6 165.6 490.3 166.3 488.1 166.9 486.0 167.6 484.0 168.2 482.0 168.9 480.1 169.5 478.3 170.2 476.5 170.9 474.8 171.5 473.2 172.2 471.7 172.8 470.2 173.5 468.8 174.1 467.4 174.8 466.1 175.4 464.9 176.1 463.7 176.7 462.6 177.4 461.5 178.0 460.5 178.7 459.5 179.3 458.6 180.0 457.7 180.6 456.9 181.2 456.1 181.9 455.3 182.5 454.5 183.2 453.8 183.8 453.1 184.5 452.5 185.1 451.9 185.8 451.3 186.4 450.7 187.1 450.2 187.7 449.7 188.4 449.2 189.0 448.7 189.7 448.2 190.3 447.8 191.0 447.4 191.6 447.0 192.2 446.6 192.9 446.2 193.5 445.9 194.2 445.5 194.8 445.2 195.5 444.9 196.1 444.6 196.8 444.3 197.4 444.0 198.1 443.8 198.7 443.5 199.4 443.3 200.0 443.0 200.7 442.8 201.3 442.6 202.0 442.4 202.6 442.2 203.3 442.0 203.9 441.8 204.6 441.6 205.2 441.5 205.9 441.3 206.5 441.1 207.2 441.0 207.8 440.8 208.5 440.7 209.1 440.5 209.8 440.4 210.4 440.3 211.0 440.2 211.7 440.0 212.3 439.9 213.0 439.8 213.6 439.7 214.3 439.6 214.9 439.5 215.6 439.4 216.2 439.3 216.9 439.2 217.5 439.1 218.2 439.1 218.8 439.0 219.5 438.9 220.1 438.8 220.8 438.8 221.5 438.7 222.1 438.6 222.8 438.5 223.4 438.5 224.1 438.4 224.7 438.4 225.4 438.3 226.0 438.2 226.7 438.2 227.3 438.1 228.0 438.1 228.6 438.0 229.3 438.0 229.9 437.9 230.6 437.9 231.2 437.9 231.9 437.8 232.5 437.8 233.2 437.7 233.8 437.7 234.5 437.7 235.1 437.6 235.8 437.6 236.4 437.6 237.1 437.5 237.7 437.5 238.4 437.5 239.0 437.4 239.7 437.4 240.3 437.4 241.0 437.3 241.6 437.3 242.3 437.3 242.9 437.3 243.6 437.2 244.2 437.2 244.9 437.2 245.5 437.2 246.2 437.1 246.8 437.1 247.5 437.1 248.1 437.1 248.8 437.1 249.4 437.0 250.1 437.0" fill="none" stroke="#3030b0" stroke-width="0.9" stroke-dasharray="1.5 2.5" stroke-opacity="0.4"/>
</g>
<g filter="url(#b)">
<path d="M21.19 20.95H126.69V115.00H21.19ZM17.39 111.52H21.19M17.39 99.16H21.19M17.39 86.80H21.19M17.39 74.44H21.19M17.39 62.08H21.19M17.39 49.72H21.19M17.39 37.36H21.19M17.39 25.00H21.19M25.10 115.00V120.30M41.38 115.00V120.30M57.66 115.00V120.30M73.94 115.00V120.30M90.22 115.00V120.30M106.50 115.00V120.30M122.78 115.00V120.30" fill="none" stroke="#000" stroke-width="1.1" stroke-opacity="0.8"/>
<path d="M148.49 20.95H253.99V115.00H148.49ZM144.69 111.52H148.49M144.69 93.95H148.49M144.69 76.39H148.49M144.69 58.82H148.49M144.69 41.26H148.49M144.69 23.69H148.49M152.40 115.00V120.30M168.68 115.00V120.30M184.96 115.00V120.30M201.24 115.00V120.30M217.52 115.00V120.30M233.80 115.00V120.30M250.08 115.00V120.30" fill="none" stroke="#000" stroke-width="1.1" stroke-opacity="0.8"/>
<path d="M275.99 20.95H381.49V115.00H275.99ZM272.19 111.52H275.99M272.19 93.95H275.99M272.19 76.39H275.99M272.19 58.82H275.99M272.19 41.26H275.99M272.19 23.69H275.99M279.90 115.00V120.30M296.18 115.00V120.30M312.46 115.00V120.30M328.74 115.00V120.30M345.02 115.00V120.30M361.30 115.00V120.30M377.58 115.00V120.30" fill="none" stroke="#000" stroke-width="1.1" stroke-opacity="0.8"/>
<path d="M21.19 158.25H126.69V252.30H21.19ZM17.39 248.82H21.19M17.39 231.25H21.19M17.39 213.69H21.19M17.39 196.12H21.19M17.39 178.56H21.19M17.39 160.99H21.19M25.10 252.30V257.60M41.38 252.30V257.60M57.66 252.30V257.60M73.94 252.30V257.60M90.22 252.30V257.60M106.50 252.30V257.60M122.78 252.30V257.60" fill="none" stroke="#000" stroke-width="1.1" stroke-opacity="0.8"/>
<path d="M148.49 158.25H253.99V252.30H148.49ZM144.69 248.82H148.49M144.69 231.25H148.49M144.69 213.69H148.49M144.69 196.12H148.49M144.69 178.56H148.49M144.69 160.99H148.49M152.40 252.30V257.60M168.68 252.30V257.60M184.96 252.30V257.60M201.24 252.30V257.60M217.52 252.30V257.60M233.80 252.30V257.60M250.08 252.30V257.60" fill="none" stroke="#000" stroke-width="1.1" stroke-opacity="0.8"/>
<path d="M275.99 158.25H381.49V252.30H275.99ZM272.19 248.82H275.99M272.19 231.25H275.99M272.19 213.69H275.99M272.19 196.12H275.99M272.19 178.56H275.99M272.19 160.99H275.99M279.90 252.30V257.60M296.18 252.30V257.60M312.46 252.30V257.60M328.74 252.30V257.60M345.02 252.30V257.60M361.30 252.30V257.60M377.58 252.30V257.60" fill="none" stroke="#000" stroke-width="1.1" stroke-opacity="0.8"/>
<path d="M21.19 295.65H126.69V389.70H21.19ZM17.39 386.22H21.19M17.39 368.65H21.19M17.39 351.09H21.19M17.39 333.52H21.19M17.39 315.96H21.19M17.39 298.39H21.19M25.10 389.70V395.00M41.38 389.70V395.00M57.66 389.70V395.00M73.94 389.70V395.00M90.22 389.70V395.00M106.50 389.70V395.00M122.78 389.70V395.00" fill="none" stroke="#000" stroke-width="1.1" stroke-opacity="0.8"/>
<path d="M148.49 295.65H253.99V389.70H148.49ZM144.69 386.22H148.49M144.69 368.65H148.49M144.69 351.09H148.49M144.69 333.52H148.49M144.69 315.96H148.49M144.69 298.39H148.49M152.40 389.70V395.00M168.68 389.70V395.00M184.96 389.70V395.00M201.24 389.70V395.00M217.52 389.70V395.00M233.80 389.70V395.00M250.08 389.70V395.00" fill="none" stroke="#000" stroke-width="1.1" stroke-opacity="0.8"/>
<path d="M275.99 295.65H381.49V389.70H275.99ZM272.19 386.22H275.99M272.19 368.65H275.99M272.19 351.09H275.99M272.19 333.52H275.99M272.19 315.96H275.99M272.19 298.39H275.99M279.90 389.70V395.00M296.18 389.70V395.00M312.46 389.70V395.00M328.74 389.70V395.00M345.02 389.70V395.00M361.30 389.70V395.00M377.58 389.70V395.00" fill="none" stroke="#000" stroke-width="1.1" stroke-opacity="0.8"/>
<path d="M21.19 433.35H126.69V527.40H21.19ZM17.39 523.92H21.19M17.39 506.35H21.19M17.39 488.79H21.19M17.39 471.22H21.19M17.39 453.66H21.19M17.39 436.09H21.19M25.10 527.40V532.70M41.38 527.40V532.70M57.66 527.40V532.70M73.94 527.40V532.70M90.22 527.40V532.70M106.50 527.40V532.70M122.78 527.40V532.70" fill="none" stroke="#000" stroke-width="1.1" stroke-opacity="0.8"/>
<path d="M148.49 433.35H253.99V527.40H148.49ZM144.69 523.92H148.49M144.69 506.35H148.49M144.69 488.79H148.49M144.69 471.22H148.49M144.69 453.66H148.49M144.69 436.09H148.49M152.40 527.40V532.70M168.68 527.40V532.70M184.96 527.40V532.70M201.24 527.40V532.70M217.52 527.40V532.70M233.80 527.40V532.70M250.08 527.40V532.70" fill="none" stroke="#000" stroke-width="1.1" stroke-opacity="0.8"/>
<g style="filter:grayscale(1)">
<text transform="translate(13.99,115.12) scale(0.67000,1.00000)" font-size="9.20" text-anchor="end" stroke-width="0.15">0.0</text>
<text transform="translate(13.99,102.76) scale(0.67000,1.00000)" font-size="9.20" text-anchor="end" stroke-width="0.15">0.1</text>
<text transform="translate(13.99,90.40) scale(0.67000,1.00000)" font-size="9.20" text-anchor="end" stroke-width="0.15">0.2</text>
<text transform="translate(13.99,78.04) scale(0.67000,1.00000)" font-size="9.20" text-anchor="end" stroke-width="0.15">0.3</text>
<text transform="translate(13.99,65.68) scale(0.67000,1.00000)" font-size="9.20" text-anchor="end" stroke-width="0.15">0.4</text>
<text transform="translate(13.99,53.32) scale(0.67000,1.00000)" font-size="9.20" text-anchor="end" stroke-width="0.15">0.5</text>
<text transform="translate(13.99,40.96) scale(0.67000,1.00000)" font-size="9.20" text-anchor="end" stroke-width="0.15">0.6</text>
<text transform="translate(13.99,28.60) scale(0.67000,1.00000)" font-size="9.20" text-anchor="end" stroke-width="0.15">0.7</text>
<text transform="translate(25.10,134.40) scale(0.67000,1.00000)" font-size="9.20" text-anchor="middle" stroke-width="0.15">0</text>
<text transform="translate(41.38,134.40) scale(0.67000,1.00000)" font-size="9.20" text-anchor="middle" stroke-width="0.15">1</text>
<text transform="translate(57.66,134.40) scale(0.67000,1.00000)" font-size="9.20" text-anchor="middle" stroke-width="0.15">2</text>
<text transform="translate(73.94,134.40) scale(0.67000,1.00000)" font-size="9.20" text-anchor="middle" stroke-width="0.15">3</text>
<text transform="translate(90.22,134.40) scale(0.67000,1.00000)" font-size="9.20" text-anchor="middle" stroke-width="0.15">4</text>
<text transform="translate(106.50,134.40) scale(0.67000,1.00000)" font-size="9.20" text-anchor="middle" stroke-width="0.15">5</text>
<text transform="translate(122.78,134.40) scale(0.67000,1.00000)" font-size="9.20" text-anchor="middle" stroke-width="0.15">6</text>
<text transform="translate(73.94,12.75) scale(0.67500,1.00000)" font-size="11.20" font-weight="bold" text-anchor="middle" stroke-width="0.35">Density of LogNormal(0,0.75)</text>
<text transform="translate(141.29,115.12) scale(0.67000,1.00000)" font-size="9.20" text-anchor="end" stroke-width="0.15">0.0</text>
<text transform="translate(141.29,97.55) scale(0.67000,1.00000)" font-size="9.20" text-anchor="end" stroke-width="0.15">0.2</text>
<text transform="translate(141.29,79.99) scale(0.67000,1.00000)" font-size="9.20" text-anchor="end" stroke-width="0.15">0.4</text>
<text transform="translate(141.29,62.42) scale(0.67000,1.00000)" font-size="9.20" text-anchor="end" stroke-width="0.15">0.6</text>
<text transform="translate(141.29,44.86) scale(0.67000,1.00000)" font-size="9.20" text-anchor="end" stroke-width="0.15">0.8</text>
<text transform="translate(141.29,27.29) scale(0.67000,1.00000)" font-size="9.20" text-anchor="end" stroke-width="0.15">1.0</text>
<text transform="translate(152.40,134.40) scale(0.67000,1.00000)" font-size="9.20" text-anchor="middle" stroke-width="0.15">0</text>
<text transform="translate(168.68,134.40) scale(0.67000,1.00000)" font-size="9.20" text-anchor="middle" stroke-width="0.15">1</text>
<text transform="translate(184.96,134.40) scale(0.67000,1.00000)" font-size="9.20" text-anchor="middle" stroke-width="0.15">2</text>
<text transform="translate(201.24,134.40) scale(0.67000,1.00000)" font-size="9.20" text-anchor="middle" stroke-width="0.15">3</text>
<text transform="translate(217.52,134.40) scale(0.67000,1.00000)" font-size="9.20" text-anchor="middle" stroke-width="0.15">4</text>
<text transform="translate(233.80,134.40) scale(0.67000,1.00000)" font-size="9.20" text-anchor="middle" stroke-width="0.15">5</text>
<text transform="translate(250.08,134.40) scale(0.67000,1.00000)" font-size="9.20" text-anchor="middle" stroke-width="0.15">6</text>
<text transform="translate(201.24,12.75) scale(0.67500,1.00000)" font-size="11.20" font-weight="bold" text-anchor="middle" stroke-width="0.35">Gam</text>
<text transform="translate(268.79,115.12) scale(0.67000,1.00000)" font-size="9.20" text-anchor="end" stroke-width="0.15">0.0</text>
<text transform="translate(268.79,97.55) scale(0.67000,1.00000)" font-size="9.20" text-anchor="end" stroke-width="0.15">0.2</text>
<text transform="translate(268.79,79.99) scale(0.67000,1.00000)" font-size="9.20" text-anchor="end" stroke-width="0.15">0.4</text>
<text transform="translate(268.79,62.42) scale(0.67000,1.00000)" font-size="9.20" text-anchor="end" stroke-width="0.15">0.6</text>
<text transform="translate(268.79,44.86) scale(0.67000,1.00000)" font-size="9.20" text-anchor="end" stroke-width="0.15">0.8</text>
<text transform="translate(268.79,27.29) scale(0.67000,1.00000)" font-size="9.20" text-anchor="end" stroke-width="0.15">1.0</text>
<text transform="translate(279.90,134.40) scale(0.67000,1.00000)" font-size="9.20" text-anchor="middle" stroke-width="0.15">0</text>
<text transform="translate(296.18,134.40) scale(0.67000,1.00000)" font-size="9.20" text-anchor="middle" stroke-width="0.15">1</text>
<text transform="translate(312.46,134.40) scale(0.67000,1.00000)" font-size="9.20" text-anchor="middle" stroke-width="0.15">2</text>
<text transform="translate(328.74,134.40) scale(0.67000,1.00000)" font-size="9.20" text-anchor="middle" stroke-width="0.15">3</text>
<text transform="translate(345.02,134.40) scale(0.67000,1.00000)" font-size="9.20" text-anchor="middle" stroke-width="0.15">4</text>
<text transform="translate(361.30,134.40) scale(0.67000,1.00000)" font-size="9.20" text-anchor="middle" stroke-width="0.15">5</text>
<text transform="translate(377.58,134.40) scale(0.67000,1.00000)" font-size="9.20" text-anchor="middle" stroke-width="0.15">6</text>
<text transform="translate(328.74,12.75) scale(0.67500,1.00000)" font-size="11.20" font-weight="bold" text-anchor="middle" stroke-width="0.35">IGam</text>
<text transform="translate(13.99,252.42) scale(0.67000,1.00000)" font-size="9.20" text-anchor="end" stroke-width="0.15">0.0</text>
<text transform="translate(13.99,234.85) scale(0.67000,1.00000)" font-size="9.20" text-anchor="end" stroke-width="0.15">0.2</text>
<text transform="translate(13.99,217.29) scale(0.67000,1.00000)" font-size="9.20" text-anchor="end" stroke-width="0.15">0.4</text>
<text transform="translate(13.99,199.72) scale(0.67000,1.00000)" font-size="9.20" text-anchor="end" stroke-width="0.15">0.6</text>
<text transform="translate(13.99,182.16) scale(0.67000,1.00000)" font-size="9.20" text-anchor="end" stroke-width="0.15">0.8</text>
<text transform="translate(13.99,164.59) scale(0.67000,1.00000)" font-size="9.20" text-anchor="end" stroke-width="0.15">1.0</text>
<text transform="translate(25.10,271.70) scale(0.67000,1.00000)" font-size="9.20" text-anchor="middle" stroke-width="0.15">0</text>
<text transform="translate(41.38,271.70) scale(0.67000,1.00000)" font-size="9.20" text-anchor="middle" stroke-width="0.15">1</text>
<text transform="translate(57.66,271.70) scale(0.67000,1.00000)" font-size="9.20" text-anchor="middle" stroke-width="0.15">2</text>
<text transform="translate(73.94,271.70) scale(0.67000,1.00000)" font-size="9.20" text-anchor="middle" stroke-width="0.15">3</text>
<text transform="translate(90.22,271.70) scale(0.67000,1.00000)" font-size="9.20" text-anchor="middle" stroke-width="0.15">4</text>
<text transform="translate(106.50,271.70) scale(0.67000,1.00000)" font-size="9.20" text-anchor="middle" stroke-width="0.15">5</text>
<text transform="translate(122.78,271.70) scale(0.67000,1.00000)" font-size="9.20" text-anchor="middle" stroke-width="0.15">6</text>
<text transform="translate(73.94,150.05) scale(0.67500,1.00000)" font-size="11.20" font-weight="bold" text-anchor="middle" stroke-width="0.35">LN</text>
<text transform="translate(141.29,252.42) scale(0.67000,1.00000)" font-size="9.20" text-anchor="end" stroke-width="0.15">0.0</text>
<text transform="translate(141.29,234.85) scale(0.67000,1.00000)" font-size="9.20" text-anchor="end" stroke-width="0.15">0.2</text>
<text transform="translate(141.29,217.29) scale(0.67000,1.00000)" font-size="9.20" text-anchor="end" stroke-width="0.15">0.4</text>
<text transform="translate(141.29,199.72) scale(0.67000,1.00000)" font-size="9.20" text-anchor="end" stroke-width="0.15">0.6</text>
<text transform="translate(141.29,182.16) scale(0.67000,1.00000)" font-size="9.20" text-anchor="end" stroke-width="0.15">0.8</text>
<text transform="translate(141.29,164.59) scale(0.67000,1.00000)" font-size="9.20" text-anchor="end" stroke-width="0.15">1.0</text>
<text transform="translate(152.40,271.70) scale(0.67000,1.00000)" font-size="9.20" text-anchor="middle" stroke-width="0.15">0</text>
<text transform="translate(168.68,271.70) scale(0.67000,1.00000)" font-size="9.20" text-anchor="middle" stroke-width="0.15">1</text>
<text transform="translate(184.96,271.70) scale(0.67000,1.00000)" font-size="9.20" text-anchor="middle" stroke-width="0.15">2</text>
<text transform="translate(201.24,271.70) scale(0.67000,1.00000)" font-size="9.20" text-anchor="middle" stroke-width="0.15">3</text>
<text transform="translate(217.52,271.70) scale(0.67000,1.00000)" font-size="9.20" text-anchor="middle" stroke-width="0.15">4</text>
<text transform="translate(233.80,271.70) scale(0.67000,1.00000)" font-size="9.20" text-anchor="middle" stroke-width="0.15">5</text>
<text transform="translate(250.08,271.70) scale(0.67000,1.00000)" font-size="9.20" text-anchor="middle" stroke-width="0.15">6</text>
<text transform="translate(201.24,150.05) scale(0.67500,1.00000)" font-size="11.20" font-weight="bold" text-anchor="middle" stroke-width="0.35">IGau</text>
<text transform="translate(268.79,252.42) scale(0.67000,1.00000)" font-size="9.20" text-anchor="end" stroke-width="0.15">0.0</text>
<text transform="translate(268.79,234.85) scale(0.67000,1.00000)" font-size="9.20" text-anchor="end" stroke-width="0.15">0.2</text>
<text transform="translate(268.79,217.29) scale(0.67000,1.00000)" font-size="9.20" text-anchor="end" stroke-width="0.15">0.4</text>
<text transform="translate(268.79,199.72) scale(0.67000,1.00000)" font-size="9.20" text-anchor="end" stroke-width="0.15">0.6</text>
<text transform="translate(268.79,182.16) scale(0.67000,1.00000)" font-size="9.20" text-anchor="end" stroke-width="0.15">0.8</text>
<text transform="translate(268.79,164.59) scale(0.67000,1.00000)" font-size="9.20" text-anchor="end" stroke-width="0.15">1.0</text>
<text transform="translate(279.90,271.70) scale(0.67000,1.00000)" font-size="9.20" text-anchor="middle" stroke-width="0.15">0</text>
<text transform="translate(296.18,271.70) scale(0.67000,1.00000)" font-size="9.20" text-anchor="middle" stroke-width="0.15">1</text>
<text transform="translate(312.46,271.70) scale(0.67000,1.00000)" font-size="9.20" text-anchor="middle" stroke-width="0.15">2</text>
<text transform="translate(328.74,271.70) scale(0.67000,1.00000)" font-size="9.20" text-anchor="middle" stroke-width="0.15">3</text>
<text transform="translate(345.02,271.70) scale(0.67000,1.00000)" font-size="9.20" text-anchor="middle" stroke-width="0.15">4</text>
<text transform="translate(361.30,271.70) scale(0.67000,1.00000)" font-size="9.20" text-anchor="middle" stroke-width="0.15">5</text>
<text transform="translate(377.58,271.70) scale(0.67000,1.00000)" font-size="9.20" text-anchor="middle" stroke-width="0.15">6</text>
<text transform="translate(328.74,150.05) scale(0.67500,1.00000)" font-size="11.20" font-weight="bold" text-anchor="middle" stroke-width="0.35">RIG</text>
<text transform="translate(13.99,389.82) scale(0.67000,1.00000)" font-size="9.20" text-anchor="end" stroke-width="0.15">0.0</text>
<text transform="translate(13.99,372.25) scale(0.67000,1.00000)" font-size="9.20" text-anchor="end" stroke-width="0.15">0.2</text>
<text transform="translate(13.99,354.69) scale(0.67000,1.00000)" font-size="9.20" text-anchor="end" stroke-width="0.15">0.4</text>
<text transform="translate(13.99,337.12) scale(0.67000,1.00000)" font-size="9.20" text-anchor="end" stroke-width="0.15">0.6</text>
<text transform="translate(13.99,319.56) scale(0.67000,1.00000)" font-size="9.20" text-anchor="end" stroke-width="0.15">0.8</text>
<text transform="translate(13.99,301.99) scale(0.67000,1.00000)" font-size="9.20" text-anchor="end" stroke-width="0.15">1.0</text>
<text transform="translate(25.10,409.10) scale(0.67000,1.00000)" font-size="9.20" text-anchor="middle" stroke-width="0.15">0</text>
<text transform="translate(41.38,409.10) scale(0.67000,1.00000)" font-size="9.20" text-anchor="middle" stroke-width="0.15">1</text>
<text transform="translate(57.66,409.10) scale(0.67000,1.00000)" font-size="9.20" text-anchor="middle" stroke-width="0.15">2</text>
<text transform="translate(73.94,409.10) scale(0.67000,1.00000)" font-size="9.20" text-anchor="middle" stroke-width="0.15">3</text>
<text transform="translate(90.22,409.10) scale(0.67000,1.00000)" font-size="9.20" text-anchor="middle" stroke-width="0.15">4</text>
<text transform="translate(106.50,409.10) scale(0.67000,1.00000)" font-size="9.20" text-anchor="middle" stroke-width="0.15">5</text>
<text transform="translate(122.78,409.10) scale(0.67000,1.00000)" font-size="9.20" text-anchor="middle" stroke-width="0.15">6</text>
<text transform="translate(73.94,287.45) scale(0.67500,1.00000)" font-size="11.20" font-weight="bold" text-anchor="middle" stroke-width="0.35">B−S</text>
<text transform="translate(141.29,389.82) scale(0.67000,1.00000)" font-size="9.20" text-anchor="end" stroke-width="0.15">0.0</text>
<text transform="translate(141.29,372.25) scale(0.67000,1.00000)" font-size="9.20" text-anchor="end" stroke-width="0.15">0.2</text>
<text transform="translate(141.29,354.69) scale(0.67000,1.00000)" font-size="9.20" text-anchor="end" stroke-width="0.15">0.4</text>
<text transform="translate(141.29,337.12) scale(0.67000,1.00000)" font-size="9.20" text-anchor="end" stroke-width="0.15">0.6</text>
<text transform="translate(141.29,319.56) scale(0.67000,1.00000)" font-size="9.20" text-anchor="end" stroke-width="0.15">0.8</text>
<text transform="translate(141.29,301.99) scale(0.67000,1.00000)" font-size="9.20" text-anchor="end" stroke-width="0.15">1.0</text>
<text transform="translate(152.40,409.10) scale(0.67000,1.00000)" font-size="9.20" text-anchor="middle" stroke-width="0.15">0</text>
<text transform="translate(168.68,409.10) scale(0.67000,1.00000)" font-size="9.20" text-anchor="middle" stroke-width="0.15">1</text>
<text transform="translate(184.96,409.10) scale(0.67000,1.00000)" font-size="9.20" text-anchor="middle" stroke-width="0.15">2</text>
<text transform="translate(201.24,409.10) scale(0.67000,1.00000)" font-size="9.20" text-anchor="middle" stroke-width="0.15">3</text>
<text transform="translate(217.52,409.10) scale(0.67000,1.00000)" font-size="9.20" text-anchor="middle" stroke-width="0.15">4</text>
<text transform="translate(233.80,409.10) scale(0.67000,1.00000)" font-size="9.20" text-anchor="middle" stroke-width="0.15">5</text>
<text transform="translate(250.08,409.10) scale(0.67000,1.00000)" font-size="9.20" text-anchor="middle" stroke-width="0.15">6</text>
<text transform="translate(201.24,287.45) scale(0.67500,1.00000)" font-size="11.20" font-weight="bold" text-anchor="middle" stroke-width="0.35">W</text>
<text transform="translate(268.79,389.82) scale(0.67000,1.00000)" font-size="9.20" text-anchor="end" stroke-width="0.15">0.0</text>
<text transform="translate(268.79,372.25) scale(0.67000,1.00000)" font-size="9.20" text-anchor="end" stroke-width="0.15">0.2</text>
<text transform="translate(268.79,354.69) scale(0.67000,1.00000)" font-size="9.20" text-anchor="end" stroke-width="0.15">0.4</text>
<text transform="translate(268.79,337.12) scale(0.67000,1.00000)" font-size="9.20" text-anchor="end" stroke-width="0.15">0.6</text>
<text transform="translate(268.79,319.56) scale(0.67000,1.00000)" font-size="9.20" text-anchor="end" stroke-width="0.15">0.8</text>
<text transform="translate(268.79,301.99) scale(0.67000,1.00000)" font-size="9.20" text-anchor="end" stroke-width="0.15">1.0</text>
<text transform="translate(279.90,409.10) scale(0.67000,1.00000)" font-size="9.20" text-anchor="middle" stroke-width="0.15">0</text>
<text transform="translate(296.18,409.10) scale(0.67000,1.00000)" font-size="9.20" text-anchor="middle" stroke-width="0.15">1</text>
<text transform="translate(312.46,409.10) scale(0.67000,1.00000)" font-size="9.20" text-anchor="middle" stroke-width="0.15">2</text>
<text transform="translate(328.74,409.10) scale(0.67000,1.00000)" font-size="9.20" text-anchor="middle" stroke-width="0.15">3</text>
<text transform="translate(345.02,409.10) scale(0.67000,1.00000)" font-size="9.20" text-anchor="middle" stroke-width="0.15">4</text>
<text transform="translate(361.30,409.10) scale(0.67000,1.00000)" font-size="9.20" text-anchor="middle" stroke-width="0.15">5</text>
<text transform="translate(377.58,409.10) scale(0.67000,1.00000)" font-size="9.20" text-anchor="middle" stroke-width="0.15">6</text>
<text transform="translate(328.74,287.45) scale(0.67500,1.00000)" font-size="11.20" font-weight="bold" text-anchor="middle" stroke-width="0.35">OK</text>
<text transform="translate(13.99,527.52) scale(0.67000,1.00000)" font-size="9.20" text-anchor="end" stroke-width="0.15">0.0</text>
<text transform="translate(13.99,509.95) scale(0.67000,1.00000)" font-size="9.20" text-anchor="end" stroke-width="0.15">0.2</text>
<text transform="translate(13.99,492.39) scale(0.67000,1.00000)" font-size="9.20" text-anchor="end" stroke-width="0.15">0.4</text>
<text transform="translate(13.99,474.82) scale(0.67000,1.00000)" font-size="9.20" text-anchor="end" stroke-width="0.15">0.6</text>
<text transform="translate(13.99,457.26) scale(0.67000,1.00000)" font-size="9.20" text-anchor="end" stroke-width="0.15">0.8</text>
<text transform="translate(13.99,439.69) scale(0.67000,1.00000)" font-size="9.20" text-anchor="end" stroke-width="0.15">1.0</text>
<text transform="translate(25.10,546.80) scale(0.67000,1.00000)" font-size="9.20" text-anchor="middle" stroke-width="0.15">0</text>
<text transform="translate(41.38,546.80) scale(0.67000,1.00000)" font-size="9.20" text-anchor="middle" stroke-width="0.15">1</text>
<text transform="translate(57.66,546.80) scale(0.67000,1.00000)" font-size="9.20" text-anchor="middle" stroke-width="0.15">2</text>
<text transform="translate(73.94,546.80) scale(0.67000,1.00000)" font-size="9.20" text-anchor="middle" stroke-width="0.15">3</text>
<text transform="translate(90.22,546.80) scale(0.67000,1.00000)" font-size="9.20" text-anchor="middle" stroke-width="0.15">4</text>
<text transform="translate(106.50,546.80) scale(0.67000,1.00000)" font-size="9.20" text-anchor="middle" stroke-width="0.15">5</text>
<text transform="translate(122.78,546.80) scale(0.67000,1.00000)" font-size="9.20" text-anchor="middle" stroke-width="0.15">6</text>
<text transform="translate(73.94,425.15) scale(0.67500,1.00000)" font-size="11.20" font-weight="bold" text-anchor="middle" stroke-width="0.35">BK</text>
<text transform="translate(141.29,527.52) scale(0.67000,1.00000)" font-size="9.20" text-anchor="end" stroke-width="0.15">0.0</text>
<text transform="translate(141.29,509.95) scale(0.67000,1.00000)" font-size="9.20" text-anchor="end" stroke-width="0.15">0.2</text>
<text transform="translate(141.29,492.39) scale(0.67000,1.00000)" font-size="9.20" text-anchor="end" stroke-width="0.15">0.4</text>
<text transform="translate(141.29,474.82) scale(0.67000,1.00000)" font-size="9.20" text-anchor="end" stroke-width="0.15">0.6</text>
<text transform="translate(141.29,457.26) scale(0.67000,1.00000)" font-size="9.20" text-anchor="end" stroke-width="0.15">0.8</text>
<text transform="translate(141.29,439.69) scale(0.67000,1.00000)" font-size="9.20" text-anchor="end" stroke-width="0.15">1.0</text>
<text transform="translate(152.40,546.80) scale(0.67000,1.00000)" font-size="9.20" text-anchor="middle" stroke-width="0.15">0</text>
<text transform="translate(168.68,546.80) scale(0.67000,1.00000)" font-size="9.20" text-anchor="middle" stroke-width="0.15">1</text>
<text transform="translate(184.96,546.80) scale(0.67000,1.00000)" font-size="9.20" text-anchor="middle" stroke-width="0.15">2</text>
<text transform="translate(201.24,546.80) scale(0.67000,1.00000)" font-size="9.20" text-anchor="middle" stroke-width="0.15">3</text>
<text transform="translate(217.52,546.80) scale(0.67000,1.00000)" font-size="9.20" text-anchor="middle" stroke-width="0.15">4</text>
<text transform="translate(233.80,546.80) scale(0.67000,1.00000)" font-size="9.20" text-anchor="middle" stroke-width="0.15">5</text>
<text transform="translate(250.08,546.80) scale(0.67000,1.00000)" font-size="9.20" text-anchor="middle" stroke-width="0.15">6</text>
<text transform="translate(201.24,425.15) scale(0.67500,1.00000)" font-size="11.20" font-weight="bold" text-anchor="middle" stroke-width="0.35">EDF</text>
</g>
</g>
</svg></div>
</body></html>
